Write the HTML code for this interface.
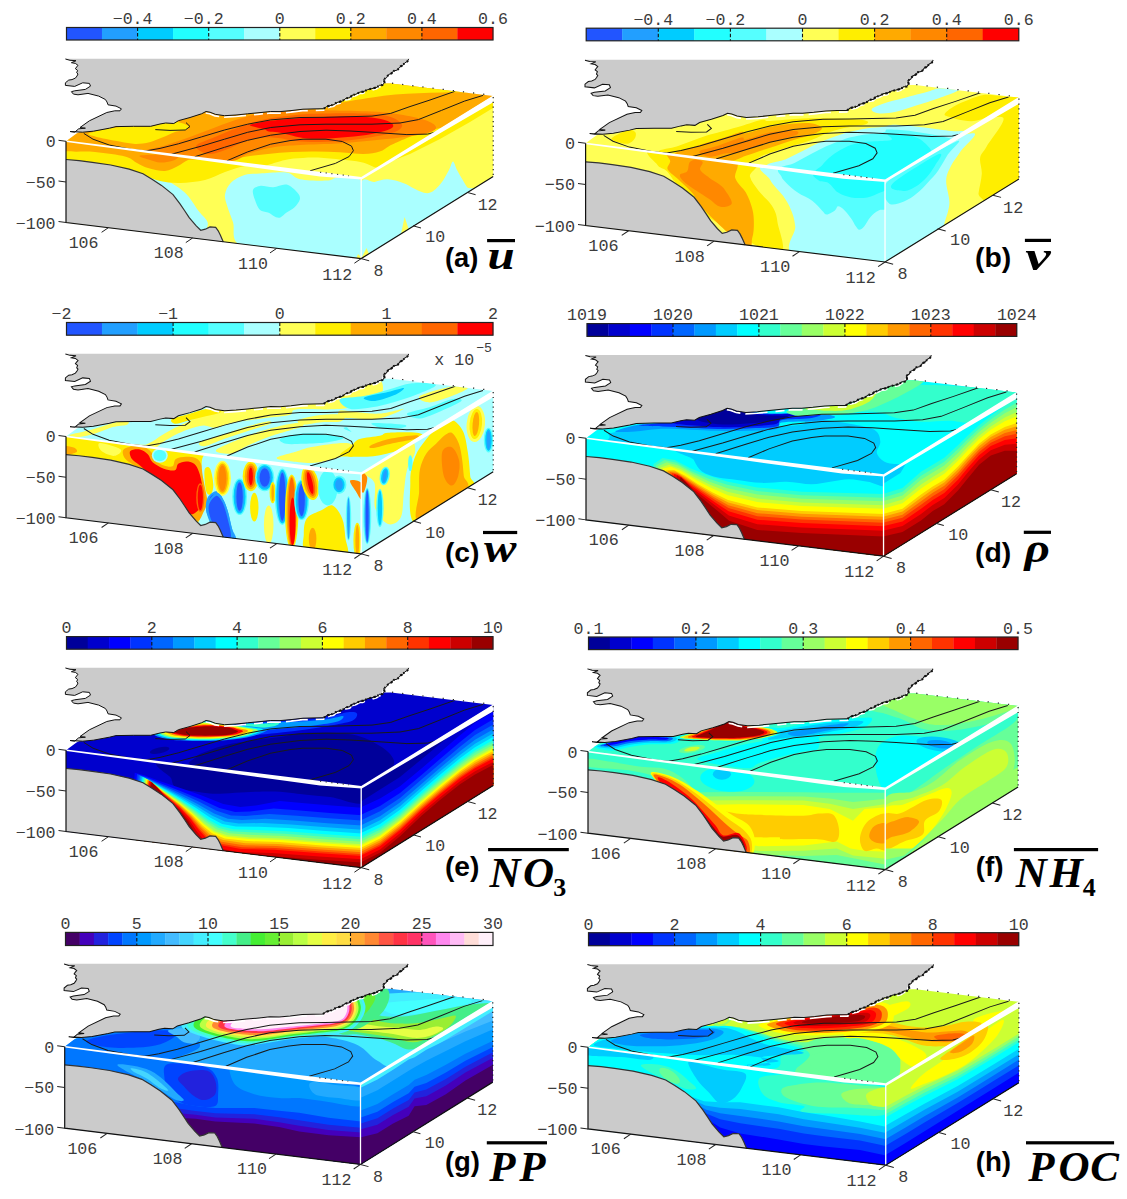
<!DOCTYPE html><html><head><meta charset="utf-8"><title>Figure: 3D mean fields (a)-(h)</title>
<style>html,body{margin:0;padding:0;background:#fff}svg{display:block}text{white-space:pre}</style></head><body>
<svg width="1127" height="1199" viewBox="0 0 1127 1199">
<defs><clipPath id="cTop"><path d="M66.0 141.3 L361.2 178.0 L493.2 96.0 L391.0 83.6 L330.0 84.0 L200.0 108.0 L150.0 115.0 L95.0 124.0 L76.5 133.5 Z"/></clipPath><clipPath id="cFront"><path d="M66.0 141.3 L361.2 178.0 L361.2 258.6 L66.0 222.5 Z"/></clipPath><clipPath id="cRight"><path d="M361.2 178.0 L493.2 96.0 L493.2 176.6 L361.2 258.6 Z"/></clipPath><clipPath id="cSea"><path d="M66.0 141.3 L361.2 178.0 L493.2 96.0 L391.0 84.0 L382.6 85.0 L379.5 85.3 L376.9 87.3 L372.0 88.6 L367.7 89.6 L363.0 91.8 L360.0 92.0 L356.0 94.2 L352.0 95.3 L350.0 97.6 L346.0 98.3 L342.3 101.1 L336.5 102.6 L334.0 104.6 L329.6 105.7 L326.5 106.6 L323.8 108.7 L314.0 108.9 L303.0 109.2 L291.0 110.6 L280.0 111.6 L270.7 111.5 L260.0 112.6 L247.6 113.8 L236.0 115.0 L224.5 115.7 L215.3 114.3 L210.0 112.2 L206.0 111.5 L201.5 113.8 L190.0 117.5 L178.4 120.7 L173.8 123.5 L165.7 123.0 L160.0 124.0 L150.7 126.3 L133.5 126.3 L116.0 126.6 L109.4 128.2 L93.4 131.2 L82.7 132.2 L74.7 132.2 L70.5 138.5 Z"/></clipPath><filter id="b2" x="-20%" y="-20%" width="140%" height="140%"><feGaussianBlur stdDeviation="2"/></filter><filter id="b3" x="-20%" y="-20%" width="140%" height="140%"><feGaussianBlur stdDeviation="3"/></filter><filter id="b5" x="-20%" y="-20%" width="140%" height="140%"><feGaussianBlur stdDeviation="5"/></filter><filter id="b8" x="-30%" y="-30%" width="160%" height="160%"><feGaussianBlur stdDeviation="8"/></filter><g id="land"><path d="M65.4 58.7 L408.7 58.7 L408.7 58.9 L407.5 61.3 L404.6 63.0 L402.6 65.6 L400.0 66.6 L397.6 70.0 L393.5 71.0 L391.5 73.4 L388.4 74.6 L386.5 77.8 L383.8 79.2 L384.5 82.5 L382.6 85.0 L379.5 85.3 L376.9 87.3 L372.0 88.6 L367.7 89.6 L363.0 91.8 L360.0 92.0 L356.0 94.2 L352.0 95.3 L350.0 97.6 L346.0 98.3 L342.3 101.1 L336.5 102.6 L334.0 104.6 L329.6 105.7 L326.5 106.6 L323.8 108.7 L314.0 108.9 L303.0 109.2 L291.0 110.6 L280.0 111.6 L270.7 111.5 L260.0 112.6 L247.6 113.8 L236.0 115.0 L224.5 115.7 L215.3 114.3 L210.0 112.2 L206.0 111.5 L201.5 113.8 L190.0 117.5 L178.4 120.7 L173.8 123.5 L165.7 123.0 L160.0 124.0 L150.7 126.3 L133.5 126.3 L116.0 126.6 L109.4 128.2 L93.4 131.2 L82.7 132.2 L74.7 132.2 L74.7 132.2 L78.7 128.8 L85.4 128.2 L80.0 127.5 L89.4 120.8 L106.8 112.5 L114.8 110.8 L120.0 110.8 L121.4 108.8 L116.0 106.1 L108.0 104.8 L107.0 102.0 L105.4 99.5 L98.7 96.1 L88.0 93.4 L78.0 94.8 L73.4 94.1 L71.4 91.7 L74.7 90.8 L85.4 89.4 L90.5 86.1 L89.4 83.4 L82.7 82.8 L74.7 86.4 L65.4 85.4 L65.4 82.8 L68.7 80.1 L72.0 79.6 L75.4 78.1 L77.0 76.0 L78.0 74.0 L76.7 72.8 L77.6 70.4 L75.4 68.7 L76.6 67.0 L78.0 65.4 L75.4 63.4 L71.4 62.7 L76.0 60.7 L70.0 60.3 L65.4 59.0 Z" fill="#cbcbcb"/><path d="M205.7 113.0 L209.7 113.7 L215.0 115.8 L224.2 117.2 L235.7 116.5 L247.3 115.3 L259.7 114.1 L270.4 113.0 L279.7 113.1 L290.7 112.1 L302.7 110.7 L313.7 110.4 L323.5 110.2 L326.2 108.1 L329.3 107.2 L333.7 106.1 L336.2 104.1 L342.0 102.6 L345.7 99.8 L349.7 99.1 L351.7 96.8 L355.7 95.7 L359.7 93.5 L362.7 93.3 L367.4 91.1 L371.7 90.1 L376.6 88.8 L379.2 86.8 L382.3 86.5 L383.5 80.7" fill="none" stroke="#fff" stroke-width="1.7" stroke-dasharray="14 5 22 8 9 4"/><path d="M65.4 59.0 L70.0 60.3 L76.0 60.7 L71.4 62.7 L75.4 63.4 L78.0 65.4 L76.6 67.0 L75.4 68.7 L77.6 70.4 L76.7 72.8 L78.0 74.0 L77.0 76.0 L75.4 78.1 L72.0 79.6 L68.7 80.1 L65.4 82.8 L65.4 85.4 L74.7 86.4 L82.7 82.8 L89.4 83.4 L90.5 86.1 L85.4 89.4 L74.7 90.8 L71.4 91.7 L73.4 94.1 L78.0 94.8 L88.0 93.4 L98.7 96.1 L105.4 99.5 L107.0 102.0 L108.0 104.8 L116.0 106.1 L121.4 108.8 L120.0 110.8 L114.8 110.8 L106.8 112.5 L89.4 120.8 L80.0 127.5 L85.4 128.2 L78.7 128.8 L74.7 132.2 L70.0 131.5 L82.7 132.2 L93.4 131.2 L109.4 128.2 L116.0 126.6 L133.5 126.3 L150.7 126.3 L160.0 124.0 L165.7 123.0 L173.8 123.5 L178.4 120.7 L190.0 117.5 L201.5 113.8 L206.0 111.5 L210.0 112.2 L215.3 114.3 L224.5 115.7 L236.0 115.0 L247.6 113.8 L260.0 112.6 L270.7 111.5 L280.0 111.6 L291.0 110.6 L303.0 109.2 L314.0 108.9 L323.8 108.7 L326.5 106.6 L329.6 105.7 L334.0 104.6 L336.5 102.6 L342.3 101.1 L346.0 98.3 L350.0 97.6 L352.0 95.3 L356.0 94.2 L360.0 92.0 L363.0 91.8 L367.7 89.6 L372.0 88.6 L376.9 87.3 L379.5 85.3 L382.6 85.0 L384.5 82.5 L383.8 79.2 L386.5 77.8 L388.4 74.6 L391.5 73.4 L393.5 71.0 L397.6 70.0 L400.0 66.6 L402.6 65.6 L404.6 63.0 L407.5 61.3 L408.7 58.9" fill="none" stroke="#111" stroke-width="1"/><path d="M323.8 108.7 L326.5 106.6 L329.6 105.7 L334.0 104.6 L336.5 102.6 L342.3 101.1 L346.0 98.3 L350.0 97.6 L352.0 95.3 L356.0 94.2 L360.0 92.0 L363.0 91.8 L367.7 89.6 L372.0 88.6 L376.9 87.3 L379.5 85.3 L382.6 85.0 L384.5 82.5 L383.8 79.2 L386.5 77.8 L388.4 74.6 L391.5 73.4 L393.5 71.0 L397.6 70.0 L400.0 66.6 L402.6 65.6 L404.6 63.0 L407.5 61.3 L408.7 58.9" fill="none" stroke="#111" stroke-width="2.1" stroke-dasharray="1.6 2.6 2.4 1.8 1.2 3.1"/></g><g id="contours" clip-path="url(#cSea)"><path d="M83.8 133.4 L93.0 139.2 L109.2 145.0 L132.3 149.6 L146.0 150.9" fill="none" stroke="#1a1a1a" stroke-width="1"/><path d="M146.0 150.9 L160.0 148.4 L178.4 143.8 L201.5 136.9 L224.5 130.0 L247.6 124.2 L270.7 119.9 L300.0 117.5 L326.0 117.3 L372.0 116.1 L390.7 113.4 L409.0 106.9 L430.0 100.0 L455.3 91.2" fill="none" stroke="#1a1a1a" stroke-width="1"/><path d="M171.5 154.2 L201.5 146.1 L224.5 139.2 L247.6 132.3 L270.7 127.5 L300.0 124.8 L326.0 124.2 L372.0 124.2 L400.0 123.0 L418.4 119.6 L441.5 110.4 L464.5 101.1 L483.0 95.4" fill="none" stroke="#1a1a1a" stroke-width="1"/><path d="M194.6 156.8 L224.5 147.3 L247.6 140.3 L270.7 135.2 L300.0 131.5 L326.0 130.2 L350.0 131.0 L372.0 132.3 L406.9 134.6 L427.6 134.1 L436.9 131.8" fill="none" stroke="#1a1a1a" stroke-width="1"/><path d="M226.9 160.8 L247.6 151.9 L270.7 144.2 L290.0 140.6 L303.0 139.2 L326.0 139.2 L342.3 141.5 L351.5 146.1 L353.4 150.7 L349.2 156.5 L335.4 163.4 L310.0 170.8" fill="none" stroke="#1a1a1a" stroke-width="1"/><path d="M155.3 129.6 L170.0 130.4 L185.3 130.0 L190.0 126.5 L186.0 122.6" fill="none" stroke="#1a1a1a" stroke-width="1"/></g><g id="seabed"><path d="M66.0 159.5 L79.0 160.6 L92.3 162.3 L110.7 165.0 L129.2 169.2 L143.0 173.8 L152.0 179.2 L161.5 185.4 L173.0 194.6 L180.0 203.8 L184.5 210.5 L189.2 217.7 L196.0 225.7 L200.7 230.3 L205.3 229.2 L210.0 226.9 L215.7 227.3 L218.2 230.8 L220.3 235.0 L223.3 241.9 L66.0 222.5 Z" fill="#cbcbcb"/><path d="M66.0 159.5 L79.0 160.6 L92.3 162.3 L110.7 165.0 L129.2 169.2 L143.0 173.8 L152.0 179.2 L161.5 185.4 L173.0 194.6 L180.0 203.8 L184.5 210.5 L189.2 217.7 L196.0 225.7 L200.7 230.3 L205.3 229.2 L210.0 226.9 L215.7 227.3 L218.2 230.8 L220.3 235.0 L223.3 241.9" fill="none" stroke="#333" stroke-width="1.2"/></g><g id="axes"><path d="M66.5 140.6 L361.2 177.1 L361.8 179.4 L320.0 176.4 L200.0 160.1 L66.5 142.1 Z" fill="#fff"/><path d="M360.8 177.3 L493.2 95.4 L493.2 102.2 L440.0 133.2 L361.4 179.8 Z" fill="#fff"/><path d="M361.2 178.0 L361.2 258.6" stroke="#fff" stroke-width="1.3"/><path d="M66.0 141.3 L66.0 222.5 L361.2 258.6 L493.2 176.6" fill="none" stroke="#111" stroke-width="1.2"/><path d="M493.2 97.0 L493.2 176.6" stroke="#222" stroke-width="1.2" stroke-dasharray="1.2 3.6"/><path d="M392.0 83.2 L493.2 95.4" stroke="#222" stroke-width="1.2" stroke-dasharray="1.2 9"/><path d="M320.0 172.2 L349.0 175.8" stroke="#333" stroke-width="1.1" stroke-dasharray="1.2 4.5"/><path d="M58.5 140.3 L66 141.3" stroke="#222" stroke-width="1"/><path d="M58.5 181.0 L66 182.0" stroke="#222" stroke-width="1"/><path d="M58.5 221.5 L66 222.5" stroke="#222" stroke-width="1"/><path d="M108.4 227.7 L101.6 232.3" stroke="#222" stroke-width="1"/><path d="M192.6 238.0 L185.8 242.6" stroke="#222" stroke-width="1"/><path d="M276.8 248.3 L270.0 252.9" stroke="#222" stroke-width="1"/><path d="M361.2 258.6 L354.4 263.2" stroke="#222" stroke-width="1"/><path d="M361.2 258.6 L369.2 260.8" stroke="#222" stroke-width="1"/><path d="M413.0 225.8 L421.0 228.0" stroke="#222" stroke-width="1"/><path d="M467.6 192.5 L475.6 194.7" stroke="#222" stroke-width="1"/></g></defs>
<rect width="1127" height="1199" fill="#fff"/>
<g transform="translate(0.00 0.00) scale(1.0000 1.0000)"><g clip-path="url(#cTop)"><rect x="60" y="50" width="440" height="215" fill="#ffaa00"/><path d="M318.0 112.0 C318.0 113.0 324.7 107.8 330.0 106.0 C335.3 104.2 342.9 102.4 350.0 101.0 C357.1 99.6 364.8 98.6 372.3 97.5 C379.9 96.4 387.6 95.3 395.3 94.6 C403.0 93.9 410.7 93.6 418.4 93.2 C426.1 92.8 433.8 92.5 441.5 92.4 C449.2 92.3 458.1 92.1 464.5 92.4 C470.9 92.7 474.6 93.7 480.0 94.0 C485.4 94.3 494.2 96.3 497.0 94.0 C499.8 91.7 516.5 83.0 497.0 80.0 C477.5 77.0 407.8 72.7 380.0 76.0 C352.2 79.3 340.3 94.0 330.0 100.0 C319.7 106.0 318.0 111.0 318.0 112.0 Z" fill="#ffee00" /><path d="M222.0 163.0 C225.2 160.5 236.3 158.6 244.0 157.1 C251.7 155.6 259.9 154.8 267.9 153.9 C275.9 153.1 283.9 152.4 291.9 152.0 C299.9 151.6 307.8 151.4 315.8 151.5 C323.8 151.6 331.8 151.9 339.8 152.3 C347.8 152.7 357.1 154.0 363.7 153.9 C370.3 153.8 375.4 152.8 379.7 151.5 C384.0 150.2 385.9 147.7 389.3 145.9 C392.7 144.2 394.9 143.2 400.0 141.0 C405.1 138.8 413.3 135.2 420.0 133.0 C426.7 130.8 434.7 129.2 440.0 128.0 C445.3 126.8 447.0 127.7 452.0 126.0 C457.0 124.3 472.0 115.7 470.0 118.0 C468.0 120.3 451.7 131.3 440.0 140.0 C428.3 148.7 413.2 161.7 400.0 170.0 C386.8 178.3 377.7 187.5 361.0 190.0 C344.3 192.5 322.7 188.0 300.0 185.0 C277.3 182.0 238.0 175.7 225.0 172.0 C212.0 168.3 218.8 165.5 222.0 163.0 Z" fill="#ffee00" /><path d="M262.0 170.0 C259.3 166.7 277.1 162.3 283.9 160.3 C290.7 158.3 296.4 158.3 303.0 157.9 C309.6 157.5 316.3 157.5 323.8 157.9 C331.3 158.3 341.2 159.5 347.8 160.3 C354.4 161.1 359.4 161.6 363.7 162.7 C367.9 163.8 370.4 165.3 373.3 166.7 C376.2 168.1 383.1 167.8 381.0 171.0 C378.9 174.2 374.5 184.5 361.0 186.0 C347.5 187.5 316.5 182.7 300.0 180.0 C283.5 177.3 264.7 173.3 262.0 170.0 Z" fill="#ffff55" /><path d="M146.0 152.0 C140.2 149.9 157.7 148.0 165.0 145.5 C172.3 143.0 181.7 140.0 190.0 137.0 C198.3 134.0 206.7 130.6 215.0 127.5 C223.3 124.4 232.2 120.8 240.0 118.5 C247.8 116.2 252.0 114.8 262.0 113.5 C272.0 112.2 288.7 111.1 300.0 110.6 C311.3 110.1 318.0 110.2 330.0 110.4 C342.0 110.6 360.3 110.8 372.0 111.5 C383.7 112.2 391.2 113.1 400.0 114.5 C408.8 115.9 419.0 117.9 425.0 120.0 C431.0 122.1 435.5 124.8 436.0 127.0 C436.5 129.2 434.0 131.2 428.0 133.0 C422.0 134.8 409.3 136.2 400.0 137.5 C390.7 138.8 382.3 139.5 372.0 140.5 C361.7 141.5 350.0 142.8 338.0 143.5 C326.0 144.2 310.5 144.4 300.0 145.0 C289.5 145.6 283.3 145.7 275.0 147.0 C266.7 148.3 257.2 150.7 250.0 153.0 C242.8 155.3 240.3 160.2 232.0 161.0 C223.7 161.8 214.3 159.5 200.0 158.0 C185.7 156.5 151.8 154.1 146.0 152.0 Z" fill="#ff8800" /><path d="M196.0 146.0 C197.2 143.2 207.7 140.2 215.0 137.0 C222.3 133.8 232.2 129.8 240.0 127.0 C247.8 124.2 252.0 122.1 262.0 120.0 C272.0 117.9 288.7 115.7 300.0 114.6 C311.3 113.5 318.0 113.5 330.0 113.4 C342.0 113.3 361.7 113.3 372.0 114.0 C382.3 114.7 387.0 115.7 392.0 117.5 C397.0 119.3 401.3 122.7 402.0 125.0 C402.7 127.3 400.0 129.7 396.0 131.5 C392.0 133.3 386.0 134.5 378.0 136.0 C370.0 137.5 357.7 139.5 348.0 140.5 C338.3 141.5 328.7 141.9 320.0 142.0 C311.3 142.1 303.0 141.7 296.0 141.0 C289.0 140.3 283.7 138.6 278.0 138.0 C272.3 137.4 267.7 136.8 262.0 137.5 C256.3 138.2 250.2 139.9 244.0 142.0 C237.8 144.1 231.0 148.0 225.0 150.0 C219.0 152.0 212.8 154.7 208.0 154.0 C203.2 153.3 194.8 148.8 196.0 146.0 Z" fill="#ff6600" /><path d="M250.3 124.8 C252.3 123.8 261.0 122.1 267.9 121.1 C274.8 120.1 283.9 119.3 291.9 118.7 C299.9 118.1 306.5 117.6 315.8 117.2 C325.1 116.8 338.5 116.4 347.8 116.4 C357.1 116.5 365.1 116.7 371.7 117.5 C378.3 118.3 384.1 119.7 387.7 121.1 C391.3 122.5 393.3 124.4 393.3 125.9 C393.3 127.4 391.3 128.6 387.7 129.9 C384.1 131.2 378.3 132.7 371.7 133.9 C365.1 135.1 355.8 136.3 347.8 137.1 C339.8 137.9 331.2 138.6 323.8 138.7 C316.4 138.8 309.0 138.6 303.1 137.9 C297.2 137.2 293.0 135.6 288.7 134.7 C284.4 133.8 280.8 132.8 277.5 132.3 C274.2 131.8 270.9 132.0 268.7 131.5 C266.4 131.0 266.1 129.8 264.0 129.1 C261.9 128.4 258.3 127.9 256.0 127.2 C253.7 126.5 248.3 125.8 250.3 124.8 Z" fill="#ff0000" /><path d="M88.7 133.5 C90.8 132.2 101.5 129.9 107.9 128.7 C114.3 127.5 120.2 126.8 127.1 126.4 C134.0 126.0 143.6 127.0 149.4 126.5 C155.2 126.0 157.9 124.3 162.2 123.5 C166.5 122.7 170.7 121.1 175.0 121.4 C179.3 121.8 185.9 124.2 187.8 125.6 C189.7 126.9 188.3 128.4 186.2 129.5 C184.1 130.6 179.0 130.6 175.0 131.9 C171.0 133.2 166.5 135.8 162.2 137.5 C157.9 139.2 153.9 141.2 149.4 142.3 C144.9 143.4 139.9 144.0 135.1 143.9 C130.3 143.8 125.5 142.6 120.7 141.8 C115.9 141.0 110.6 140.0 106.3 139.1 C102.0 138.2 98.0 137.3 95.1 136.4 C92.2 135.5 86.6 134.8 88.7 133.5 Z" fill="#ffee00" /></g><use href="#land"/><use href="#contours"/><g clip-path="url(#cFront)"><rect x="60" y="50" width="440" height="215" fill="#ffff55"/><path d="M241.0 246.0 C229.8 240.6 235.3 229.0 233.0 222.3 C230.7 215.7 228.5 210.7 227.2 206.1 C225.9 201.5 224.4 198.4 225.0 194.6 C225.6 190.8 227.4 186.3 230.7 183.0 C233.9 179.7 239.6 176.6 244.5 175.0 C249.4 173.4 253.0 173.9 260.0 173.5 C267.0 173.1 279.9 171.7 286.6 172.6 C293.3 173.5 293.4 177.9 300.0 179.2 C306.6 180.5 319.9 180.8 326.5 180.6 C333.1 180.4 333.4 176.8 339.8 177.9 C346.2 179.0 360.8 173.2 365.0 187.2 C369.2 201.2 375.8 250.7 365.0 262.0 C354.2 273.3 320.7 257.7 300.0 255.0 C279.3 252.3 252.2 251.4 241.0 246.0 Z" fill="#aaffff" /><path d="M253.0 190.0 C253.8 187.7 256.6 186.4 260.0 185.9 C263.4 185.4 268.9 187.4 273.3 187.2 C277.7 187.0 282.6 183.7 286.6 184.6 C290.6 185.5 295.1 190.1 297.3 192.5 C299.5 194.9 300.3 196.8 299.9 199.2 C299.4 201.6 296.8 205.0 294.6 207.2 C292.4 209.4 289.3 210.7 286.6 212.5 C283.9 214.3 281.7 217.8 278.6 217.8 C275.5 217.8 271.1 213.8 268.0 212.5 C264.9 211.2 262.2 212.0 260.0 209.9 C257.8 207.8 256.2 203.3 255.0 200.0 C253.8 196.7 252.2 192.3 253.0 190.0 Z" fill="#55ffff" /><path d="M147.6 171.5 C149.9 171.7 155.3 173.8 161.5 177.3 C167.6 180.7 178.4 186.7 184.5 192.3 C190.7 197.9 194.5 205.7 198.4 210.7 C202.2 215.7 206.7 218.8 207.6 222.3 C208.6 225.7 206.1 230.3 204.2 231.5 C202.2 232.7 198.6 231.5 196.1 229.2 C193.6 226.9 191.8 221.9 189.2 217.7 C186.5 213.4 182.6 207.5 179.9 203.8 C177.2 200.2 176.1 198.6 173.0 195.7 C169.9 192.9 165.7 189.8 161.5 186.5 C157.2 183.2 149.9 178.6 147.6 176.1 C145.3 173.6 145.3 171.3 147.6 171.5 Z" fill="#aaffff" /><path d="M60.0 172.0 C66.7 177.5 88.3 168.2 100.0 168.0 C111.7 167.8 122.3 169.7 130.0 171.0 C137.7 172.3 141.0 174.3 146.0 176.0 C151.0 177.7 154.3 179.8 160.0 181.0 C165.7 182.2 172.5 183.2 180.0 183.0 C187.5 182.8 197.5 181.8 205.0 180.0 C212.5 178.2 218.3 174.3 225.0 172.0 C231.7 169.7 238.8 166.8 245.0 166.0 C251.2 165.2 260.3 168.0 262.0 167.0 C263.7 166.0 265.3 162.8 255.0 160.0 C244.7 157.2 232.5 154.2 200.0 150.0 C167.5 145.8 83.3 131.3 60.0 135.0 C36.7 138.7 53.3 166.5 60.0 172.0 Z" fill="#ffee00" /><path d="M60.0 150.0 C65.8 152.8 84.2 150.9 95.0 152.0 C105.8 153.1 118.0 154.7 125.0 156.5 C132.0 158.3 133.2 161.1 137.0 163.0 C140.8 164.9 143.3 166.7 148.0 168.0 C152.7 169.3 160.0 171.3 165.0 171.0 C170.0 170.7 174.2 167.8 178.0 166.0 C181.8 164.2 184.7 161.2 188.0 160.0 C191.3 158.8 196.3 160.2 198.0 158.5 C199.7 156.8 221.0 153.9 198.0 150.0 C175.0 146.1 83.0 135.0 60.0 135.0 C37.0 135.0 54.2 147.2 60.0 150.0 Z" fill="#ffaa00" /><path d="M140.0 155.5 C136.7 156.4 146.7 158.8 150.0 160.0 C153.3 161.2 156.3 162.3 160.0 162.5 C163.7 162.7 169.0 161.9 172.0 161.0 C175.0 160.1 178.3 158.1 178.0 157.0 C177.7 155.9 176.3 154.8 170.0 154.5 C163.7 154.2 143.3 154.6 140.0 155.5 Z" fill="#ff8800" /><path d="M355.0 262.0 L358.0 254.0 L361.0 257.0 L363.0 262.0 Z" fill="#ffff55" /></g><use href="#seabed"/><g clip-path="url(#cRight)"><rect x="60" y="50" width="440" height="215" fill="#ffff55"/><path d="M360.0 186.2 C362.4 172.8 369.9 183.1 374.5 181.9 C379.1 180.7 382.9 179.0 387.8 179.2 C392.7 179.4 398.4 181.2 403.7 183.2 C409.0 185.2 415.3 189.6 419.7 191.2 C424.1 192.8 426.8 193.9 430.3 192.6 C433.9 191.3 437.9 187.0 441.0 183.2 C444.1 179.4 447.0 173.5 449.0 169.9 C451.0 166.3 451.7 161.5 453.0 161.5 C454.3 161.5 455.4 167.0 457.0 169.9 C458.6 172.8 460.6 176.3 462.3 179.2 C464.0 182.1 465.5 184.7 467.1 187.2 C468.7 189.7 479.9 185.2 472.0 194.0 C464.1 202.8 438.7 228.7 420.0 240.0 C401.3 251.3 370.0 271.0 360.0 262.0 C350.0 253.0 357.6 199.5 360.0 186.2 Z" fill="#aaffff" /><path d="M388.0 162.5 L493.0 97.0 L493.0 108.0 L470.0 122.0 L440.0 139.0 L410.0 154.0 Z" fill="#ffee00" /><path d="M401.0 234.0 L404.6 217.0 L409.0 230.0 Z" fill="#ffff55" /><path d="M361.0 259.0 L366.5 248.0 L369.0 254.0 Z" fill="#ffff55" /></g><use href="#axes"/><g font-family="Liberation Mono, monospace" fill="#3c3c3c"><text x="55.6" y="147.2" font-size="16.6" text-anchor="end" >0</text><text x="55.6" y="187.8" font-size="16.6" text-anchor="end" >−50</text><text x="55.6" y="228.9" font-size="16.6" text-anchor="end" >−100</text><text x="83.6" y="247.8" font-size="16.6" text-anchor="middle" >106</text><text x="168.7" y="258.4" font-size="16.6" text-anchor="middle" >108</text><text x="253.0" y="268.5" font-size="16.6" text-anchor="middle" >110</text><text x="337.2" y="279.6" font-size="16.6" text-anchor="middle" >112</text><text x="378.6" y="275.8" font-size="16.6" text-anchor="middle" >8</text><text x="435.3" y="242.3" font-size="16.6" text-anchor="middle" >10</text><text x="487.6" y="209.8" font-size="16.6" text-anchor="middle" >12</text></g></g>
<g transform="translate(518.66 0.49) scale(1.0143 1.0112)"><g clip-path="url(#cTop)"><rect x="60" y="50" width="440" height="215" fill="#ffff55"/><path d="M91.9 136.0 C93.5 134.0 104.1 129.0 107.9 128.0 C111.8 127.1 114.0 129.0 115.1 130.4 C116.2 131.9 115.5 135.0 114.3 136.8 C113.1 138.7 110.6 141.0 107.9 141.6 C105.3 142.2 101.0 141.3 98.3 140.3 C95.7 139.4 90.3 138.1 91.9 136.0 Z" fill="#ffee00" /><path d="M139.9 150.4 C131.9 148.0 150.5 146.5 155.8 144.5 C161.2 142.5 166.5 140.4 171.8 138.4 C177.1 136.5 182.5 134.5 187.8 132.8 C193.1 131.2 198.4 130.0 203.7 128.5 C209.1 127.1 213.7 125.8 219.7 124.1 C225.8 122.3 235.3 118.8 240.0 118.0 C244.7 117.2 241.3 119.4 247.9 119.2 C254.6 119.0 269.2 117.2 279.9 116.8 C290.5 116.4 301.7 116.6 311.8 116.8 C321.9 117.1 335.5 117.5 340.6 118.4 C345.6 119.4 345.6 121.1 342.1 122.4 C338.7 123.8 326.2 125.0 319.8 126.4 C313.4 127.9 308.9 129.3 303.8 131.2 C298.8 133.1 296.1 135.2 289.4 137.6 C282.8 140.0 272.1 142.9 263.9 145.6 C255.6 148.2 245.8 151.1 239.9 153.6 C234.1 156.0 234.8 159.3 228.7 160.3 C222.7 161.2 218.6 160.8 203.7 159.2 C188.9 157.5 147.8 152.9 139.9 150.4 Z" fill="#ffee00" /><path d="M154.2 152.0 C151.6 150.0 166.2 147.1 171.8 145.1 C177.4 143.1 182.5 141.7 187.8 140.0 C193.1 138.4 198.4 136.9 203.7 135.2 C209.1 133.5 216.4 130.5 219.7 129.8 C223.1 129.1 219.3 132.0 224.0 131.2 C228.7 130.4 239.9 126.4 247.9 124.8 C255.9 123.2 265.0 122.2 271.9 121.6 C278.8 121.1 284.9 120.8 289.4 121.6 C294.0 122.4 299.0 124.6 299.0 126.4 C299.0 128.3 294.0 130.9 289.4 132.8 C284.9 134.7 278.8 135.5 271.9 137.6 C265.0 139.7 255.9 142.9 247.9 145.6 C239.9 148.2 230.3 151.4 224.0 153.6 C217.6 155.8 215.6 158.1 209.6 158.7 C203.6 159.3 197.0 158.4 187.8 157.3 C178.6 156.2 156.9 154.0 154.2 152.0 Z" fill="#ffaa00" /><path d="M178.2 149.3 C179.5 147.6 188.8 146.3 195.8 144.0 C202.7 141.7 215.0 136.6 219.7 135.6 C224.4 134.5 219.3 138.5 224.0 137.6 C228.7 136.7 239.9 131.9 247.9 130.4 C255.9 128.9 267.3 128.5 271.9 128.8 C276.4 129.1 276.4 130.8 275.1 132.0 C273.7 133.2 269.7 134.3 263.9 136.0 C258.0 137.7 247.9 140.0 239.9 142.4 C231.9 144.8 222.0 148.9 216.0 150.4 C209.9 151.8 208.4 150.5 203.7 151.2 C199.0 151.9 192.0 154.7 187.8 154.4 C183.5 154.1 176.9 151.0 178.2 149.3 Z" fill="#ff8800" /><path d="M246.3 165.5 C238.3 161.0 258.3 159.6 263.9 156.8 C269.5 154.0 274.5 151.4 279.9 148.8 C285.2 146.1 290.5 143.2 295.8 140.8 C301.2 138.4 306.5 136.3 311.8 134.4 C317.1 132.5 322.5 130.9 327.8 129.6 C333.1 128.3 338.4 127.2 343.7 126.4 C349.1 125.6 355.0 125.4 359.7 124.8 C364.4 124.2 364.6 122.6 371.9 122.8 C379.3 123.0 394.3 125.0 403.9 126.0 C413.5 127.1 422.8 128.8 429.4 129.2 C436.1 129.6 439.6 129.0 443.8 128.4 C448.1 127.8 452.1 125.3 455.0 125.6 C457.9 125.8 469.9 122.4 461.4 130.0 C452.9 137.7 420.1 162.0 403.9 171.6 C387.6 181.1 379.3 185.5 364.0 187.5 C348.6 189.6 331.4 187.6 311.8 183.9 C292.2 180.3 254.3 170.1 246.3 165.5 Z" fill="#aaffff" /><path d="M259.9 167.9 C253.2 164.1 267.2 163.4 271.9 160.8 C276.5 158.1 282.5 154.8 287.8 152.0 C293.2 149.2 298.5 146.4 303.8 144.0 C309.1 141.6 314.5 139.3 319.8 137.6 C325.1 135.9 329.1 134.8 335.8 133.6 C342.4 132.4 355.0 131.4 359.7 130.4 C364.4 129.4 359.3 127.8 364.0 127.6 C368.7 127.4 379.9 128.3 387.9 129.2 C395.9 130.2 405.5 132.0 411.9 133.2 C418.3 134.4 421.7 135.6 426.2 136.4 C430.8 137.3 442.8 133.0 439.0 138.3 C435.3 143.7 416.4 160.2 403.9 168.4 C391.4 176.6 379.3 184.9 364.0 187.5 C348.6 190.1 329.1 187.2 311.8 183.9 C294.5 180.7 266.5 171.8 259.9 167.9 Z" fill="#55ffff" /><path d="M294.2 171.1 C289.4 168.2 296.6 166.1 299.0 163.2 C301.4 160.2 304.9 156.5 308.6 153.6 C312.3 150.6 316.9 147.7 321.4 145.6 C325.9 143.5 330.7 141.9 335.8 140.8 C340.8 139.7 346.4 139.7 351.7 139.2 C357.1 138.7 365.7 138.9 367.7 137.6 C369.7 136.3 360.6 132.2 364.0 131.6 C367.3 131.0 381.8 132.4 387.9 134.0 C394.0 135.6 397.5 138.1 400.7 141.2 C403.9 144.3 408.4 148.4 407.1 152.4 C405.8 156.4 399.9 159.8 392.7 165.2 C385.5 170.5 374.8 181.7 364.0 184.3 C353.1 186.9 339.4 182.9 327.8 180.7 C316.2 178.5 299.0 174.1 294.2 171.1 Z" fill="#22ffff" /><path d="M348.0 107.7 C348.5 106.1 353.8 103.9 359.2 102.1 C364.5 100.2 372.5 98.5 379.9 96.5 C387.4 94.5 398.0 91.7 403.9 90.1 C409.7 88.5 409.7 87.4 415.1 86.9 C420.4 86.4 433.4 86.2 435.8 86.9 C438.2 87.6 433.4 89.2 429.4 90.9 C425.4 92.6 418.0 95.2 411.9 97.3 C405.8 99.4 399.4 101.5 392.7 103.7 C386.1 105.8 378.1 108.7 371.9 110.1 C365.8 111.4 360.0 112.1 356.0 111.7 C352.0 111.3 347.5 109.3 348.0 107.7 Z" fill="#aaffff" /><path d="M429.4 104.5 C433.4 102.1 438.8 99.9 443.8 98.1 C448.9 96.2 453.9 93.8 459.8 93.3 C465.6 92.8 472.8 94.4 479.0 94.9 C485.1 95.4 495.7 94.9 496.5 96.5 C497.3 98.1 488.5 101.8 483.7 104.5 C479.0 107.1 473.1 110.1 467.8 112.5 C462.5 114.9 456.6 117.8 451.8 118.8 C447.0 119.9 443.3 119.4 439.0 118.8 C434.8 118.3 429.4 116.7 426.2 115.7 C423.1 114.6 419.3 114.3 419.9 112.5 C420.4 110.6 425.4 106.9 429.4 104.5 Z" fill="#ffee00" /></g><use href="#land"/><use href="#contours"/><g clip-path="url(#cFront)"><rect x="60" y="50" width="440" height="215" fill="#ffff55"/><path d="M132.7 146.4 C117.3 147.1 134.4 158.7 136.7 162.4 C138.9 166.1 143.1 165.6 146.2 168.8 C149.4 172.0 151.6 177.3 155.8 181.6 C160.1 185.8 167.5 189.5 171.8 194.3 C176.1 199.1 167.5 200.9 181.4 210.3 C195.3 219.7 242.8 249.3 255.1 250.7 C267.4 252.1 256.0 226.8 255.1 218.8 C254.2 210.8 252.6 207.9 249.5 202.8 C246.5 197.7 240.3 193.2 236.7 188.4 C233.1 183.6 229.3 179.1 228.0 174.1 C226.6 169.0 244.6 162.7 228.7 158.1 C212.9 153.5 148.0 145.7 132.7 146.4 Z" fill="#ffee00" /><path d="M149.4 148.0 C139.2 148.5 149.8 156.0 149.4 159.2 C149.0 162.4 145.4 164.0 147.0 167.2 C148.6 170.4 154.9 174.4 159.0 178.4 C163.2 182.4 167.8 186.3 171.8 191.1 C175.8 195.9 174.3 198.2 183.0 207.1 C191.7 216.0 216.1 239.7 224.0 244.3 C231.9 248.9 229.0 238.7 230.3 234.7 C231.7 230.8 231.9 225.2 231.9 220.4 C231.9 215.6 231.7 211.1 230.3 206.0 C229.0 200.9 226.8 195.1 224.0 190.0 C221.2 185.0 215.7 181.2 213.6 175.7 C211.4 170.1 221.9 161.1 211.2 156.5 C200.5 151.9 159.7 147.6 149.4 148.0 Z" fill="#ffaa00" /><path d="M168.6 160.0 C167.1 161.9 167.8 166.7 166.2 168.8 C164.6 170.8 159.7 170.7 159.0 172.3 C158.4 173.9 159.6 175.8 162.2 178.4 C164.9 181.0 170.7 185.0 175.0 187.9 C179.3 190.9 183.8 193.6 187.8 196.2 C191.8 198.9 195.2 203.2 199.0 203.9 C202.7 204.7 209.3 203.4 210.1 200.7 C210.9 198.1 205.9 191.1 203.7 187.9 C201.6 184.7 200.0 183.7 197.4 181.6 C194.7 179.4 190.8 177.5 187.8 175.2 C184.7 172.8 180.1 170.0 179.0 167.5 C177.9 165.0 182.1 161.6 181.4 160.0 C180.7 158.3 177.1 157.6 175.0 157.6 C172.9 157.6 170.1 158.1 168.6 160.0 Z" fill="#ff8800" /><path d="M247.1 162.9 C226.9 163.7 245.7 172.2 247.9 177.2 C250.2 182.3 257.2 188.2 260.7 193.2 C264.2 198.3 266.7 202.5 268.7 207.6 C270.7 212.7 271.9 215.8 272.7 223.6 C273.5 231.3 257.4 246.7 273.5 253.9 C289.6 261.1 353.3 280.3 369.3 266.7 C385.3 253.1 389.7 189.8 369.3 172.5 C348.9 155.2 267.3 162.1 247.1 162.9 Z" fill="#aaffff" /><path d="M259.9 166.1 C251.1 167.1 258.4 171.7 259.1 174.1 C259.8 176.5 261.2 177.8 263.9 180.4 C266.5 183.1 270.8 187.1 275.1 190.0 C279.3 193.0 285.4 195.1 289.4 198.0 C293.4 200.9 296.6 205.3 299.0 207.6 C301.4 209.9 301.7 211.6 303.8 211.6 C305.9 211.6 309.9 208.9 311.8 207.6 C313.7 206.3 313.4 203.6 315.0 203.6 C316.6 203.6 319.3 205.6 321.4 207.6 C323.5 209.6 325.9 212.9 327.8 215.6 C329.6 218.2 331.2 221.7 332.6 223.6 C333.9 225.4 334.4 226.8 335.8 226.8 C337.1 226.8 338.7 225.7 340.6 223.6 C342.4 221.4 344.5 216.6 346.9 214.0 C349.3 211.3 351.7 209.3 354.9 207.6 C358.1 205.9 364.2 208.7 366.1 203.6 C368.0 198.5 375.2 183.2 366.1 177.2 C357.1 171.3 329.5 169.5 311.8 167.7 C294.1 165.8 268.7 165.0 259.9 166.1 Z" fill="#55ffff" /><path d="M295.8 170.9 C284.1 170.7 294.2 176.5 295.8 178.0 C297.4 179.6 302.2 178.4 305.4 180.4 C308.6 182.4 311.3 187.6 315.0 190.0 C318.7 192.4 323.0 194.0 327.8 194.8 C332.6 195.6 339.0 195.6 343.7 194.8 C348.5 194.0 352.8 191.6 356.5 190.0 C360.3 188.4 364.5 187.1 366.1 185.2 C367.7 183.4 377.8 181.2 366.1 178.8 C354.4 176.5 307.5 171.0 295.8 170.9 Z" fill="#22ffff" /></g><use href="#seabed"/><g clip-path="url(#cRight)"><rect x="60" y="50" width="440" height="215" fill="#ffee00"/><path d="M477.4 115.7 C481.6 118.3 465.1 137.7 461.4 144.4 C457.7 151.1 455.8 151.1 455.0 155.6 C454.2 160.1 456.9 165.7 456.6 171.6 C456.3 177.4 454.2 184.3 453.4 190.7 C452.6 197.1 468.0 196.3 451.8 209.9 C435.6 223.5 371.9 279.1 356.0 272.2 C340.0 265.3 342.7 192.3 356.0 168.4 C369.3 144.4 415.6 137.2 435.8 128.4 C456.1 119.6 473.1 113.0 477.4 115.7 Z" fill="#ffff55" /><path d="M445.4 131.6 C458.7 128.4 439.0 143.9 435.8 149.2 C432.6 154.5 428.6 158.8 426.2 163.6 C423.9 168.4 421.7 171.8 421.5 177.9 C421.2 184.1 424.9 193.4 424.7 200.3 C424.4 207.2 421.5 214.4 419.9 219.5 C418.3 224.5 425.7 221.9 415.1 230.6 C404.4 239.4 365.8 282.6 356.0 272.2 C346.1 261.8 341.1 191.8 356.0 168.4 C370.9 144.9 432.1 134.8 445.4 131.6 Z" fill="#aaffff" /><path d="M364.8 177.9 C353.7 188.1 362.2 196.8 364.8 200.3 C367.3 203.8 375.3 200.3 379.9 198.7 C384.6 197.1 388.7 193.9 392.7 190.7 C396.7 187.5 400.4 183.3 403.9 179.5 C407.3 175.8 410.3 172.9 413.5 168.4 C416.7 163.8 420.1 157.2 423.1 152.4 C426.0 147.6 440.8 135.4 431.0 139.6 C421.3 143.9 375.8 167.8 364.8 177.9 Z" fill="#55ffff" /><path d="M368.0 181.9 C363.4 187.4 376.1 187.9 379.9 188.3 C383.8 188.7 387.4 186.6 391.1 184.3 C394.8 182.1 399.1 178.2 402.3 174.7 C405.5 171.3 407.9 167.3 410.3 163.6 C412.7 159.8 417.2 153.7 416.7 152.4 C416.1 151.1 415.2 150.7 407.1 155.6 C399.0 160.5 372.5 176.5 368.0 181.9 Z" fill="#22ffff" /></g><use href="#axes"/><g font-family="Liberation Mono, monospace" fill="#3c3c3c"><text x="55.6" y="147.2" font-size="16.6" text-anchor="end" >0</text><text x="55.6" y="187.8" font-size="16.6" text-anchor="end" >−50</text><text x="55.6" y="228.9" font-size="16.6" text-anchor="end" >−100</text><text x="83.6" y="247.8" font-size="16.6" text-anchor="middle" >106</text><text x="168.7" y="258.4" font-size="16.6" text-anchor="middle" >108</text><text x="253.0" y="268.5" font-size="16.6" text-anchor="middle" >110</text><text x="337.2" y="279.6" font-size="16.6" text-anchor="middle" >112</text><text x="378.6" y="275.8" font-size="16.6" text-anchor="middle" >8</text><text x="435.3" y="242.3" font-size="16.6" text-anchor="middle" >10</text><text x="487.6" y="209.8" font-size="16.6" text-anchor="middle" >12</text></g></g>
<g transform="translate(0.00 295.00) scale(1.0000 1.0010)"><g clip-path="url(#cTop)"><rect x="60" y="50" width="440" height="215" fill="#aaffff"/><path d="M69.6 139.9 C71.7 138.7 84.5 136.4 91.9 134.3 C99.4 132.3 108.4 128.9 114.3 127.5 C120.2 126.0 125.0 125.2 127.1 125.6 C129.2 125.9 129.5 128.5 127.1 129.5 C124.7 130.6 118.0 130.5 112.7 131.9 C107.4 133.4 100.7 136.7 95.1 138.3 C89.5 140.0 83.4 141.6 79.2 141.8 C74.9 142.1 67.5 141.2 69.6 139.9 Z" fill="#ffff55" /><path d="M69.6 141.8 C74.6 142.1 88.2 144.2 99.9 145.5 C111.6 146.8 131.6 149.1 139.9 149.5 C148.1 149.9 145.7 149.5 149.4 147.9 C153.2 146.3 158.0 142.5 162.2 139.9 C166.5 137.4 170.7 134.9 175.0 132.7 C179.3 130.6 183.0 129.1 187.8 126.8 C192.6 124.6 198.4 121.2 203.7 119.2 C209.1 117.1 213.7 115.2 219.7 114.4 C225.8 113.6 235.3 114.8 240.0 114.4 C244.7 114.0 238.6 112.9 247.9 111.9 C257.2 111.0 282.5 110.1 295.8 108.7 C309.1 107.4 317.1 107.2 327.8 104.0 C338.4 100.8 351.0 92.8 359.7 89.6 C368.4 86.4 376.6 82.9 380.0 84.8 C383.4 86.7 384.7 96.2 380.0 100.8 C375.3 105.3 360.4 109.7 351.7 111.9 C343.0 114.2 337.1 113.9 327.8 114.3 C318.5 114.7 302.2 113.4 295.8 114.3 C289.4 115.3 294.8 118.5 289.4 119.9 C284.1 121.4 273.5 121.8 263.9 123.1 C254.3 124.5 239.9 126.3 231.9 127.9 C224.0 129.5 220.7 132.3 216.0 132.7 C211.3 133.1 208.4 130.1 203.7 130.3 C199.0 130.6 192.6 132.7 187.8 134.3 C183.0 135.9 179.0 137.9 175.0 139.9 C171.0 141.9 168.1 144.1 163.8 146.3 C159.6 148.6 158.8 153.2 149.4 153.5 C140.1 153.8 121.2 149.5 107.9 147.9 C94.6 146.3 76.0 144.9 69.6 143.9 C63.2 142.9 64.5 141.6 69.6 141.8 Z" fill="#ffff55" /><path d="M171.8 124.0 C173.9 122.4 182.5 120.8 187.8 119.2 C193.1 117.6 198.4 115.4 203.7 114.4 C209.1 113.3 217.1 112.2 219.7 112.8 C222.4 113.3 222.4 116.1 219.7 117.6 C217.1 119.0 209.1 120.2 203.7 121.6 C198.4 122.9 192.6 124.4 187.8 125.6 C183.0 126.8 177.7 129.0 175.0 128.7 C172.3 128.5 169.7 125.6 171.8 124.0 Z" fill="#ffee00" /><path d="M216.0 155.1 C217.3 152.7 231.9 147.2 239.9 143.9 C247.9 140.6 254.6 137.8 263.9 135.1 C273.2 132.4 289.4 128.6 295.8 127.9 C302.2 127.3 306.2 129.0 302.2 131.1 C298.2 133.2 280.9 137.5 271.9 140.7 C262.8 143.9 254.6 147.3 247.9 150.3 C241.3 153.2 237.3 157.5 231.9 158.3 C226.6 159.1 214.6 157.5 216.0 155.1 Z" fill="#ffff55" /><path d="M200.0 147.1 C203.2 145.1 216.0 141.8 224.0 139.1 C231.9 136.4 240.7 133.2 247.9 131.1 C255.1 129.0 263.4 126.7 267.1 126.3 C270.8 125.9 273.5 127.1 270.3 128.7 C267.1 130.3 255.6 133.4 247.9 135.9 C240.2 138.4 231.1 141.4 224.0 143.9 C216.8 146.4 208.8 150.5 204.8 151.1 C200.8 151.6 196.8 149.1 200.0 147.1 Z" fill="#ffff55" /><path d="M276.7 163.1 C276.1 161.3 290.0 158.5 295.8 156.7 C301.7 154.8 303.8 153.3 311.8 151.9 C319.8 150.4 336.6 147.9 343.7 147.9 C350.9 147.9 354.4 149.9 354.9 151.9 C355.5 153.9 352.8 157.3 346.9 159.9 C341.1 162.4 327.8 165.8 319.8 167.0 C311.8 168.2 306.2 167.7 299.0 167.0 C291.8 166.4 277.2 164.8 276.7 163.1 Z" fill="#ffff55" /><path d="M299.0 124.7 C302.2 123.1 313.9 120.7 321.4 119.9 C328.8 119.1 340.6 118.9 343.7 119.9 C346.9 121.0 344.3 125.1 340.6 126.3 C336.8 127.5 327.8 126.6 321.4 127.1 C315.0 127.6 305.9 129.9 302.2 129.5 C298.5 129.1 295.8 126.3 299.0 124.7 Z" fill="#ffff55" /><path d="M351.7 150.3 C355.0 147.6 355.0 145.5 359.7 143.9 C364.4 142.3 375.3 141.7 380.0 140.7 C384.7 139.7 381.8 138.2 387.9 137.7 C394.0 137.2 410.8 136.9 416.7 137.7 C422.5 138.5 424.7 140.1 423.1 142.5 C421.5 144.9 414.3 149.2 407.1 152.1 C399.9 155.0 388.4 158.5 379.9 160.1 C371.4 161.7 362.6 161.7 356.0 161.7 C349.3 161.7 340.7 162.0 340.0 160.1 C339.3 158.2 348.4 153.0 351.7 150.3 Z" fill="#ffee00" /><path d="M370.3 150.5 C372.7 149.0 380.5 145.8 387.9 144.1 C395.4 142.4 410.3 140.2 415.1 140.1 C419.9 140.0 420.4 142.0 416.7 143.3 C412.9 144.6 399.9 146.5 392.7 148.1 C385.5 149.7 377.3 152.5 373.5 152.9 C369.8 153.3 368.0 151.9 370.3 150.5 Z" fill="#ffaa00" /><path d="M279.9 143.9 C281.5 142.3 289.2 140.0 295.8 139.1 C302.5 138.2 311.8 137.8 319.8 138.3 C327.8 138.8 342.4 140.8 343.7 142.3 C345.1 143.8 334.4 146.0 327.8 147.1 C321.1 148.1 310.7 148.4 303.8 148.7 C296.9 148.9 290.2 149.5 286.2 148.7 C282.3 147.9 278.3 145.5 279.9 143.9 Z" fill="#55ffff" /><path d="M343.7 132.7 C345.1 131.8 353.7 131.0 359.7 131.1 C365.8 131.2 378.0 134.0 380.0 133.5 C382.0 133.0 368.0 128.8 371.9 128.1 C375.9 127.5 399.1 128.9 403.9 129.7 C408.7 130.5 406.0 132.4 400.7 132.9 C395.4 133.4 380.7 133.2 371.9 132.9 C363.2 132.6 351.4 130.7 348.0 131.3 C344.6 131.9 352.4 136.5 351.7 136.7 C351.0 136.9 342.4 133.6 343.7 132.7 Z" fill="#55ffff" /><path d="M340.0 104.2 C342.4 102.0 356.0 102.6 364.0 101.0 C371.9 99.4 379.9 96.7 387.9 94.6 C395.9 92.5 403.9 89.0 411.9 88.2 C419.9 87.4 435.0 87.9 435.8 89.8 C436.6 91.7 423.9 96.4 416.7 99.4 C409.5 102.3 400.2 105.2 392.7 107.4 C385.3 109.5 379.1 111.1 371.9 112.2 C364.8 113.2 354.9 115.1 349.6 113.7 C344.3 112.4 337.6 106.3 340.0 104.2 Z" fill="#55ffff" /><path d="M364.0 102.6 C366.1 101.1 381.3 98.6 387.9 97.0 C394.6 95.4 402.6 92.6 403.9 93.0 C405.2 93.4 400.7 97.2 395.9 99.4 C391.1 101.5 380.5 105.2 375.1 105.8 C369.8 106.3 361.8 104.0 364.0 102.6 Z" fill="#00ccff" /><path d="M419.9 101.0 C423.6 98.3 443.8 92.7 451.8 91.4 C459.8 90.1 467.8 91.4 467.8 93.0 C467.8 94.6 458.2 98.6 451.8 101.0 C445.4 103.4 434.8 107.4 429.4 107.4 C424.1 107.4 416.1 103.6 419.9 101.0 Z" fill="#ffff55" /><path d="M340.0 115.3 C342.7 114.5 349.3 116.4 356.0 116.9 C362.6 117.5 371.9 119.1 379.9 118.5 C387.9 118.0 403.9 113.0 403.9 113.7 C403.9 114.5 387.9 121.7 379.9 123.3 C371.9 124.9 362.6 123.6 356.0 123.3 C349.3 123.1 342.7 123.1 340.0 121.7 C337.3 120.4 337.3 116.1 340.0 115.3 Z" fill="#ffff55" /><path d="M407.1 118.5 C408.7 116.7 422.0 114.5 429.4 112.2 C436.9 109.8 446.5 105.2 451.8 104.2 C457.1 103.1 463.0 103.9 461.4 105.8 C459.8 107.6 449.1 112.4 442.2 115.3 C435.3 118.3 425.7 122.8 419.9 123.3 C414.0 123.9 405.5 120.4 407.1 118.5 Z" fill="#55ffff" /></g><use href="#land"/><use href="#contours"/><g clip-path="url(#cFront)"><rect x="60" y="50" width="440" height="215" fill="#aaffff"/><path d="M64.8 139.9 C74.6 138.1 108.7 147.4 123.9 149.5 C139.1 151.6 142.5 151.1 155.8 152.7 C169.1 154.3 195.8 153.0 203.7 159.1 C211.7 165.2 204.8 178.0 203.7 189.4 C202.7 200.9 202.7 224.0 197.4 227.8 C192.0 231.5 184.0 221.7 171.8 211.8 C159.6 202.0 141.7 177.2 123.9 168.7 C106.1 160.2 74.6 165.5 64.8 160.7 C54.9 155.9 54.9 141.8 64.8 139.9 Z" fill="#ffee00" /><path d="M64.8 151.1 C66.4 150.0 72.4 151.8 74.4 152.7 C76.4 153.6 77.6 155.6 76.8 156.7 C76.0 157.8 71.6 159.0 69.6 159.4 C67.6 159.9 65.6 160.8 64.8 159.4 C64.0 158.0 63.2 152.2 64.8 151.1 Z" fill="#ffaa00" /><path d="M99.9 147.9 C103.1 147.6 118.3 152.2 120.7 154.3 C123.1 156.4 117.5 160.4 114.3 160.7 C111.1 161.0 103.9 158.0 101.5 155.9 C99.1 153.8 96.7 148.2 99.9 147.9 Z" fill="#ffff55" /><path d="M123.1 155.1 C124.2 153.0 128.5 151.8 131.9 151.1 C135.2 150.4 139.7 150.0 143.1 151.1 C146.4 152.2 149.7 155.1 151.8 157.5 C154.0 159.9 153.8 163.4 155.8 165.5 C157.8 167.6 161.0 169.3 163.8 170.3 C166.6 171.2 170.6 172.1 172.6 171.1 C174.6 170.0 173.5 165.5 175.8 163.9 C178.1 162.3 182.6 161.5 186.2 161.5 C189.8 161.5 194.4 161.6 197.4 163.9 C200.3 166.2 202.1 170.8 203.7 175.1 C205.3 179.3 206.3 184.4 206.9 189.4 C207.6 194.5 208.3 200.9 207.7 205.4 C207.2 209.9 205.5 213.1 203.7 216.6 C202.0 220.1 200.6 225.1 197.4 226.2 C194.2 227.2 188.3 226.7 184.6 223.0 C180.9 219.3 178.7 208.9 175.0 203.8 C171.3 198.8 166.5 196.1 162.2 192.6 C158.0 189.2 153.7 186.5 149.4 183.1 C145.2 179.6 140.7 175.1 136.7 171.9 C132.7 168.7 127.7 166.7 125.5 163.9 C123.2 161.1 122.0 157.2 123.1 155.1 Z" fill="#ffaa00" /><path d="M130.3 155.9 C131.6 154.3 136.9 153.8 139.9 154.3 C142.8 154.8 145.7 157.0 147.8 159.1 C150.0 161.2 150.0 164.7 152.6 167.1 C155.3 169.5 160.1 172.1 163.8 173.5 C167.5 174.8 172.6 175.9 175.0 175.1 C177.4 174.3 176.3 170.1 178.2 168.7 C180.1 167.2 183.5 166.3 186.2 166.3 C188.8 166.3 192.0 166.9 194.2 168.7 C196.3 170.4 197.6 173.2 199.0 176.7 C200.3 180.1 201.4 185.2 202.1 189.4 C202.9 193.7 204.0 198.5 203.7 202.2 C203.5 205.9 202.1 209.1 200.6 211.8 C199.0 214.5 196.3 217.1 194.2 218.2 C192.0 219.3 189.9 219.5 187.8 218.2 C185.6 216.9 183.5 213.4 181.4 210.2 C179.3 207.0 177.9 202.5 175.0 199.0 C172.1 195.6 167.5 192.4 163.8 189.4 C160.1 186.5 156.6 184.7 152.6 181.5 C148.6 178.3 143.3 173.2 139.9 170.3 C136.4 167.3 133.5 166.3 131.9 163.9 C130.3 161.5 128.9 157.5 130.3 155.9 Z" fill="#ff0000" /><ellipse cx="159.8" cy="160.4" rx="8.0" ry="7.3" fill="#aaffff" /><ellipse cx="159.8" cy="160.4" rx="6.4" ry="5.7" fill="#55ffff" /><path d="M203.7 160.7 C209.3 154.6 234.0 151.6 240.0 165.5 C246.0 179.3 241.3 230.7 240.0 243.7 C238.8 256.8 236.9 247.5 232.5 243.7 C228.1 240.0 217.6 228.3 213.3 221.4 C209.1 214.5 208.5 212.3 206.9 202.2 C205.3 192.1 198.2 166.8 203.7 160.7 Z" fill="#aaffff" /><path d="M204.5 175.1 C205.2 171.3 208.7 171.1 210.1 173.5 C211.6 175.9 213.2 185.2 213.3 189.4 C213.5 193.7 212.1 198.0 210.9 199.0 C209.7 200.1 207.2 199.8 206.1 195.8 C205.1 191.8 203.9 178.8 204.5 175.1 Z" fill="#ffee00" /><ellipse cx="222.9" cy="183.1" rx="5.5" ry="14.6" fill="#ffee00" /><ellipse cx="222.9" cy="183.1" rx="4.2" ry="13.3" fill="#ffaa00" /><ellipse cx="222.9" cy="183.1" rx="2.9" ry="12.0" fill="#ff8800" /><path d="M207.7 202.2 C209.6 199.0 214.7 195.3 217.3 195.8 C220.0 196.4 221.8 201.7 223.7 205.4 C225.6 209.1 227.2 213.7 228.5 218.2 C229.8 222.7 230.5 228.2 231.7 232.6 C232.9 237.0 237.7 242.9 235.7 244.5 C233.7 246.1 223.7 244.9 219.7 242.1 C215.7 239.4 214.0 232.3 211.7 227.8 C209.5 223.2 206.8 219.3 206.1 215.0 C205.5 210.7 205.9 205.4 207.7 202.2 Z" fill="#229fff" /><path d="M210.1 202.2 C211.5 199.6 214.7 198.5 216.5 199.0 C218.4 199.6 219.7 202.2 221.3 205.4 C222.9 208.6 224.8 213.7 226.1 218.2 C227.4 222.7 228.1 228.3 229.3 232.6 C230.5 236.8 234.6 242.3 233.3 243.7 C232.0 245.2 224.6 244.0 221.3 241.4 C218.0 238.7 215.5 232.2 213.3 227.8 C211.2 223.4 209.1 219.3 208.5 215.0 C208.0 210.7 208.8 204.9 210.1 202.2 Z" fill="#2255ff" /><ellipse cx="200.3" cy="202.3" rx="4.1" ry="14.3" fill="#ff6600" /><ellipse cx="200.3" cy="202.3" rx="2.6" ry="12.8" fill="#ff0000" /><ellipse cx="222.4" cy="183.1" rx="8.6" ry="17.6" fill="#ffff55" /><ellipse cx="222.4" cy="183.1" rx="7.0" ry="16.0" fill="#ffee00" /><ellipse cx="222.4" cy="183.1" rx="5.4" ry="14.4" fill="#ffaa00" /><ellipse cx="222.4" cy="183.1" rx="3.8" ry="12.8" fill="#ff8800" /><path d="M206.4 211.1 C207.5 206.3 213.0 198.4 216.0 197.5 C218.9 196.6 221.7 201.2 224.0 205.5 C226.2 209.7 228.1 216.7 229.5 223.1 C231.0 229.4 234.7 241.0 232.7 243.8 C230.7 246.6 221.4 242.8 217.6 239.8 C213.7 236.9 211.4 231.0 209.6 226.2 C207.7 221.5 205.3 215.9 206.4 211.1 Z" fill="#229fff" /><path d="M208.8 210.3 C209.6 206.3 213.7 201.2 216.0 200.7 C218.2 200.2 220.4 203.4 222.4 207.1 C224.3 210.8 226.1 217.2 227.5 223.1 C228.9 228.9 232.1 239.8 230.7 242.2 C229.3 244.6 222.4 240.4 219.2 237.4 C215.9 234.5 212.9 229.2 211.2 224.7 C209.5 220.1 208.0 214.3 208.8 210.3 Z" fill="#2255ff" /><ellipse cx="239.6" cy="201.5" rx="7.4" ry="18.3" fill="#55ffff" /><ellipse cx="239.6" cy="201.5" rx="6.0" ry="16.9" fill="#00ccff" /><ellipse cx="239.6" cy="201.5" rx="4.6" ry="15.5" fill="#229fff" /><ellipse cx="239.6" cy="201.5" rx="3.2" ry="14.1" fill="#2255ff" /><ellipse cx="254.3" cy="211.9" rx="4.2" ry="14.4" fill="#ffee00" /><ellipse cx="250.8" cy="181.2" rx="8.1" ry="14.8" fill="#ffee00" /><ellipse cx="250.8" cy="181.2" rx="6.1" ry="12.8" fill="#ffaa00" /><ellipse cx="250.8" cy="181.2" rx="4.1" ry="10.8" fill="#ff6600" /><ellipse cx="250.8" cy="181.2" rx="2.1" ry="8.8" fill="#ff0000" /><ellipse cx="264.7" cy="182.3" rx="9.6" ry="13.8" fill="#55ffff" /><ellipse cx="264.7" cy="182.3" rx="8.1" ry="12.3" fill="#00ccff" /><ellipse cx="264.7" cy="182.3" rx="6.6" ry="10.8" fill="#229fff" /><ellipse cx="264.7" cy="182.3" rx="5.1" ry="9.3" fill="#2255ff" /><ellipse cx="272.7" cy="197.5" rx="3.1" ry="10.6" fill="#ffee00" /><ellipse cx="272.7" cy="197.5" rx="1.3" ry="8.8" fill="#ffaa00" /><ellipse cx="268.7" cy="229.4" rx="4.8" ry="19.2" fill="#ffff55" /><ellipse cx="282.3" cy="201.5" rx="7.4" ry="28.2" fill="#55ffff" /><ellipse cx="282.3" cy="201.5" rx="6.0" ry="26.8" fill="#00ccff" /><ellipse cx="282.3" cy="201.5" rx="4.6" ry="25.4" fill="#229fff" /><ellipse cx="282.3" cy="201.5" rx="3.2" ry="24.0" fill="#2255ff" /><ellipse cx="291.7" cy="216.7" rx="6.7" ry="37.5" fill="#ffee00" /><ellipse cx="291.7" cy="216.7" rx="5.1" ry="35.9" fill="#ffaa00" /><ellipse cx="291.7" cy="216.7" rx="3.5" ry="34.3" fill="#ff6600" /><ellipse cx="292.6" cy="226.2" rx="3.0" ry="24.0" fill="#ff0000" /><ellipse cx="301.6" cy="204.7" rx="7.4" ry="20.2" fill="#55ffff" /><ellipse cx="301.6" cy="204.7" rx="6.0" ry="18.8" fill="#00ccff" /><ellipse cx="301.6" cy="204.7" rx="4.6" ry="17.4" fill="#229fff" /><ellipse cx="301.6" cy="204.7" rx="3.2" ry="16.0" fill="#2255ff" /><ellipse cx="310.2" cy="187.9" rx="8.4" ry="17.2" fill="#ffee00" transform="rotate(-12.0 310.2 187.9)" /><ellipse cx="310.2" cy="187.9" rx="6.4" ry="15.2" fill="#ffaa00" transform="rotate(-12.0 310.2 187.9)" /><ellipse cx="310.2" cy="187.9" rx="4.4" ry="13.2" fill="#ff6600" transform="rotate(-12.0 310.2 187.9)" /><ellipse cx="310.2" cy="187.9" rx="2.4" ry="11.2" fill="#ff0000" transform="rotate(-12.0 310.2 187.9)" /><path d="M307.0 223.1 C309.9 219.1 317.1 217.2 321.4 215.1 C325.6 212.9 329.1 208.9 332.6 210.3 C336.0 211.6 340.0 217.7 342.1 223.1 C344.3 228.4 344.8 235.8 345.3 242.2 C345.9 248.6 351.7 259.0 345.3 261.4 C339.0 263.8 313.9 260.3 307.0 256.6 C300.1 252.9 303.8 244.6 303.8 239.0 C303.8 233.4 304.1 227.0 307.0 223.1 Z" fill="#ffee00" /><ellipse cx="312.6" cy="243.8" rx="3.8" ry="11.2" fill="#ffaa00" /><ellipse cx="327.8" cy="192.7" rx="9.6" ry="17.6" fill="#55ffff" /><ellipse cx="339.0" cy="189.5" rx="7.4" ry="9.3" fill="#55ffff" /><ellipse cx="339.0" cy="189.5" rx="5.6" ry="7.5" fill="#00ccff" /><ellipse cx="339.0" cy="189.5" rx="3.8" ry="5.7" fill="#229fff" /><ellipse cx="348.5" cy="223.1" rx="2.7" ry="22.1" fill="#55ffff" /><ellipse cx="348.5" cy="223.1" rx="1.4" ry="20.8" fill="#229fff" /><ellipse cx="357.3" cy="245.4" rx="3.9" ry="18.0" fill="#ffee00" /><ellipse cx="357.3" cy="245.4" rx="1.9" ry="16.0" fill="#ffaa00" /><path d="M350.1 185.5 C351.1 184.2 359.5 184.9 361.3 187.9 C363.2 191.0 362.2 202.6 361.3 203.9 C360.4 205.2 357.6 199.0 355.7 195.9 C353.9 192.8 349.2 186.9 350.1 185.5 Z" fill="#ff8800" /></g><use href="#seabed"/><g clip-path="url(#cRight)"><rect x="60" y="50" width="440" height="215" fill="#aaffff"/><path d="M360.8 174.4 C363.0 169.9 379.7 164.9 387.9 160.1 C396.2 155.3 405.8 146.2 410.3 145.7 C414.8 145.2 415.6 152.1 415.1 156.9 C414.5 161.7 408.9 167.8 407.1 174.4 C405.2 181.1 405.0 188.8 403.9 196.8 C402.8 204.8 403.4 217.0 400.7 222.4 C398.0 227.7 392.2 230.3 387.9 228.7 C383.7 227.1 377.4 219.7 375.1 212.8 C372.9 205.9 376.7 193.6 374.3 187.2 C371.9 180.8 358.5 179.0 360.8 174.4 Z" fill="#ffff55" /><ellipse cx="367.2" cy="220.8" rx="4.0" ry="28.2" fill="#55ffff" /><ellipse cx="367.2" cy="220.8" rx="2.7" ry="26.9" fill="#229fff" /><ellipse cx="367.2" cy="220.8" rx="1.4" ry="25.6" fill="#2255ff" /><ellipse cx="384.7" cy="180.8" rx="4.9" ry="9.4" fill="#55ffff" transform="rotate(10.0 384.7 180.8)" /><ellipse cx="384.7" cy="180.8" rx="3.4" ry="7.9" fill="#00ccff" transform="rotate(10.0 384.7 180.8)" /><ellipse cx="384.7" cy="180.8" rx="1.9" ry="6.4" fill="#229fff" transform="rotate(10.0 384.7 180.8)" /><ellipse cx="379.9" cy="212.8" rx="3.7" ry="19.1" fill="#55ffff" /><ellipse cx="379.9" cy="212.8" rx="2.2" ry="17.6" fill="#00ccff" /><ellipse cx="356.8" cy="225.6" rx="3.1" ry="25.5" fill="#ffee00" /><ellipse cx="356.8" cy="225.6" rx="1.6" ry="24.0" fill="#ffaa00" /><path d="M360.8 177.6 C361.8 175.8 366.6 179.2 367.2 182.4 C367.7 185.6 365.0 194.9 364.0 196.8 C362.9 198.7 361.3 196.8 360.8 193.6 C360.2 190.4 359.7 179.5 360.8 177.6 Z" fill="#ff8800" /><path d="M410.3 187.2 C410.0 176.0 412.4 168.9 415.1 161.7 C417.7 154.5 422.3 149.2 426.2 144.1 C430.2 139.0 434.8 134.5 439.0 131.3 C443.3 128.1 447.8 124.1 451.8 124.9 C455.8 125.7 460.3 130.8 463.0 136.1 C465.6 141.4 466.6 149.4 467.8 156.9 C469.0 164.3 469.8 174.7 470.2 180.8 C470.6 187.0 479.1 185.6 470.2 193.6 C461.3 201.6 426.6 229.8 416.7 228.7 C406.7 227.7 410.5 198.4 410.3 187.2 Z" fill="#ffee00" /><path d="M419.1 196.8 C419.2 188.3 418.7 180.8 419.9 174.4 C421.1 168.1 423.6 162.7 426.2 158.5 C428.9 154.2 432.9 151.8 435.8 148.9 C438.8 146.0 441.2 142.8 443.8 140.9 C446.5 139.0 449.3 136.4 451.8 137.7 C454.3 139.0 457.3 144.4 459.0 148.9 C460.7 153.4 461.4 159.5 462.2 164.9 C463.0 170.2 463.2 175.8 463.8 180.8 C464.3 185.9 472.8 187.8 465.4 195.2 C457.9 202.7 426.8 225.3 419.1 225.6 C411.3 225.8 418.9 205.3 419.1 196.8 Z" fill="#ffaa00" /><path d="M442.2 156.9 C443.6 152.1 449.0 150.8 451.8 152.1 C454.6 153.4 457.9 160.1 459.0 164.9 C460.1 169.7 459.4 176.6 458.2 180.8 C457.0 185.1 454.2 190.4 451.8 190.4 C449.4 190.4 445.4 186.4 443.8 180.8 C442.2 175.2 440.9 161.7 442.2 156.9 Z" fill="#ff8800" /><ellipse cx="475.8" cy="128.9" rx="9.2" ry="18.0" fill="#ffff55" transform="rotate(5.0 475.8 128.9)" /><ellipse cx="475.8" cy="128.9" rx="6.2" ry="15.0" fill="#ffee00" transform="rotate(5.0 475.8 128.9)" /><ellipse cx="475.8" cy="128.9" rx="3.2" ry="12.0" fill="#ffaa00" transform="rotate(5.0 475.8 128.9)" /><ellipse cx="488.5" cy="144.9" rx="4.7" ry="12.4" fill="#55ffff" /><ellipse cx="488.5" cy="144.9" rx="3.3" ry="11.0" fill="#00ccff" /><ellipse cx="488.5" cy="144.9" rx="1.9" ry="9.6" fill="#229fff" /><ellipse cx="394.3" cy="206.4" rx="3.5" ry="14.4" fill="#ffff55" /><ellipse cx="410.3" cy="168.1" rx="2.2" ry="8.0" fill="#55ffff" /></g><use href="#axes"/><g font-family="Liberation Mono, monospace" fill="#3c3c3c"><text x="55.6" y="147.2" font-size="16.6" text-anchor="end" >0</text><text x="55.6" y="187.8" font-size="16.6" text-anchor="end" >−50</text><text x="55.6" y="228.9" font-size="16.6" text-anchor="end" >−100</text><text x="83.6" y="247.8" font-size="16.6" text-anchor="middle" >106</text><text x="168.7" y="258.4" font-size="16.6" text-anchor="middle" >108</text><text x="253.0" y="268.5" font-size="16.6" text-anchor="middle" >110</text><text x="337.2" y="279.6" font-size="16.6" text-anchor="middle" >112</text><text x="378.6" y="275.8" font-size="16.6" text-anchor="middle" >8</text><text x="435.3" y="242.3" font-size="16.6" text-anchor="middle" >10</text><text x="487.6" y="209.8" font-size="16.6" text-anchor="middle" >12</text></g></g>
<g transform="translate(519.48 296.04) scale(1.0079 1.0060)"><g clip-path="url(#cTop)"><rect x="60" y="50" width="440" height="215" fill="#00ffff"/><path d="M324.6 112.3 C325.4 116.8 348.4 114.3 356.9 115.8 C365.3 117.3 368.4 120.0 375.3 121.6 C382.3 123.1 390.0 124.6 398.4 125.0 C406.9 125.4 418.4 123.7 426.1 123.9 C433.8 124.1 438.4 125.5 444.5 126.2 C450.7 126.9 453.8 132.3 463.0 128.0 C472.2 123.8 499.1 106.9 499.9 100.8 C500.7 94.7 492.2 93.5 467.6 91.6 C443.0 89.7 376.1 85.8 352.3 89.3 C328.4 92.7 323.8 107.9 324.6 112.3 Z" fill="#33ffcc" /><path d="M71.7 138.5 C72.4 137.7 77.6 139.0 85.4 137.5 C93.2 136.1 106.5 131.4 118.6 129.7 C130.6 128.1 144.6 127.8 157.6 127.8 C170.6 127.8 183.6 129.2 196.6 129.7 C209.7 130.2 221.8 131.0 235.7 130.7 C249.6 130.4 272.1 129.3 280.0 127.8 C287.9 126.3 278.7 122.3 283.1 121.6 C287.4 120.8 298.4 122.5 306.1 123.4 C313.8 124.4 321.5 125.7 329.2 127.3 C336.9 128.9 347.5 130.2 352.3 133.1 C357.1 136.0 357.7 140.8 358.0 144.6 C358.4 148.5 353.6 152.7 354.6 156.2 C355.5 159.6 359.6 163.5 363.8 165.4 C368.0 167.3 376.3 166.5 380.0 167.7 C383.6 168.9 388.8 170.9 385.7 172.8 C382.6 174.7 382.5 180.5 361.5 179.2 C340.5 178.0 287.5 168.4 260.0 165.4 C232.5 162.4 220.2 164.0 196.6 161.0 C173.1 157.9 137.8 150.4 118.6 147.3 C99.4 144.2 89.3 143.9 81.5 142.4 C73.7 141.0 71.1 139.3 71.7 138.5 Z" fill="#00ccff" /><path d="M65.9 142.4 C64.9 141.0 72.4 137.7 75.6 136.6 C78.9 135.4 83.1 134.9 85.4 135.6 C87.7 136.2 89.9 138.8 89.3 140.5 C88.6 142.1 85.4 145.0 81.5 145.3 C77.6 145.7 66.8 143.9 65.9 142.4 Z" fill="#00ffff" /><path d="M95.1 134.6 C95.8 133.5 110.8 129.2 118.6 127.8 C126.4 126.3 133.5 127.1 142.0 125.8 C150.4 124.5 159.6 122.6 169.3 120.0 C179.1 117.4 191.1 111.0 200.5 110.2 C210.0 109.4 216.8 114.0 225.9 115.1 C235.0 116.2 246.2 116.9 255.2 117.0 C264.2 117.1 275.3 115.9 280.0 115.7 C284.6 115.5 279.5 115.6 283.1 115.8 C286.7 116.0 296.5 116.2 301.5 117.0 C306.5 117.7 314.2 119.3 313.1 120.4 C311.9 121.6 303.4 123.0 294.6 123.9 C285.8 124.8 266.6 124.4 260.0 125.7 C253.4 127.1 260.9 130.7 255.2 132.1 C249.5 133.5 235.7 133.7 225.9 134.0 C216.2 134.4 206.1 134.2 196.6 134.0 C187.2 133.8 179.1 133.2 169.3 132.9 C159.6 132.5 147.2 131.8 138.1 132.1 C129.0 132.4 121.8 134.2 114.7 134.6 C107.5 135.0 94.5 135.8 95.1 134.6 Z" fill="#0099ff" /><path d="M118.6 128.8 C118.6 128.1 133.5 127.3 142.0 125.8 C150.4 124.4 159.6 122.6 169.3 120.0 C179.1 117.4 191.1 111.0 200.5 110.2 C210.0 109.4 216.8 114.0 225.9 115.1 C235.0 116.2 246.2 116.9 255.2 117.0 C264.2 117.1 275.3 115.8 280.0 115.7 C284.6 115.6 279.9 116.1 283.1 116.5 C286.3 116.9 298.4 117.0 299.2 117.9 C300.0 118.7 294.2 120.6 287.7 121.6 C281.1 122.5 265.4 122.1 260.0 123.4 C254.6 124.8 260.9 128.4 255.2 129.7 C249.5 131.1 235.7 131.3 225.9 131.7 C216.2 132.1 206.1 132.2 196.6 132.1 C187.2 131.9 178.4 131.3 169.3 130.9 C160.2 130.5 150.4 130.1 142.0 129.7 C133.5 129.4 118.6 129.4 118.6 128.8 Z" fill="#0033ff" /><path d="M151.7 125.8 C152.4 124.5 163.8 121.8 169.3 120.4 C174.8 118.9 179.7 118.7 184.9 117.0 C190.1 115.4 195.3 111.1 200.5 110.6 C205.7 110.1 210.3 113.0 216.2 114.1 C222.0 115.2 229.2 116.5 235.7 117.0 C242.2 117.6 247.8 117.7 255.2 117.6 C262.6 117.5 276.9 116.3 280.0 116.5 C283.1 116.7 277.2 118.0 273.8 118.8 C270.5 119.6 263.1 119.7 260.0 121.1 C256.9 122.5 259.3 125.7 255.2 127.0 C251.1 128.3 242.2 128.6 235.7 129.1 C229.2 129.7 222.7 129.9 216.2 130.1 C209.7 130.3 202.5 130.5 196.6 130.3 C190.8 130.2 186.2 129.5 181.0 129.1 C175.8 128.8 170.3 128.7 165.4 128.2 C160.5 127.6 151.1 127.1 151.7 125.8 Z" fill="#0000cd" /><path d="M177.1 121.9 C179.7 119.6 194.0 113.3 200.5 112.2 C207.0 111.0 210.3 114.1 216.2 115.1 C222.0 116.1 229.2 117.4 235.7 118.0 C242.2 118.7 250.0 118.7 255.2 119.0 C260.4 119.3 268.5 119.0 266.9 120.0 C265.3 120.9 253.9 123.6 245.4 124.9 C237.0 126.1 224.3 127.0 216.2 127.4 C208.0 127.8 201.8 127.6 196.6 127.4 C191.4 127.1 188.2 126.7 184.9 125.8 C181.7 124.9 174.5 124.2 177.1 121.9 Z" fill="#00009a" /><path d="M266.0 114.0 C270.2 112.5 290.2 110.8 300.0 110.0 C309.8 109.2 317.5 110.6 325.0 109.0 C332.5 107.4 338.3 103.4 345.0 100.5 C351.7 97.6 358.3 94.3 365.0 91.5 C371.7 88.7 378.8 84.8 385.0 83.5 C391.2 82.2 402.5 81.8 402.0 84.0 C401.5 86.2 390.3 92.5 382.0 97.0 C373.7 101.5 361.5 107.7 352.0 111.0 C342.5 114.3 333.7 115.8 325.0 117.0 C316.3 118.2 308.3 117.7 300.0 118.0 C291.7 118.3 280.7 119.7 275.0 119.0 C269.3 118.3 261.8 115.5 266.0 114.0 Z" fill="#66ff99" /><path d="M283.0 112.0 C283.0 111.2 298.3 110.0 305.0 109.5 C311.7 109.0 317.2 110.0 323.0 108.8 C328.8 107.6 334.8 104.7 340.0 102.5 C345.2 100.3 352.8 95.1 354.0 95.5 C355.2 95.9 351.7 102.1 347.0 105.0 C342.3 107.9 333.0 111.5 326.0 113.0 C319.0 114.5 312.2 114.2 305.0 114.0 C297.8 113.8 283.0 112.8 283.0 112.0 Z" fill="#ccff33" /></g><use href="#land"/><use href="#contours"/><g clip-path="url(#cFront)"><rect x="60" y="50" width="440" height="215" fill="#00ffff"/><path d="M168.0 150.0 C135.8 152.2 170.8 158.9 173.0 163.0 C175.2 167.1 177.0 171.6 181.0 174.5 C185.0 177.4 191.2 179.1 197.0 180.5 C202.8 181.9 208.8 181.9 216.0 182.8 C223.2 183.7 231.9 185.4 240.0 185.7 C248.1 186.0 256.5 184.3 264.8 184.5 C273.1 184.7 282.4 187.0 289.7 187.0 C296.9 187.0 302.1 185.3 308.3 184.5 C314.5 183.7 320.8 182.0 327.0 182.0 C333.2 182.0 339.1 183.7 345.6 184.5 C352.1 185.3 362.6 192.8 366.0 187.0 C369.4 181.2 399.0 156.2 366.0 150.0 C333.0 143.8 200.2 147.8 168.0 150.0 Z" fill="#00ccff" /><path d="M133.0 167.0 L142.0 161.0 L154.0 163.0 L169.0 171.0 L187.0 178.5 L206.0 184.4 L236.0 190.2 L280.0 194.5 L364.0 196.9 L364.0 266.0 L128.0 266.0 Z" fill="#33ffcc" /><path d="M135.3 168.1 L144.0 163.1 L155.8 165.8 L170.4 173.8 L187.8 181.5 L206.2 187.7 L236.0 193.8 L280.0 198.0 L364.0 200.5 L364.0 266.0 L128.0 266.0 Z" fill="#66ff99" /><path d="M137.5 169.2 L146.0 165.2 L157.5 168.5 L171.7 176.5 L188.7 184.5 L206.3 191.0 L236.0 197.3 L280.0 201.4 L364.0 204.0 L364.0 266.0 L128.0 266.0 Z" fill="#99ff66" /><path d="M140.1 170.4 L148.3 167.6 L159.5 171.6 L173.2 179.6 L189.6 187.8 L206.5 194.6 L236.0 201.3 L280.0 205.2 L364.0 208.0 L364.0 266.0 L128.0 266.0 Z" fill="#ccff33" /><path d="M142.3 171.5 L150.3 169.6 L161.2 174.4 L174.5 182.4 L190.4 190.7 L206.7 197.9 L236.0 204.8 L280.0 208.6 L364.0 211.5 L364.0 266.0 L128.0 266.0 Z" fill="#ffff00" /><path d="M145.7 173.1 L153.3 172.8 L163.9 178.5 L176.5 186.5 L191.7 195.2 L206.9 202.7 L236.0 210.1 L280.0 213.8 L364.0 216.8 L364.0 266.0 L128.0 266.0 Z" fill="#ffcc00" /><path d="M147.4 173.9 L154.8 174.3 L165.2 180.6 L177.5 188.6 L192.3 197.5 L207.1 205.2 L236.0 212.8 L280.0 216.4 L364.0 219.5 L364.0 266.0 L128.0 266.0 Z" fill="#ff9900" /><path d="M149.3 174.9 L156.5 176.1 L166.7 183.0 L178.7 191.0 L193.1 200.0 L207.2 208.0 L236.0 215.8 L280.0 219.3 L364.0 222.5 L364.0 266.0 L128.0 266.0 Z" fill="#ff6600" /><path d="M151.3 175.8 L158.2 177.9 L168.2 185.3 L179.8 193.3 L193.8 202.5 L207.4 210.8 L236.0 218.8 L280.0 222.2 L364.0 225.5 L364.0 266.0 L128.0 266.0 Z" fill="#ff3300" /><path d="M153.5 176.9 L160.2 180.0 L169.9 188.0 L181.1 196.0 L194.6 205.4 L207.5 214.0 L236.0 222.3 L280.0 225.6 L364.0 229.0 L364.0 266.0 L128.0 266.0 Z" fill="#ff0000" /><path d="M156.4 178.2 L162.8 182.6 L172.2 191.5 L182.8 199.5 L195.7 209.2 L207.7 218.1 L236.0 226.8 L280.0 230.0 L364.0 233.5 L364.0 266.0 L128.0 266.0 Z" fill="#cc0000" /><path d="M160.0 180.0 L166.0 186.0 L175.0 196.0 L185.0 204.0 L197.0 214.0 L208.0 223.4 L236.0 232.5 L280.0 235.5 L364.0 239.2 L364.0 266.0 L128.0 266.0 Z" fill="#990000" /></g><use href="#seabed"/><g clip-path="url(#cRight)"><rect x="60" y="50" width="440" height="215" fill="#00ffff"/><path d="M361.0 178.0 L361.0 186.5 L378.0 176.0 L385.0 164.0 Z" fill="#00ccff" /><path d="M360.0 197.0 L380.0 190.8 L398.4 174.6 L410.0 167.7 L421.5 160.8 L435.3 148.1 L444.5 138.9 L456.0 128.5 L467.6 119.3 L481.5 108.9 L496.0 100.0 L496.0 266.0 L360.0 266.0 Z" fill="#33ffcc" /><path d="M360.0 200.6 L380.0 194.5 L398.4 178.7 L410.0 171.6 L421.5 164.7 L435.3 151.9 L444.5 142.5 L456.0 131.8 L467.6 122.6 L481.5 112.7 L496.0 104.6 L496.0 266.0 L360.0 266.0 Z" fill="#66ff99" /><path d="M360.0 204.1 L380.0 198.2 L398.4 182.7 L410.0 175.4 L421.5 168.5 L435.3 155.7 L444.5 146.1 L456.0 135.1 L467.6 125.9 L481.5 116.5 L496.0 109.1 L496.0 266.0 L360.0 266.0 Z" fill="#99ff66" /><path d="M360.0 208.1 L380.0 202.3 L398.4 187.3 L410.0 179.8 L421.5 172.9 L435.3 159.9 L444.5 150.1 L456.0 138.8 L467.6 129.6 L481.5 120.7 L496.0 114.1 L496.0 266.0 L360.0 266.0 Z" fill="#ccff33" /><path d="M360.0 211.6 L380.0 205.9 L398.4 191.3 L410.0 183.6 L421.5 176.7 L435.3 163.6 L444.5 153.6 L456.0 142.0 L467.6 132.8 L481.5 124.4 L496.0 118.6 L496.0 266.0 L360.0 266.0 Z" fill="#ffff00" /><path d="M360.0 216.8 L380.0 211.4 L398.4 197.4 L410.0 189.4 L421.5 182.5 L435.3 169.2 L444.5 158.9 L456.0 146.9 L467.6 137.7 L481.5 130.1 L496.0 125.3 L496.0 266.0 L360.0 266.0 Z" fill="#ffcc00" /><path d="M360.0 219.5 L380.0 214.2 L398.4 200.5 L410.0 192.3 L421.5 185.4 L435.3 172.1 L444.5 161.6 L456.0 149.4 L467.6 140.2 L481.5 132.9 L496.0 128.8 L496.0 266.0 L360.0 266.0 Z" fill="#ff9900" /><path d="M360.0 222.5 L380.0 217.3 L398.4 203.9 L410.0 195.6 L421.5 188.7 L435.3 175.3 L444.5 164.7 L456.0 152.2 L467.6 143.0 L481.5 136.1 L496.0 132.6 L496.0 266.0 L360.0 266.0 Z" fill="#ff6600" /><path d="M360.0 225.5 L380.0 220.4 L398.4 207.4 L410.0 198.9 L421.5 192.0 L435.3 178.5 L444.5 167.7 L456.0 155.0 L467.6 145.8 L481.5 139.3 L496.0 136.4 L496.0 266.0 L360.0 266.0 Z" fill="#ff3300" /><path d="M360.0 229.0 L380.0 224.0 L398.4 211.4 L410.0 202.7 L421.5 195.8 L435.3 182.3 L444.5 171.2 L456.0 158.3 L467.6 149.1 L481.5 143.1 L496.0 140.9 L496.0 266.0 L360.0 266.0 Z" fill="#ff0000" /><path d="M360.0 233.5 L380.0 228.7 L398.4 216.6 L410.0 207.6 L421.5 200.7 L435.3 187.0 L444.5 175.7 L456.0 162.4 L467.6 153.2 L481.5 147.8 L496.0 146.6 L496.0 266.0 L360.0 266.0 Z" fill="#cc0000" /><path d="M360.0 239.2 L380.0 234.6 L398.4 223.1 L410.0 213.8 L421.5 206.9 L435.3 193.1 L444.5 181.5 L456.0 167.7 L467.6 158.5 L481.5 153.9 L496.0 153.9 L496.0 266.0 L360.0 266.0 Z" fill="#990000" /></g><use href="#axes"/><g font-family="Liberation Mono, monospace" fill="#3c3c3c"><text x="55.6" y="147.2" font-size="16.6" text-anchor="end" >0</text><text x="55.6" y="187.8" font-size="16.6" text-anchor="end" >−50</text><text x="55.6" y="228.9" font-size="16.6" text-anchor="end" >−100</text><text x="83.6" y="247.8" font-size="16.6" text-anchor="middle" >106</text><text x="168.7" y="258.4" font-size="16.6" text-anchor="middle" >108</text><text x="253.0" y="268.5" font-size="16.6" text-anchor="middle" >110</text><text x="337.2" y="279.6" font-size="16.6" text-anchor="middle" >112</text><text x="378.6" y="275.8" font-size="16.6" text-anchor="middle" >8</text><text x="435.3" y="242.3" font-size="16.6" text-anchor="middle" >10</text><text x="487.6" y="209.8" font-size="16.6" text-anchor="middle" >12</text></g></g>
<g transform="translate(0.00 609.00) scale(1.0000 1.0000)"><g clip-path="url(#cTop)"><rect x="60" y="50" width="440" height="215" fill="#0000cd"/><path d="M196.6 147.6 C198.6 144.5 203.4 143.6 208.3 141.7 C213.2 139.8 218.1 137.7 225.9 135.9 C233.7 134.1 246.2 132.3 255.2 131.0 C264.2 129.7 271.5 129.3 280.0 128.1 C288.5 126.9 294.1 124.2 306.1 123.8 C318.2 123.4 340.0 123.4 352.3 125.6 C364.6 127.8 373.1 132.9 380.0 137.1 C386.9 141.3 392.3 146.4 393.8 151.0 C395.3 155.6 391.8 160.6 389.2 164.8 C386.6 169.0 382.7 173.1 378.0 176.0 C373.3 178.9 374.0 182.3 361.0 182.0 C348.0 181.7 327.4 177.7 300.0 174.0 C272.6 170.3 213.8 164.4 196.6 160.0 C179.4 155.6 194.6 150.7 196.6 147.6 Z" fill="#00009a" /><ellipse cx="159.6" cy="141.4" rx="10.0" ry="3.0" fill="#00009a" transform="rotate(-12.0 159.6 141.4)" /><path d="M246.2 112.9 C249.2 110.8 253.8 113.3 260.0 113.1 C266.2 113.0 275.4 112.1 283.1 111.8 C290.8 111.4 298.4 111.5 306.1 110.8 C313.8 110.2 322.3 109.1 329.2 107.8 C336.1 106.6 343.0 103.8 347.7 103.2 C352.3 102.6 356.1 103.0 356.9 104.4 C357.7 105.8 356.9 109.7 352.3 111.8 C347.7 113.8 336.9 115.4 329.2 116.8 C321.5 118.3 313.8 119.5 306.1 120.5 C298.4 121.6 290.8 122.4 283.1 123.3 C275.4 124.1 266.9 125.2 260.0 125.6 C253.1 126.0 243.9 127.7 241.5 125.6 C239.2 123.5 243.1 115.0 246.2 112.9 Z" fill="#0033ff" /><path d="M246.2 114.1 C248.9 112.7 253.8 114.2 260.0 114.1 C266.2 113.9 275.4 113.5 283.1 113.1 C290.8 112.8 298.4 112.8 306.1 112.2 C313.8 111.7 323.1 110.8 329.2 109.9 C335.4 109.1 341.5 106.8 343.0 107.1 C344.6 107.5 342.7 110.8 338.4 112.2 C334.2 113.7 326.1 114.8 317.7 115.9 C309.2 117.1 297.3 118.2 287.7 119.1 C278.1 120.1 267.3 121.0 260.0 121.4 C252.7 121.9 246.2 123.4 243.9 122.1 C241.5 120.9 243.5 115.4 246.2 114.1 Z" fill="#0099ff" /><path d="M246.2 115.0 C248.5 114.2 254.6 115.1 260.0 115.0 C265.4 114.8 276.1 113.7 278.5 114.1 C280.8 114.5 276.9 116.5 273.8 117.3 C270.8 118.1 264.6 118.7 260.0 119.1 C255.4 119.6 248.5 120.5 246.2 119.8 C243.9 119.1 243.9 115.8 246.2 115.0 Z" fill="#33ffcc" /><path d="M153.7 125.6 C152.5 124.1 158.6 123.0 163.0 121.5 C167.4 120.0 174.2 118.2 180.0 116.5 C185.8 114.8 191.8 112.2 198.0 111.5 C204.2 110.8 210.7 111.8 217.0 112.5 C223.3 113.2 230.2 114.6 236.0 115.4 C241.8 116.2 246.7 116.8 252.0 117.6 C257.3 118.4 268.0 118.9 268.0 120.5 C268.0 122.1 258.7 125.5 252.0 127.3 C245.3 129.1 236.7 130.2 228.0 131.0 C219.3 131.8 209.7 132.1 200.0 132.0 C190.3 131.9 177.7 131.6 170.0 130.5 C162.3 129.4 154.9 127.1 153.7 125.6 Z" fill="#0099ff" /><path d="M157.1 125.1 C156.1 123.8 161.7 122.8 165.8 121.4 C169.9 120.0 176.2 118.3 181.7 116.8 C187.1 115.4 192.8 113.1 198.7 112.5 C204.5 111.9 210.8 112.7 216.8 113.3 C222.8 113.9 229.3 115.1 234.7 115.9 C240.0 116.7 244.3 117.2 249.0 118.1 C253.7 118.9 263.1 119.4 263.0 120.8 C262.9 122.3 254.6 125.4 248.3 127.0 C242.1 128.6 233.8 129.6 225.7 130.3 C217.5 131.0 208.4 131.2 199.5 131.1 C190.6 131.0 179.1 130.6 172.0 129.7 C164.9 128.7 158.1 126.5 157.1 125.1 Z" fill="#00ffff" /><path d="M160.5 124.7 C159.6 123.4 164.9 122.5 168.7 121.3 C172.5 120.0 178.2 118.5 183.3 117.2 C188.4 115.9 193.8 114.0 199.3 113.5 C204.9 113.0 211.0 113.6 216.7 114.1 C222.3 114.6 228.4 115.7 233.3 116.5 C238.2 117.2 241.9 117.7 246.0 118.5 C250.1 119.3 258.2 119.8 258.0 121.2 C257.8 122.6 250.4 125.3 244.7 126.7 C238.9 128.1 230.9 128.9 223.3 129.5 C215.7 130.1 207.2 130.3 199.0 130.2 C190.8 130.1 180.4 129.7 174.0 128.8 C167.6 127.9 161.4 125.9 160.5 124.7 Z" fill="#99ff66" /><path d="M163.8 124.2 C163.1 123.1 168.0 122.3 171.5 121.2 C175.0 120.0 180.2 118.7 185.0 117.5 C189.8 116.4 194.8 114.9 200.0 114.5 C205.2 114.0 211.2 114.5 216.5 115.0 C221.8 115.4 227.6 116.3 232.0 117.0 C236.4 117.7 239.5 118.2 243.0 119.0 C246.5 119.8 253.3 120.3 253.0 121.5 C252.7 122.8 246.3 125.1 241.0 126.3 C235.7 127.6 228.1 128.3 221.0 128.8 C213.9 129.3 206.0 129.4 198.5 129.3 C191.0 129.2 181.8 128.8 176.0 128.0 C170.2 127.1 164.6 125.3 163.8 124.2 Z" fill="#ffff00" /><path d="M167.2 123.7 C166.6 122.7 171.1 122.0 174.3 121.0 C177.6 120.1 182.3 118.8 186.7 117.9 C191.1 117.0 195.7 115.8 200.7 115.4 C205.6 115.1 211.3 115.4 216.3 115.8 C221.3 116.1 226.7 116.9 230.7 117.5 C234.6 118.2 237.1 118.7 240.0 119.5 C242.9 120.2 248.4 120.8 248.0 121.9 C247.6 123.0 242.2 125.0 237.3 126.0 C232.4 127.1 225.2 127.7 218.7 128.1 C212.1 128.5 204.8 128.6 198.0 128.4 C191.2 128.2 183.1 127.9 178.0 127.1 C172.9 126.3 167.8 124.7 167.2 123.7 Z" fill="#ff9900" /><path d="M170.6 123.3 C170.1 122.4 174.2 121.8 177.2 120.9 C180.1 120.1 184.3 119.0 188.3 118.2 C192.4 117.5 196.7 116.7 201.3 116.4 C206.0 116.1 211.5 116.3 216.2 116.6 C220.8 116.9 225.9 117.5 229.3 118.1 C232.8 118.6 234.7 119.2 237.0 119.9 C239.3 120.6 243.6 121.3 243.0 122.2 C242.4 123.2 238.1 124.9 233.7 125.7 C229.2 126.6 222.4 127.0 216.3 127.3 C210.3 127.6 203.6 127.7 197.5 127.5 C191.4 127.3 184.5 127.0 180.0 126.2 C175.5 125.5 171.1 124.2 170.6 123.3 Z" fill="#ff0000" /><path d="M174.0 122.8 C173.7 122.0 177.3 121.5 180.0 120.8 C182.7 120.1 186.3 119.2 190.0 118.6 C193.7 118.0 197.7 117.6 202.0 117.4 C206.3 117.2 211.7 117.2 216.0 117.4 C220.3 117.6 225.0 118.1 228.0 118.6 C231.0 119.1 232.3 119.7 234.0 120.4 C235.7 121.1 238.7 121.8 238.0 122.6 C237.3 123.4 234.0 124.7 230.0 125.4 C226.0 126.1 219.5 126.4 214.0 126.6 C208.5 126.8 202.3 126.8 197.0 126.6 C191.7 126.4 185.8 126.0 182.0 125.4 C178.2 124.8 174.3 123.6 174.0 122.8 Z" fill="#990000" /></g><use href="#land"/><use href="#contours"/><g clip-path="url(#cFront)"><rect x="60" y="50" width="440" height="215" fill="#0000cd"/><path d="M170.0 148.0 C137.6 151.7 170.3 164.8 171.5 170.0 C172.7 175.2 172.8 176.9 177.0 179.0 C181.2 181.1 190.5 181.8 197.0 182.7 C203.5 183.6 206.3 184.7 216.0 184.7 C225.7 184.7 244.3 183.0 255.0 182.7 C265.7 182.4 272.5 182.3 280.0 182.7 C287.5 183.1 291.7 184.1 300.0 185.0 C308.3 185.9 319.0 186.8 330.0 188.0 C341.0 189.2 360.0 199.2 366.0 192.5 C372.0 185.8 398.7 155.4 366.0 148.0 C333.3 140.6 202.4 144.3 170.0 148.0 Z" fill="#00009a" /><path d="M134.7 163.7 L144.2 166.3 L159.5 172.1 L183.3 180.0 L201.8 186.4 L223.3 194.9 L240.2 198.1 L255.8 196.4 L279.8 192.1 L304.7 194.3 L331.8 196.6 L364.0 198.8 L364.0 270.0 L128.0 270.0 Z" fill="#0000ff" /><path d="M137.0 165.0 L146.0 168.0 L160.0 174.0 L182.7 182.9 L200.0 190.0 L219.4 198.9 L235.0 203.0 L250.0 202.5 L273.7 199.5 L300.0 201.5 L330.0 204.0 L364.0 206.3 L364.0 270.0 L128.0 270.0 Z" fill="#0033ff" /><path d="M138.7 165.9 L147.3 169.2 L160.4 175.4 L182.3 185.0 L198.7 192.6 L216.6 201.8 L231.2 206.5 L245.8 206.9 L269.3 204.9 L296.6 206.7 L328.7 209.3 L364.0 211.7 L364.0 270.0 L128.0 270.0 Z" fill="#0066ff" /><path d="M140.2 166.8 L148.5 170.4 L160.8 176.6 L181.9 186.9 L197.5 195.0 L214.1 204.4 L227.8 209.8 L242.0 211.0 L265.3 209.8 L293.4 211.5 L327.5 214.2 L364.0 216.7 L364.0 270.0 L128.0 270.0 Z" fill="#0099ff" /><path d="M141.6 167.4 L149.5 171.3 L161.1 177.7 L181.6 188.5 L196.5 197.0 L211.9 206.6 L224.8 212.4 L238.8 214.4 L261.9 214.0 L290.8 215.5 L326.5 218.3 L364.0 220.9 L364.0 270.0 L128.0 270.0 Z" fill="#00ccff" /><path d="M142.7 168.1 L150.4 172.2 L161.3 178.6 L181.3 189.9 L195.6 198.8 L210.0 208.6 L222.2 214.9 L235.9 217.5 L258.9 217.7 L288.4 219.1 L325.6 222.0 L364.0 224.6 L364.0 270.0 L128.0 270.0 Z" fill="#00ffff" /><path d="M143.8 168.6 L151.2 172.9 L161.6 179.5 L181.0 191.2 L194.8 200.4 L208.3 210.4 L219.9 217.0 L233.4 220.2 L256.2 221.0 L286.3 222.3 L324.8 225.3 L364.0 227.9 L364.0 270.0 L128.0 270.0 Z" fill="#33ffcc" /><path d="M144.5 169.1 L151.8 173.5 L161.7 180.1 L180.8 192.2 L194.2 201.6 L207.0 211.7 L218.2 218.7 L231.4 222.2 L254.2 223.5 L284.7 224.7 L324.2 227.8 L364.0 230.4 L364.0 270.0 L128.0 270.0 Z" fill="#66ff99" /><path d="M145.3 169.5 L152.4 174.1 L161.9 180.7 L180.7 193.1 L193.6 202.8 L205.7 213.0 L216.4 220.3 L229.5 224.3 L252.1 225.9 L283.2 227.1 L323.6 230.2 L364.0 232.9 L364.0 270.0 L128.0 270.0 Z" fill="#99ff66" /><path d="M146.1 169.9 L153.0 174.7 L162.1 181.3 L180.5 194.1 L193.0 204.0 L204.4 214.4 L214.7 221.9 L227.6 226.3 L250.1 228.4 L281.6 229.5 L323.0 232.7 L364.0 235.4 L364.0 270.0 L128.0 270.0 Z" fill="#ccff33" /><path d="M146.6 170.2 L153.4 175.0 L162.2 181.8 L180.3 194.7 L192.6 204.8 L203.6 215.3 L213.5 223.0 L226.3 227.7 L248.8 230.1 L280.5 231.1 L322.6 234.3 L364.0 237.1 L364.0 270.0 L128.0 270.0 Z" fill="#ffff00" /><path d="M147.3 170.5 L153.9 175.5 L162.4 182.3 L180.2 195.5 L192.1 205.8 L202.5 216.4 L212.1 224.3 L224.7 229.4 L247.1 232.1 L279.2 233.1 L322.1 236.4 L364.0 239.2 L364.0 270.0 L128.0 270.0 Z" fill="#ffcc00" /><path d="M147.9 170.9 L154.4 176.0 L162.5 182.8 L180.0 196.3 L191.6 206.8 L201.4 217.5 L210.6 225.7 L223.1 231.1 L245.4 234.2 L277.9 235.1 L321.6 238.4 L364.0 241.2 L364.0 270.0 L128.0 270.0 Z" fill="#ff9900" /><path d="M148.6 171.2 L154.9 176.5 L162.7 183.3 L179.9 197.1 L191.1 207.8 L200.4 218.6 L209.2 227.0 L221.5 232.8 L243.7 236.3 L276.6 237.1 L321.1 240.5 L364.0 243.3 L364.0 270.0 L128.0 270.0 Z" fill="#ff6600" /><path d="M149.2 171.6 L155.4 176.9 L162.8 183.9 L179.7 197.9 L190.6 208.8 L199.3 219.7 L207.7 228.4 L219.9 234.5 L242.0 238.3 L275.3 239.1 L320.6 242.5 L364.0 245.4 L364.0 270.0 L128.0 270.0 Z" fill="#ff3300" /><path d="M149.7 171.9 L155.8 177.3 L162.9 184.3 L179.6 198.6 L190.2 209.6 L198.4 220.6 L206.6 229.5 L218.6 235.8 L240.7 240.0 L274.2 240.7 L320.2 244.2 L364.0 247.1 L364.0 270.0 L128.0 270.0 Z" fill="#ff0000" /><path d="M150.8 172.4 L156.6 178.1 L163.2 185.1 L179.3 199.9 L189.4 211.2 L196.7 222.3 L204.3 231.6 L216.1 238.5 L238.0 243.3 L272.1 243.9 L319.4 247.5 L364.0 250.4 L364.0 270.0 L128.0 270.0 Z" fill="#cc0000" /><path d="M151.8 173.0 L157.4 178.8 L163.4 186.0 L179.1 201.1 L188.6 212.8 L195.0 224.1 L201.9 233.8 L213.5 241.3 L235.3 246.6 L270.0 247.1 L318.6 250.7 L364.0 253.7 L364.0 270.0 L128.0 270.0 Z" fill="#990000" /></g><use href="#seabed"/><g clip-path="url(#cRight)"><rect x="60" y="50" width="440" height="215" fill="#0000cd"/><path d="M360.0 178.0 L360.0 193.0 L400.0 168.0 L440.0 135.0 L470.0 110.0 Z" fill="#00009a" /><path d="M360.0 198.8 L380.0 189.6 L400.0 177.2 L421.5 159.6 L440.0 143.5 L460.0 126.3 L475.0 114.0 L492.0 103.8 L497.0 101.4 L497.0 270.0 L360.0 270.0 Z" fill="#0000ff" /><path d="M360.0 206.3 L380.0 197.0 L400.0 184.0 L421.5 166.0 L440.0 150.0 L460.0 133.0 L475.0 121.0 L492.0 111.0 L497.0 109.0 L497.0 270.0 L360.0 270.0 Z" fill="#0033ff" /><path d="M360.0 211.7 L380.0 202.3 L400.0 188.9 L421.5 170.6 L440.0 154.7 L460.0 137.8 L475.0 126.1 L492.0 116.2 L497.0 114.5 L497.0 270.0 L360.0 270.0 Z" fill="#0066ff" /><path d="M360.0 216.7 L380.0 207.2 L400.0 193.5 L421.5 174.9 L440.0 159.0 L460.0 142.2 L475.0 130.8 L492.0 121.0 L497.0 119.5 L497.0 270.0 L360.0 270.0 Z" fill="#0099ff" /><path d="M360.0 220.9 L380.0 211.3 L400.0 197.3 L421.5 178.5 L440.0 162.6 L460.0 145.9 L475.0 134.7 L492.0 125.0 L497.0 123.7 L497.0 270.0 L360.0 270.0 Z" fill="#00ccff" /><path d="M360.0 224.6 L380.0 215.0 L400.0 200.7 L421.5 181.7 L440.0 165.8 L460.0 149.3 L475.0 138.2 L492.0 128.6 L497.0 127.5 L497.0 270.0 L360.0 270.0 Z" fill="#00ffff" /><path d="M360.0 227.9 L380.0 218.3 L400.0 203.8 L421.5 184.6 L440.0 168.7 L460.0 152.2 L475.0 141.3 L492.0 131.8 L497.0 130.8 L497.0 270.0 L360.0 270.0 Z" fill="#33ffcc" /><path d="M360.0 230.4 L380.0 220.8 L400.0 206.0 L421.5 186.7 L440.0 170.9 L460.0 154.5 L475.0 143.6 L492.0 134.2 L497.0 133.4 L497.0 270.0 L360.0 270.0 Z" fill="#66ff99" /><path d="M360.0 232.9 L380.0 223.2 L400.0 208.3 L421.5 188.8 L440.0 173.0 L460.0 156.7 L475.0 146.0 L492.0 136.6 L497.0 135.9 L497.0 270.0 L360.0 270.0 Z" fill="#99ff66" /><path d="M360.0 235.4 L380.0 225.7 L400.0 210.6 L421.5 191.0 L440.0 175.2 L460.0 158.9 L475.0 148.3 L492.0 139.0 L497.0 138.4 L497.0 270.0 L360.0 270.0 Z" fill="#ccff33" /><path d="M360.0 237.1 L380.0 227.3 L400.0 212.1 L421.5 192.4 L440.0 176.6 L460.0 160.4 L475.0 149.9 L492.0 140.6 L497.0 140.1 L497.0 270.0 L360.0 270.0 Z" fill="#ffff00" /><path d="M360.0 239.2 L380.0 229.4 L400.0 214.0 L421.5 194.2 L440.0 178.4 L460.0 162.2 L475.0 151.8 L492.0 142.6 L497.0 142.2 L497.0 270.0 L360.0 270.0 Z" fill="#ffcc00" /><path d="M360.0 241.2 L380.0 231.4 L400.0 215.9 L421.5 196.0 L440.0 180.2 L460.0 164.1 L475.0 153.8 L492.0 144.6 L497.0 144.3 L497.0 270.0 L360.0 270.0 Z" fill="#ff9900" /><path d="M360.0 243.3 L380.0 233.5 L400.0 217.8 L421.5 197.8 L440.0 182.0 L460.0 165.9 L475.0 155.7 L492.0 146.6 L497.0 146.4 L497.0 270.0 L360.0 270.0 Z" fill="#ff6600" /><path d="M360.0 245.4 L380.0 235.5 L400.0 219.7 L421.5 199.6 L440.0 183.8 L460.0 167.8 L475.0 157.7 L492.0 148.6 L497.0 148.5 L497.0 270.0 L360.0 270.0 Z" fill="#ff3300" /><path d="M360.0 247.1 L380.0 237.2 L400.0 221.2 L421.5 201.0 L440.0 185.3 L460.0 169.3 L475.0 159.2 L492.0 150.2 L497.0 150.2 L497.0 270.0 L360.0 270.0 Z" fill="#ff0000" /><path d="M360.0 250.4 L380.0 240.5 L400.0 224.3 L421.5 203.8 L440.0 188.2 L460.0 172.2 L475.0 162.3 L492.0 153.4 L497.0 153.5 L497.0 270.0 L360.0 270.0 Z" fill="#cc0000" /><path d="M360.0 253.7 L380.0 243.7 L400.0 227.3 L421.5 206.7 L440.0 191.0 L460.0 175.2 L475.0 165.5 L492.0 156.6 L497.0 156.9 L497.0 270.0 L360.0 270.0 Z" fill="#990000" /></g><use href="#axes"/><g font-family="Liberation Mono, monospace" fill="#3c3c3c"><text x="55.6" y="147.2" font-size="16.6" text-anchor="end" >0</text><text x="55.6" y="187.8" font-size="16.6" text-anchor="end" >−50</text><text x="55.6" y="228.9" font-size="16.6" text-anchor="end" >−100</text><text x="83.6" y="247.8" font-size="16.6" text-anchor="middle" >106</text><text x="168.7" y="258.4" font-size="16.6" text-anchor="middle" >108</text><text x="253.0" y="268.5" font-size="16.6" text-anchor="middle" >110</text><text x="337.2" y="279.6" font-size="16.6" text-anchor="middle" >112</text><text x="378.6" y="275.8" font-size="16.6" text-anchor="middle" >8</text><text x="435.3" y="242.3" font-size="16.6" text-anchor="middle" >10</text><text x="487.6" y="209.8" font-size="16.6" text-anchor="middle" >12</text></g></g>
<g transform="translate(521.55 609.56) scale(1.0068 1.0052)"><g clip-path="url(#cTop)"><rect x="60" y="50" width="440" height="215" fill="#33ffcc"/><path d="M345.0 96.0 C342.0 101.7 356.2 101.7 362.0 104.0 C367.8 106.3 373.7 107.5 380.0 110.0 C386.3 112.5 391.7 117.3 400.0 119.0 C408.3 120.7 418.3 121.2 430.0 120.0 C441.7 118.8 458.3 115.3 470.0 112.0 C481.7 108.7 495.0 107.0 500.0 100.0 C505.0 93.0 520.0 75.0 500.0 70.0 C480.0 65.0 405.8 65.7 380.0 70.0 C354.2 74.3 348.0 90.3 345.0 96.0 Z" fill="#66ff99" /><path d="M355.0 90.0 C353.7 95.2 366.5 98.0 372.0 101.0 C377.5 104.0 382.5 105.8 388.0 108.0 C393.5 110.2 398.0 113.0 405.0 114.0 C412.0 115.0 419.5 115.3 430.0 114.0 C440.5 112.7 456.3 109.7 468.0 106.0 C479.7 102.3 494.7 98.0 500.0 92.0 C505.3 86.0 520.0 73.7 500.0 70.0 C480.0 66.3 404.2 66.7 380.0 70.0 C355.8 73.3 356.3 84.8 355.0 90.0 Z" fill="#99ff66" /><path d="M354.0 137.0 C357.3 131.3 364.3 127.7 372.0 126.0 C379.7 124.3 392.0 125.8 400.0 127.0 C408.0 128.2 413.3 132.2 420.0 133.0 C426.7 133.8 439.2 129.8 440.0 132.0 C440.8 134.2 432.0 141.3 425.0 146.0 C418.0 150.7 405.8 155.7 398.0 160.0 C390.2 164.3 384.2 168.7 378.0 172.0 C371.8 175.3 365.3 182.0 361.0 180.0 C356.7 178.0 353.2 167.2 352.0 160.0 C350.8 152.8 350.7 142.7 354.0 137.0 Z" fill="#00ffff" /><ellipse cx="416.0" cy="134.0" rx="24.0" ry="7.0" fill="#00ccff" transform="rotate(8.0 416.0 134.0)" /><ellipse cx="416.0" cy="134.0" rx="13.2" ry="3.9" fill="#0099ff" transform="rotate(8.0 416.0 134.0)" /><path d="M241.5 118.8 C244.6 115.8 253.1 118.6 260.0 117.7 C266.9 116.7 275.4 114.3 283.1 113.1 C290.8 111.8 298.4 111.1 306.1 110.3 C313.8 109.5 322.3 108.8 329.2 108.5 C336.1 108.1 345.7 106.5 347.7 108.0 C349.6 109.5 345.4 114.8 340.7 117.2 C336.1 119.7 327.7 121.1 320.0 122.8 C312.3 124.4 302.3 125.9 294.6 127.4 C286.9 128.8 279.6 130.4 273.8 131.5 C268.1 132.6 265.4 133.1 260.0 133.8 C254.6 134.5 244.6 138.2 241.5 135.7 C238.5 133.2 238.5 121.8 241.5 118.8 Z" fill="#00ffff" /><path d="M246.2 121.4 C248.5 119.6 253.8 120.9 260.0 120.0 C266.2 119.1 275.4 117.1 283.1 115.8 C290.8 114.6 298.4 113.5 306.1 112.6 C313.8 111.8 323.6 110.9 329.2 110.8 C334.8 110.6 339.6 110.8 339.6 111.9 C339.6 113.0 334.8 115.6 329.2 117.2 C323.6 118.9 313.8 120.4 306.1 121.8 C298.4 123.3 290.8 124.8 283.1 126.0 C275.4 127.2 266.2 128.5 260.0 129.2 C253.8 129.9 248.5 131.7 246.2 130.4 C243.9 129.1 243.9 123.1 246.2 121.4 Z" fill="#00ccff" /><path d="M264.6 122.8 C266.2 121.6 276.1 120.4 283.1 119.1 C290.0 117.8 299.2 115.9 306.1 114.9 C313.1 113.9 322.7 112.7 324.6 113.1 C326.5 113.5 322.3 115.8 317.7 117.2 C313.1 118.7 304.2 120.4 296.9 121.8 C289.6 123.3 279.2 125.8 273.8 126.0 C268.5 126.1 263.1 123.9 264.6 122.8 Z" fill="#0099ff" /><path d="M175.2 149.5 C170.9 146.7 189.8 143.5 196.6 141.1 C203.5 138.8 209.7 136.9 216.2 135.3 C222.7 133.7 229.2 132.5 235.7 131.4 C242.2 130.3 247.8 129.5 255.2 128.6 C262.6 127.8 273.5 126.5 280.0 126.1 C286.5 125.7 291.9 124.0 294.2 126.1 C296.6 128.2 296.6 136.3 294.2 138.8 C291.9 141.3 286.5 139.8 280.0 141.1 C273.5 142.5 262.6 145.0 255.2 147.0 C247.8 148.9 241.2 151.0 235.7 152.9 C230.1 154.7 232.1 158.5 222.0 157.9 C211.9 157.4 179.4 152.3 175.2 149.5 Z" fill="#00ffff" /><ellipse cx="169.3" cy="138.8" rx="13.0" ry="3.4" fill="#66ff99" transform="rotate(-10.0 169.3 138.8)" /><ellipse cx="169.3" cy="138.8" rx="7.8" ry="2.0" fill="#ccff33" transform="rotate(-10.0 169.3 138.8)" /><path d="M71.7 136.8 C70.1 135.8 75.0 135.5 79.5 133.9 C84.1 132.4 92.5 128.9 99.0 127.5 C105.5 126.0 112.1 125.4 118.6 125.1 C125.1 124.9 131.6 125.5 138.1 125.9 C144.6 126.3 155.3 126.2 157.6 127.5 C159.9 128.7 156.6 132.2 151.7 133.3 C146.9 134.4 135.5 133.6 128.3 134.1 C121.2 134.6 115.3 135.4 108.8 136.5 C102.3 137.5 95.5 140.3 89.3 140.4 C83.1 140.4 73.3 137.9 71.7 136.8 Z" fill="#00ffff" /><path d="M75.0 136.3 C73.7 135.5 78.5 134.7 82.8 133.3 C87.0 131.8 94.4 129.0 100.3 127.7 C106.3 126.4 112.5 125.8 118.6 125.5 C124.6 125.3 130.9 125.8 136.8 126.2 C142.6 126.5 151.7 126.6 153.7 127.6 C155.6 128.6 152.9 131.2 148.5 132.0 C144.0 132.9 133.7 132.1 127.0 132.6 C120.3 133.0 114.2 133.7 108.1 134.6 C102.1 135.6 96.1 137.9 90.6 138.2 C85.1 138.5 76.3 137.2 75.0 136.3 Z" fill="#00ccff" /><path d="M78.2 135.8 C77.2 135.2 82.1 133.9 86.0 132.6 C89.9 131.3 96.2 129.1 101.6 128.0 C107.1 126.9 112.9 126.2 118.6 125.9 C124.2 125.7 130.3 126.1 135.5 126.4 C140.7 126.7 148.2 127.0 149.8 127.7 C151.4 128.5 149.2 130.2 145.2 130.7 C141.2 131.3 132.0 130.6 125.7 131.0 C119.4 131.3 113.1 132.0 107.5 132.8 C101.9 133.7 96.8 135.6 91.9 136.1 C87.0 136.6 79.2 136.4 78.2 135.8 Z" fill="#0066ff" /><path d="M81.5 135.3 C80.8 135.0 85.7 133.1 89.3 132.0 C92.9 130.8 98.1 129.2 102.9 128.3 C107.8 127.3 113.4 126.6 118.6 126.3 C123.8 126.0 129.6 126.4 134.2 126.7 C138.7 127.0 144.6 127.4 145.9 127.9 C147.2 128.3 145.6 129.2 142.0 129.4 C138.4 129.7 130.3 129.2 124.4 129.4 C118.6 129.7 112.1 130.2 106.8 131.0 C101.6 131.7 97.4 133.2 93.2 133.9 C89.0 134.6 82.1 135.6 81.5 135.3 Z" fill="#0000ff" /><path d="M153.7 127.1 C155.0 125.9 163.8 124.0 169.3 122.2 C174.8 120.4 181.7 118.6 186.9 116.4 C192.1 114.1 196.0 109.7 200.5 108.5 C205.1 107.4 210.0 108.6 214.2 109.5 C218.4 110.4 221.7 112.7 225.9 113.8 C230.1 115.0 235.0 115.4 239.6 116.4 C244.1 117.3 250.3 118.1 253.2 119.3 C256.2 120.5 258.8 122.1 257.2 123.6 C255.5 125.0 249.7 126.8 243.5 128.1 C237.3 129.3 227.9 130.5 220.1 131.0 C212.3 131.5 203.8 131.2 196.6 131.0 C189.5 130.8 183.0 130.3 177.1 130.0 C171.3 129.7 165.4 129.5 161.5 129.0 C157.6 128.6 152.4 128.2 153.7 127.1 Z" fill="#00ffff" /><path d="M157.6 126.9 C158.8 125.8 166.6 124.0 171.7 122.3 C176.7 120.6 183.2 118.7 188.0 116.5 C192.9 114.4 196.5 110.3 200.7 109.2 C205.0 108.1 209.7 109.3 213.7 110.1 C217.8 111.0 221.1 113.3 225.1 114.4 C229.2 115.5 233.8 115.9 238.0 116.7 C242.3 117.6 248.1 118.5 250.7 119.7 C253.3 120.8 255.2 122.2 253.6 123.6 C252.0 124.9 246.9 126.5 241.1 127.6 C235.4 128.8 226.7 129.8 219.3 130.3 C211.9 130.7 203.4 130.5 196.6 130.3 C189.9 130.2 184.0 129.8 178.7 129.5 C173.3 129.2 168.1 129.1 164.6 128.6 C161.1 128.2 156.4 127.9 157.6 126.9 Z" fill="#ccff33" /><path d="M161.5 126.7 C162.5 125.7 169.4 124.1 174.0 122.4 C178.6 120.8 184.7 118.8 189.2 116.7 C193.7 114.6 196.9 110.9 200.9 109.9 C204.9 108.9 209.4 109.9 213.3 110.8 C217.2 111.6 220.5 113.8 224.4 114.9 C228.2 116.0 232.5 116.3 236.5 117.1 C240.4 118.0 245.9 119.0 248.2 120.1 C250.4 121.1 251.7 122.4 250.1 123.6 C248.6 124.8 244.1 126.2 238.8 127.2 C233.5 128.2 225.5 129.2 218.5 129.6 C211.5 130.0 203.0 129.8 196.6 129.7 C190.3 129.6 185.1 129.2 180.2 129.0 C175.4 128.8 170.9 128.6 167.7 128.3 C164.6 127.9 160.5 127.7 161.5 126.7 Z" fill="#ffcc00" /><path d="M165.4 126.5 C166.3 125.6 172.2 124.2 176.3 122.6 C180.5 121.0 186.3 118.9 190.4 116.9 C194.5 114.9 197.4 111.5 201.1 110.5 C204.9 109.6 209.1 110.6 212.8 111.4 C216.5 112.2 219.9 114.4 223.6 115.5 C227.3 116.5 231.2 116.7 234.9 117.5 C238.6 118.4 243.7 119.4 245.6 120.5 C247.6 121.5 248.1 122.5 246.6 123.6 C245.1 124.6 241.3 125.9 236.5 126.8 C231.6 127.7 224.4 128.5 217.7 128.9 C211.1 129.3 202.6 129.1 196.6 129.0 C190.7 128.9 186.1 128.7 181.8 128.5 C177.5 128.3 173.6 128.2 170.9 127.9 C168.1 127.5 164.5 127.4 165.4 126.5 Z" fill="#ff6600" /><path d="M169.3 126.3 C170.1 125.5 175.0 124.2 178.7 122.7 C182.4 121.1 187.8 119.0 191.6 117.1 C195.3 115.2 197.9 112.1 201.3 111.2 C204.8 110.3 208.8 111.2 212.3 112.0 C215.9 112.8 219.3 115.0 222.8 116.0 C226.3 117.0 230.0 117.1 233.3 117.9 C236.7 118.7 241.5 119.9 243.1 120.8 C244.7 121.8 244.6 122.7 243.1 123.6 C241.6 124.5 238.5 125.6 234.1 126.3 C229.8 127.1 223.2 127.8 216.9 128.2 C210.7 128.5 202.2 128.4 196.6 128.3 C191.0 128.3 187.1 128.1 183.4 128.0 C179.6 127.8 176.3 127.8 174.0 127.5 C171.7 127.2 168.5 127.1 169.3 126.3 Z" fill="#ff0000" /><path d="M173.2 126.1 C173.9 125.4 177.8 124.3 181.0 122.8 C184.3 121.3 189.3 119.1 192.7 117.3 C196.2 115.5 198.3 112.6 201.5 111.9 C204.7 111.1 208.4 111.9 211.9 112.6 C215.3 113.4 218.7 115.6 222.0 116.5 C225.3 117.5 228.7 117.5 231.8 118.3 C234.9 119.1 239.3 120.4 240.6 121.2 C241.9 122.1 241.0 122.8 239.6 123.6 C238.1 124.4 235.7 125.3 231.8 125.9 C227.9 126.6 222.0 127.2 216.2 127.5 C210.3 127.8 201.8 127.7 196.6 127.7 C191.4 127.7 188.2 127.6 184.9 127.5 C181.7 127.4 179.1 127.3 177.1 127.1 C175.2 126.9 172.6 126.8 173.2 126.1 Z" fill="#990000" /></g><use href="#land"/><use href="#contours"/><g clip-path="url(#cFront)"><rect x="60" y="50" width="440" height="215" fill="#33ffcc"/><path d="M65.9 148.6 C69.8 147.7 80.5 150.2 89.3 151.5 C98.1 152.8 109.8 155.2 118.6 156.4 C127.3 157.5 135.5 156.7 142.0 158.3 C148.5 159.9 153.0 162.9 157.6 166.1 C162.2 169.4 168.7 175.2 169.3 177.8 C170.0 180.4 166.7 183.4 161.5 181.7 C156.3 180.1 146.9 171.7 138.1 168.1 C129.3 164.5 120.8 162.2 108.8 160.3 C96.8 158.3 73.0 158.3 65.9 156.4 C58.7 154.4 62.0 149.4 65.9 148.6 Z" fill="#66ff99" /><ellipse cx="204.4" cy="169.1" rx="27.0" ry="12.0" fill="#00ffff" transform="rotate(5.0 204.4 169.1)" /><ellipse cx="199.0" cy="163.8" rx="9.0" ry="5.5" fill="#00ccff" /><path d="M151.7 173.9 L177.1 181.7 L216.2 181.4 L280.0 181.7 L306.1 182.3 L363.1 182.3 L366.1 274.5 L190.8 274.5 Z" fill="#66ff99" /><path d="M153.7 176.9 L177.1 186.0 L216.2 185.6 L280.0 186.0 L306.1 188.0 L329.2 191.5 L363.1 188.0 L366.1 274.5 L190.8 274.5 Z" fill="#99ff66" /><path d="M155.6 179.8 L177.1 189.9 L216.2 189.6 L280.0 189.9 L306.1 193.3 L329.2 198.4 L363.1 193.3 L366.1 274.5 L190.8 274.5 Z" fill="#ccff33" /><path d="M157.6 181.7 L181.0 194.4 L216.2 193.8 L280.0 194.4 L306.1 198.4 L320.0 205.3 L329.2 210.0 L340.7 198.4 L363.1 196.6 L366.1 274.5 L190.8 274.5 Z" fill="#ffff00" /><path d="M220.1 232.5 L235.7 235.4 L280.0 234.8 L313.1 230.7 L326.9 237.6 L340.7 239.9 L363.1 241.1 L366.1 274.5 L190.8 274.5 Z" fill="#ccff33" /><path d="M223.0 238.4 L235.7 240.3 L280.0 239.9 L313.1 237.6 L329.2 244.6 L363.1 248.0 L366.1 274.5 L190.8 274.5 Z" fill="#99ff66" /><path d="M225.9 243.2 L280.0 245.2 L313.1 244.1 L363.1 254.2 L366.1 274.5 L190.8 274.5 Z" fill="#66ff99" /><path d="M184.9 199.3 C186.9 196.7 207.7 202.4 216.2 203.2 C224.6 204.0 225.0 203.9 235.7 204.2 C246.3 204.5 270.2 205.4 280.0 205.2 C289.8 205.0 289.7 203.2 294.6 203.0 C299.5 202.9 306.1 201.5 309.6 204.2 C313.1 206.9 315.0 214.8 315.4 219.2 C315.7 223.6 315.4 229.2 311.9 230.7 C308.4 232.3 303.3 228.8 294.6 228.4 C286.0 228.0 266.6 228.7 260.0 228.4 C253.4 228.1 259.3 226.9 255.2 226.6 C251.1 226.3 242.2 227.0 235.7 226.6 C229.2 226.3 221.4 226.0 216.2 224.7 C211.0 223.4 209.7 223.1 204.4 218.8 C199.2 214.6 183.0 201.9 184.9 199.3 Z" fill="#ffcc00" /><path d="M336.1 228.4 C336.1 224.2 338.4 218.2 340.7 214.6 C343.0 210.9 346.2 208.0 350.0 206.5 C353.7 205.0 360.6 200.1 363.1 205.3 C365.6 210.5 366.8 232.3 365.0 237.6 C363.2 243.0 356.3 237.3 352.3 237.6 C348.2 238.0 343.4 241.5 340.7 239.9 C338.0 238.4 336.1 232.6 336.1 228.4 Z" fill="#ffcc00" /><path d="M345.4 226.1 C345.0 223.4 347.0 217.8 350.0 215.7 C352.9 213.6 360.7 210.9 363.1 213.4 C365.5 215.9 366.1 227.6 364.3 230.7 C362.5 233.8 355.4 232.6 352.3 231.9 C349.1 231.1 345.7 228.8 345.4 226.1 Z" fill="#ff9900" /><path d="M128.3 163.2 C127.7 159.9 137.1 162.6 142.0 163.8 C146.9 164.9 152.1 167.2 157.6 170.0 C163.1 172.9 169.3 176.9 175.2 180.8 C181.0 184.7 186.9 189.4 192.7 193.5 C198.6 197.5 204.8 201.6 210.3 205.2 C215.8 208.7 222.3 210.7 225.9 214.9 C229.5 219.2 231.8 225.3 231.8 230.5 C231.8 235.7 231.8 244.5 225.9 246.2 C220.1 247.8 206.1 246.8 196.6 240.3 C187.2 233.8 177.8 216.6 169.3 207.1 C160.9 197.7 152.7 191.0 145.9 183.7 C139.1 176.4 129.0 166.5 128.3 163.2 Z" fill="#ffff00" /><path d="M129.8 164.2 C129.1 161.1 137.9 164.1 142.5 165.4 C147.0 166.7 151.9 169.0 157.1 172.0 C162.3 174.9 168.3 179.2 173.7 183.2 C179.2 187.2 184.4 191.7 189.8 195.9 C195.2 200.1 200.9 204.8 205.9 208.6 C211.0 212.4 216.3 215.2 220.1 218.8 C223.8 222.5 227.5 226.2 228.4 230.5 C229.2 234.9 230.2 243.7 224.9 245.2 C219.7 246.6 205.8 245.7 196.6 239.3 C187.4 233.0 178.2 216.4 169.8 207.1 C161.4 197.8 153.0 190.9 146.4 183.7 C139.7 176.5 130.4 167.2 129.8 164.2 Z" fill="#ffcc00" /><path d="M131.2 165.2 C130.6 162.4 138.7 165.6 143.0 167.1 C147.2 168.6 151.7 170.8 156.6 173.9 C161.5 177.0 167.2 181.6 172.2 185.6 C177.3 189.7 182.0 193.9 186.9 198.3 C191.8 202.7 197.0 207.9 201.5 212.0 C206.1 216.1 210.3 219.6 214.2 222.7 C218.1 225.8 223.3 227.0 224.9 230.5 C226.6 234.1 228.7 242.9 224.0 244.2 C219.2 245.5 205.6 244.5 196.6 238.4 C187.7 232.2 178.6 216.2 170.3 207.1 C162.0 198.0 153.4 190.7 146.9 183.7 C140.4 176.7 131.9 167.9 131.2 165.2 Z" fill="#ff6600" /><path d="M135.2 167.7 C134.5 165.4 140.5 168.3 143.9 170.0 C147.4 171.7 151.4 174.7 155.6 177.8 C159.9 180.9 165.1 184.7 169.3 188.6 C173.5 192.5 177.1 196.9 181.0 201.3 C184.9 205.7 189.5 211.0 192.7 214.9 C196.0 218.8 196.6 223.4 200.5 224.7 C204.4 226.0 212.4 220.1 216.2 222.7 C219.9 225.3 226.2 238.0 223.0 240.3 C219.7 242.6 205.3 241.9 196.6 236.4 C188.0 230.9 179.4 215.9 171.3 207.1 C163.1 198.3 153.9 190.3 147.8 183.7 C141.8 177.1 135.8 170.0 135.2 167.7 Z" fill="#ff0000" /><path d="M161.5 187.6 C161.0 185.0 166.2 188.9 169.3 191.5 C172.4 194.1 176.5 199.0 180.0 203.2 C183.6 207.4 187.5 213.1 190.8 216.9 C194.0 220.6 195.5 224.4 199.6 225.7 C203.6 227.0 211.6 222.4 215.2 224.7 C218.8 227.0 224.1 237.5 221.0 239.3 C217.9 241.1 204.8 240.8 196.6 235.4 C188.5 230.1 178.1 215.1 172.2 207.1 C166.4 199.1 162.0 190.2 161.5 187.6 Z" fill="#990000" /></g><use href="#seabed"/><g clip-path="url(#cRight)"><rect x="60" y="50" width="440" height="215" fill="#66ff99"/><path d="M359.2 175.4 C364.2 169.6 378.8 165.7 389.2 159.2 C399.6 152.7 410.3 143.4 421.5 136.1 C432.6 128.8 444.5 122.3 456.1 115.4 C467.6 108.5 484.9 95.4 490.7 94.6 C496.4 93.8 496.4 104.2 490.7 110.8 C484.9 117.3 467.6 126.1 456.1 133.8 C444.5 141.5 432.6 149.2 421.5 156.9 C410.3 164.6 398.9 173.8 389.2 180.0 C379.5 186.1 368.1 191.5 363.1 193.8 C358.1 196.1 359.8 196.9 359.2 193.8 C358.5 190.7 354.2 181.1 359.2 175.4 Z" fill="#33ffcc" /><path d="M359.2 191.5 C364.2 177.5 380.7 184.6 389.2 181.1 C397.6 177.7 402.3 175.9 409.9 170.7 C417.6 165.5 425.7 156.5 435.3 150.0 C444.9 143.4 459.2 134.2 467.6 131.5 C476.1 128.8 482.6 129.2 486.1 133.8 C489.5 138.4 491.4 151.9 488.4 159.2 C485.3 166.5 476.5 170.7 467.6 177.7 C458.8 184.6 446.9 190.7 435.3 200.7 C423.8 210.7 411.1 226.9 398.4 237.6 C385.7 248.4 365.7 273.0 359.2 265.3 C352.7 257.6 354.2 205.5 359.2 191.5 Z" fill="#99ff66" /><path d="M359.2 198.4 C364.2 188.0 379.6 190.7 389.2 186.9 C398.8 183.0 408.4 180.3 416.9 175.4 C425.3 170.4 431.5 162.9 439.9 156.9 C448.4 150.9 460.7 142.1 467.6 139.6 C474.5 137.1 479.1 139.0 481.5 141.9 C483.8 144.8 484.5 152.1 481.5 156.9 C478.4 161.7 470.7 165.4 463.0 170.7 C455.3 176.1 444.5 181.1 435.3 189.2 C426.1 197.3 420.3 209.2 407.6 219.2 C394.9 229.2 367.3 252.6 359.2 249.2 C351.1 245.7 354.2 208.8 359.2 198.4 Z" fill="#ccff33" /><path d="M359.2 200.7 C362.7 191.9 372.6 196.5 380.0 193.8 C387.3 191.1 396.1 187.3 403.0 184.6 C409.9 181.9 417.4 178.0 421.5 177.7 C425.5 177.3 427.2 178.8 427.2 182.3 C427.2 185.7 424.7 192.3 421.5 198.4 C418.2 204.6 413.0 212.6 407.6 219.2 C402.3 225.7 397.3 233.0 389.2 237.6 C381.1 242.2 364.2 253.0 359.2 246.9 C354.2 240.7 355.7 209.6 359.2 200.7 Z" fill="#ffff00" /><path d="M359.2 205.3 C361.9 199.6 370.3 204.6 375.3 203.0 C380.3 201.5 384.6 198.4 389.2 196.1 C393.8 193.8 398.4 190.3 403.0 189.2 C407.6 188.0 414.9 187.3 416.9 189.2 C418.8 191.1 417.2 197.3 414.6 200.7 C411.9 204.2 403.4 206.1 400.7 210.0 C398.0 213.8 401.9 220.3 398.4 223.8 C394.9 227.3 386.5 228.4 380.0 230.7 C373.4 233.0 362.7 241.9 359.2 237.6 C355.7 233.4 356.5 211.1 359.2 205.3 Z" fill="#ffcc00" /><path d="M361.5 214.6 C363.0 211.5 366.9 211.3 370.7 210.0 C374.6 208.6 380.5 206.3 384.6 206.5 C388.6 206.7 394.9 208.6 394.9 211.1 C394.9 213.6 389.0 219.0 384.6 221.5 C380.1 224.0 372.3 224.9 368.4 226.1 C364.6 227.3 362.7 230.3 361.5 228.4 C360.3 226.5 360.0 217.6 361.5 214.6 Z" fill="#ff9900" /><path d="M359.2 237.6 L389.2 237.6 L398.4 228.4 L421.5 205.3 L467.6 170.7 L493.0 156.9 L493.0 182.3 L359.2 269.9 Z" fill="#99ff66" /><path d="M359.2 249.2 L380.0 244.6 L407.6 221.5 L359.2 267.6 Z" fill="#66ff99" /></g><use href="#axes"/><g font-family="Liberation Mono, monospace" fill="#3c3c3c"><text x="55.6" y="147.2" font-size="16.6" text-anchor="end" >0</text><text x="55.6" y="187.8" font-size="16.6" text-anchor="end" >−50</text><text x="55.6" y="228.9" font-size="16.6" text-anchor="end" >−100</text><text x="83.6" y="247.8" font-size="16.6" text-anchor="middle" >106</text><text x="168.7" y="258.4" font-size="16.6" text-anchor="middle" >108</text><text x="253.0" y="268.5" font-size="16.6" text-anchor="middle" >110</text><text x="337.2" y="279.6" font-size="16.6" text-anchor="middle" >112</text><text x="378.6" y="275.8" font-size="16.6" text-anchor="middle" >8</text><text x="435.3" y="242.3" font-size="16.6" text-anchor="middle" >10</text><text x="487.6" y="209.8" font-size="16.6" text-anchor="middle" >12</text></g></g>
<g transform="translate(-1.43 904.90) scale(1.0020 1.0035)"><g clip-path="url(#cTop)"><rect x="60" y="50" width="440" height="215" fill="#22aaff"/><path d="M65.9 137.8 C68.1 136.3 72.4 134.6 79.5 133.0 C86.7 131.3 97.4 129.6 108.8 128.1 C120.2 126.6 137.8 125.0 147.8 124.2 C157.9 123.4 163.1 123.0 169.3 123.2 C175.5 123.4 180.4 123.5 184.9 125.2 C189.5 126.8 194.0 130.2 196.6 133.0 C199.2 135.7 202.5 139.0 200.5 141.8 C198.6 144.5 191.4 147.3 184.9 149.6 C178.4 151.8 172.6 155.4 161.5 155.4 C150.4 155.4 134.5 151.8 118.6 149.6 C102.6 147.3 74.6 144.1 65.9 142.1 C57.1 140.2 63.6 139.4 65.9 137.8 Z" fill="#0077ff" /><path d="M87.3 136.3 C87.3 134.3 98.7 131.8 108.8 130.0 C118.9 128.3 137.8 126.6 147.8 125.7 C157.9 124.9 164.4 124.4 169.3 125.2 C174.2 125.9 178.4 127.8 177.1 130.0 C175.8 132.3 168.0 136.8 161.5 138.8 C155.0 140.8 146.9 141.7 138.1 142.1 C129.3 142.6 117.3 142.7 108.8 141.8 C100.3 140.8 87.3 138.2 87.3 136.3 Z" fill="#0044ff" /><path d="M169.3 125.2 C170.9 123.9 181.7 122.4 186.9 123.2 C192.1 124.0 198.9 127.6 200.5 130.0 C202.2 132.5 199.2 136.7 196.6 137.8 C194.0 139.0 188.2 138.0 184.9 136.9 C181.7 135.7 179.7 133.0 177.1 131.0 C174.5 129.1 167.7 126.5 169.3 125.2 Z" fill="#44bbff" /><path d="M329.3 102.7 C342.3 96.5 340.7 93.6 358.6 91.0 C376.5 88.4 413.9 86.4 436.6 87.1 C459.4 87.7 488.7 90.0 495.2 94.9 C501.7 99.8 485.4 108.9 475.7 116.4 C465.9 123.9 449.7 132.3 436.6 139.8 C423.6 147.3 407.4 158.7 397.6 161.3 C387.8 163.9 384.6 159.0 378.1 155.4 C371.6 151.8 366.7 143.7 358.6 139.8 C350.4 135.9 339.0 133.6 329.3 132.0 C319.5 130.4 308.1 129.9 300.0 130.0 C291.9 130.2 283.7 133.3 280.5 133.0 C277.2 132.6 272.3 133.1 280.5 128.1 C288.6 123.0 316.3 108.9 329.3 102.7 Z" fill="#44eeff" /><path d="M382.0 98.8 C386.5 96.7 404.8 95.9 417.1 94.9 C429.5 93.9 447.0 92.6 456.2 93.0 C465.3 93.3 475.0 94.7 471.8 96.9 C468.5 99.0 447.0 103.5 436.6 105.6 C426.2 107.8 417.1 109.2 409.3 109.5 C401.5 109.9 394.3 109.4 389.8 107.6 C385.2 105.8 377.4 100.9 382.0 98.8 Z" fill="#44ffff" /><path d="M339.0 102.7 C343.3 98.2 357.9 98.6 364.4 99.8 C370.9 100.9 372.5 107.6 378.1 109.5 C383.6 111.5 391.1 111.5 397.6 111.5 C404.1 111.5 410.6 110.5 417.1 109.5 C423.6 108.6 430.1 106.9 436.6 105.6 C443.1 104.3 449.7 102.9 456.2 101.7 C462.7 100.6 470.0 99.3 475.7 98.8 C481.4 98.3 491.9 96.5 490.3 98.8 C488.7 101.1 473.6 107.8 465.9 112.5 C458.3 117.2 451.3 122.7 444.4 127.1 C437.6 131.5 430.8 136.0 424.9 138.8 C419.1 141.7 414.5 144.3 409.3 144.1 C404.1 143.9 398.9 139.7 393.7 137.8 C388.5 136.0 383.9 134.4 378.1 133.0 C372.2 131.5 365.1 130.0 358.6 129.1 C352.1 128.1 342.3 131.5 339.0 127.1 C335.8 122.7 334.8 107.3 339.0 102.7 Z" fill="#44ee88" /><path d="M344.9 108.6 C348.5 106.6 358.2 109.2 364.4 110.5 C370.6 111.8 375.8 115.1 382.0 116.4 C388.2 117.7 395.0 118.2 401.5 118.3 C408.0 118.5 414.5 118.2 421.0 117.4 C427.5 116.5 434.7 114.6 440.5 113.4 C446.4 112.3 454.9 109.1 456.2 110.5 C457.5 112.0 452.9 118.5 448.4 122.2 C443.8 126.0 434.7 130.5 428.8 133.0 C423.0 135.4 419.1 137.0 413.2 136.9 C407.4 136.8 400.2 133.7 393.7 132.4 C387.2 131.1 380.7 130.1 374.2 129.1 C367.7 128.0 359.9 127.3 354.7 126.1 C349.5 125.0 344.6 125.2 342.9 122.2 C341.3 119.3 341.3 110.5 344.9 108.6 Z" fill="#99ee33" /><path d="M358.6 118.3 C362.5 117.9 374.8 120.5 382.0 121.3 C389.1 122.0 395.0 122.3 401.5 122.8 C408.0 123.4 415.2 124.8 421.0 124.6 C426.9 124.3 432.9 121.4 436.6 121.3 C440.4 121.1 444.8 122.2 443.5 123.8 C442.2 125.4 433.9 129.6 428.8 131.0 C423.8 132.4 419.1 132.8 413.2 132.4 C407.4 132.0 400.2 129.7 393.7 128.7 C387.2 127.6 380.0 126.9 374.2 126.1 C368.3 125.3 361.2 125.1 358.6 123.8 C356.0 122.5 354.7 118.8 358.6 118.3 Z" fill="#e5ff44" /><path d="M340.0 100.0 C342.3 94.3 347.3 89.3 352.0 86.0 C356.7 82.7 362.3 80.7 368.0 80.0 C373.7 79.3 382.3 80.0 386.0 82.0 C389.7 84.0 390.3 88.0 390.0 92.0 C389.7 96.0 387.0 102.0 384.0 106.0 C381.0 110.0 376.7 113.0 372.0 116.0 C367.3 119.0 361.7 123.3 356.0 124.0 C350.3 124.7 340.7 124.0 338.0 120.0 C335.3 116.0 337.7 105.7 340.0 100.0 Z" fill="#44ee88" /><path d="M344.0 102.0 C345.0 97.3 350.0 92.7 354.0 90.0 C358.0 87.3 364.3 85.7 368.0 86.0 C371.7 86.3 375.7 89.0 376.0 92.0 C376.3 95.0 372.7 100.5 370.0 104.0 C367.3 107.5 363.7 110.7 360.0 113.0 C356.3 115.3 350.7 119.8 348.0 118.0 C345.3 116.2 343.0 106.7 344.0 102.0 Z" fill="#66ee33" /><path d="M184.0 123.0 C177.3 117.1 190.7 108.2 200.0 104.0 C209.3 99.8 225.0 99.7 240.0 98.0 C255.0 96.3 275.8 95.3 290.0 94.0 C304.2 92.7 314.3 91.7 325.0 90.0 C335.7 88.3 347.2 82.3 354.0 84.0 C360.8 85.7 365.0 94.5 366.0 100.0 C367.0 105.5 363.5 112.5 360.0 117.0 C356.5 121.5 351.7 124.8 345.0 127.0 C338.3 129.2 329.2 129.3 320.0 130.5 C310.8 131.7 303.3 132.5 290.0 134.0 C276.7 135.5 257.7 141.3 240.0 139.5 C222.3 137.7 190.7 128.9 184.0 123.0 Z" fill="#44eeff" /><path d="M190.0 122.8 C183.8 117.3 196.7 108.7 205.6 104.8 C214.6 100.8 229.5 100.7 243.8 99.1 C258.0 97.5 277.7 96.5 291.2 95.2 C304.8 94.0 314.7 93.0 325.0 91.4 C335.3 89.7 346.4 83.9 352.9 85.4 C359.3 86.9 362.9 95.3 363.8 100.5 C364.6 105.7 361.3 112.4 357.9 116.6 C354.6 120.8 349.8 123.6 343.5 125.7 C337.1 127.8 328.4 127.9 319.6 129.0 C310.9 130.1 303.8 130.9 290.9 132.3 C278.1 133.7 259.6 139.1 242.8 137.5 C225.9 136.0 196.2 128.3 190.0 122.8 Z" fill="#44ffcc" /><path d="M196.0 122.6 C190.3 117.6 202.7 109.2 211.2 105.5 C219.8 101.8 234.0 101.8 247.5 100.2 C261.0 98.8 279.6 97.8 292.5 96.5 C305.4 95.2 315.1 94.4 325.0 92.8 C334.9 91.1 345.7 85.4 351.8 86.8 C357.8 88.1 360.8 96.1 361.5 101.0 C362.2 105.9 359.1 112.2 355.9 116.1 C352.6 120.0 348.0 122.5 341.9 124.5 C335.8 126.4 327.6 126.5 319.2 127.5 C310.9 128.6 304.2 129.3 291.9 130.7 C279.6 132.0 261.5 136.9 245.5 135.6 C229.5 134.2 201.7 127.6 196.0 122.6 Z" fill="#44ee33" /><path d="M202.0 122.4 C196.8 117.9 208.7 109.8 216.9 106.2 C225.1 102.7 238.4 102.8 251.2 101.4 C264.1 100.0 281.5 99.0 293.8 97.8 C306.0 96.5 315.5 95.7 325.0 94.1 C334.5 92.5 344.9 86.9 350.6 88.1 C356.3 89.4 358.7 96.9 359.2 101.5 C359.8 106.1 357.0 112.1 353.8 115.7 C350.7 119.3 346.2 121.5 340.4 123.2 C334.6 124.9 326.8 125.1 318.9 126.0 C311.0 127.0 304.6 127.7 292.9 129.0 C281.1 130.2 263.4 134.7 248.2 133.6 C233.1 132.5 207.2 127.0 202.0 122.4 Z" fill="#bbff44" /><path d="M208.0 122.2 C203.2 118.1 214.7 110.3 222.5 107.0 C230.3 103.7 242.9 103.8 255.0 102.5 C267.1 101.2 283.3 100.2 295.0 99.0 C306.7 97.8 315.9 97.1 325.0 95.5 C334.1 93.9 344.2 88.4 349.5 89.5 C354.8 90.6 356.6 97.7 357.0 102.0 C357.4 106.3 354.8 111.9 351.8 115.2 C348.7 118.6 344.4 120.4 338.9 121.9 C333.3 123.5 326.0 123.7 318.5 124.5 C311.0 125.4 305.1 126.1 293.8 127.3 C282.6 128.5 265.3 132.5 251.0 131.7 C236.7 130.8 212.8 126.4 208.0 122.2 Z" fill="#ffee44" /><path d="M214.0 122.1 C209.7 118.4 220.7 110.8 228.1 107.8 C235.6 104.7 247.4 104.9 258.8 103.6 C270.1 102.4 285.2 101.4 296.2 100.2 C307.3 99.1 316.3 98.4 325.0 96.9 C333.7 95.3 343.4 89.9 348.4 90.9 C353.3 91.8 354.5 98.5 354.8 102.5 C355.0 106.5 352.6 111.8 349.7 114.8 C346.8 117.8 342.6 119.2 337.3 120.6 C332.1 122.0 325.2 122.2 318.1 123.1 C311.0 123.9 305.5 124.5 294.8 125.6 C284.0 126.7 267.2 130.3 253.8 129.7 C240.3 129.1 218.3 125.7 214.0 122.1 Z" fill="#ff8833" /><path d="M220.0 121.9 C216.2 118.7 226.7 111.4 233.8 108.5 C240.8 105.6 251.9 105.9 262.5 104.8 C273.1 103.6 287.1 102.6 297.5 101.5 C307.9 100.4 316.7 99.8 325.0 98.2 C333.3 96.7 342.7 91.5 347.2 92.2 C351.8 93.0 352.4 99.3 352.5 103.0 C352.6 106.7 350.4 111.7 347.6 114.4 C344.8 117.1 340.8 118.1 335.8 119.3 C330.8 120.5 324.4 120.8 317.8 121.6 C311.1 122.3 305.9 122.9 295.7 123.9 C285.5 125.0 269.1 128.1 256.5 127.7 C243.9 127.4 223.8 125.1 220.0 121.9 Z" fill="#ff3344" /><path d="M226.0 121.7 C222.7 118.9 232.7 111.9 239.4 109.2 C246.1 106.6 256.4 107.0 266.2 105.9 C276.1 104.8 289.0 103.8 298.8 102.8 C308.5 101.7 317.1 101.1 325.0 99.6 C332.9 98.1 341.9 93.0 346.1 93.6 C350.3 94.3 350.3 100.1 350.2 103.5 C350.2 106.9 348.2 111.5 345.6 113.9 C342.9 116.4 338.9 117.1 334.2 118.1 C329.5 119.1 323.6 119.4 317.4 120.1 C311.1 120.8 306.3 121.3 296.7 122.3 C287.0 123.2 271.0 125.9 259.2 125.8 C247.5 125.7 229.3 124.4 226.0 121.7 Z" fill="#ff88ee" /><path d="M232.0 121.5 C229.2 119.2 238.7 112.4 245.0 110.0 C251.3 107.6 260.8 108.0 270.0 107.0 C279.2 106.0 290.8 105.0 300.0 104.0 C309.2 103.0 317.5 102.5 325.0 101.0 C332.5 99.5 341.2 94.5 345.0 95.0 C348.8 95.5 348.2 100.9 348.0 104.0 C347.8 107.1 346.1 111.4 343.5 113.5 C340.9 115.6 337.1 116.0 332.7 116.8 C328.3 117.6 322.9 118.0 317.0 118.6 C311.1 119.2 306.8 119.7 297.6 120.6 C288.4 121.5 272.9 123.6 262.0 123.8 C251.1 124.0 234.8 123.8 232.0 121.5 Z" fill="#fff0fa" /></g><use href="#land"/><use href="#contours"/><g clip-path="url(#cFront)"><rect x="60" y="50" width="440" height="215" fill="#0077ff"/><path d="M231.8 159.3 C235.0 157.0 247.2 163.5 255.2 165.2 C263.2 166.8 272.5 167.8 280.0 169.1 C287.5 170.4 291.8 171.7 300.0 173.0 C308.2 174.3 318.9 175.3 329.3 176.9 C339.7 178.5 356.9 178.8 362.5 182.7 C368.0 186.6 368.0 198.0 362.5 200.3 C356.9 202.6 339.7 197.7 329.3 196.4 C318.9 195.1 308.2 193.2 300.0 192.5 C291.8 191.9 287.5 193.2 280.0 192.5 C272.5 191.9 262.6 190.9 255.2 188.6 C247.8 186.3 239.6 183.7 235.7 178.8 C231.8 174.0 228.5 161.6 231.8 159.3 Z" fill="#0099ff" /><path d="M311.7 176.9 C315.6 175.4 330.6 178.8 339.0 179.8 C347.5 180.8 358.6 180.3 362.5 182.7 C366.4 185.2 366.4 192.8 362.5 194.5 C358.6 196.1 346.8 193.5 339.0 192.5 C331.2 191.5 320.2 191.2 315.6 188.6 C311.1 186.0 307.8 178.4 311.7 176.9 Z" fill="#22aaff" /><path d="M167.4 159.3 C170.9 157.2 180.0 157.9 186.9 158.3 C193.7 158.8 203.1 159.8 208.4 162.2 C213.6 164.7 216.3 168.6 218.1 173.0 C219.9 177.4 219.4 184.0 219.1 188.6 C218.8 193.2 219.9 198.4 216.2 200.3 C212.4 202.3 202.5 201.0 196.6 200.3 C190.8 199.7 185.6 199.0 181.0 196.4 C176.5 193.8 171.9 188.9 169.3 184.7 C166.7 180.5 165.7 175.3 165.4 171.0 C165.1 166.8 163.8 161.4 167.4 159.3 Z" fill="#0044ff" /><path d="M179.1 173.0 C179.7 170.5 184.0 167.5 188.8 166.2 C193.7 164.8 203.8 163.7 208.4 165.2 C212.9 166.6 214.9 171.0 216.2 174.9 C217.5 178.8 218.1 185.3 216.2 188.6 C214.2 191.9 208.4 194.5 204.4 194.5 C200.5 194.5 196.0 190.9 192.7 188.6 C189.5 186.3 187.2 183.4 184.9 180.8 C182.6 178.2 178.4 175.4 179.1 173.0 Z" fill="#2222dd" /><path d="M118.6 159.3 C119.5 158.3 128.6 159.3 134.2 160.3 C139.7 161.3 146.5 162.7 151.7 165.2 C156.9 167.6 161.2 171.4 165.4 174.9 C169.6 178.5 173.9 183.4 177.1 186.6 C180.4 189.9 184.9 193.2 184.9 194.5 C184.9 195.8 181.0 196.1 177.1 194.5 C173.2 192.8 166.7 187.9 161.5 184.7 C156.3 181.4 151.4 178.0 145.9 174.9 C140.4 171.8 132.9 168.8 128.3 166.2 C123.8 163.5 117.6 160.3 118.6 159.3 Z" fill="#22aaff" /><path d="M132.2 162.8 C133.8 162.7 141.7 164.3 145.9 166.2 C150.1 168.0 153.7 170.9 157.6 174.0 C161.5 177.0 168.7 183.2 169.3 184.7 C170.0 186.2 165.1 184.7 161.5 182.7 C157.9 180.8 152.1 175.6 147.8 173.0 C143.6 170.4 138.7 168.8 136.1 167.1 C133.5 165.4 130.6 163.0 132.2 162.8 Z" fill="#44d5ff" /><path d="M175.2 196.4 L196.6 200.3 L216.2 202.3 L255.2 202.3 L280.0 205.2 L300.0 207.1 L329.3 212.0 L362.5 215.9 L364.0 270.0 L150.0 270.0 Z" fill="#0044ff" /><path d="M176.7 202.7 L196.6 205.4 L216.2 207.7 L255.2 208.5 L280.0 211.7 L300.0 214.6 L329.3 219.0 L362.5 222.2 L364.0 270.0 L150.0 270.0 Z" fill="#2222dd" /><path d="M177.9 207.3 L196.6 209.2 L216.2 211.8 L255.2 213.2 L280.0 216.5 L300.0 220.1 L329.3 224.3 L362.5 226.9 L364.0 270.0 L150.0 270.0 Z" fill="#4400bb" /><path d="M179.1 212.0 L196.6 213.0 L216.2 215.9 L255.2 217.9 L280.0 221.4 L300.0 225.7 L329.3 229.6 L362.5 231.5 L364.0 270.0 L150.0 270.0 Z" fill="#440066" /></g><use href="#seabed"/><g clip-path="url(#cRight)"><rect x="60" y="50" width="440" height="215" fill="#44bbff"/><path d="M360.5 179.8 L360.5 186.6 L495.2 104.7 L495.2 96.9 Z" fill="#44eeff" /><path d="M360.5 182.6 L378.1 174.0 L393.7 164.2 L409.3 154.0 L415.2 151.9 L426.9 144.4 L446.4 134.9 L465.9 126.1 L495.2 114.4 L497.0 270.0 L360.0 270.0 Z" fill="#22aaff" /><path d="M360.5 192.5 L378.1 184.7 L393.7 174.9 L409.3 165.2 L415.2 161.7 L426.9 155.4 L446.4 145.7 L465.9 135.9 L495.2 123.2 L497.0 270.0 L360.0 270.0 Z" fill="#0099ff" /><path d="M360.5 205.1 L378.1 198.4 L393.7 188.7 L409.3 179.5 L415.2 174.2 L426.9 169.5 L446.4 159.4 L465.9 148.4 L495.2 134.5 L497.0 270.0 L360.0 270.0 Z" fill="#0077ff" /><path d="M360.5 212.2 L378.1 206.2 L393.7 196.4 L409.3 187.6 L415.2 181.2 L426.9 177.4 L446.4 167.1 L465.9 155.4 L495.2 140.8 L497.0 270.0 L360.0 270.0 Z" fill="#0044ff" /><path d="M360.5 218.1 L378.1 212.6 L393.7 202.8 L409.3 194.4 L415.2 187.0 L426.9 184.0 L446.4 173.6 L465.9 161.3 L495.2 146.0 L497.0 270.0 L360.0 270.0 Z" fill="#2222dd" /><path d="M360.5 224.0 L378.1 219.0 L393.7 209.3 L409.3 201.1 L415.2 192.9 L426.9 190.6 L446.4 180.0 L465.9 167.1 L495.2 151.3 L497.0 270.0 L360.0 270.0 Z" fill="#4400bb" /><path d="M360.5 231.9 L378.1 227.6 L393.7 217.9 L409.3 210.1 L415.2 200.7 L426.9 199.3 L446.4 188.6 L465.9 174.9 L495.2 158.3 L497.0 270.0 L360.0 270.0 Z" fill="#440066" /></g><use href="#axes"/><g font-family="Liberation Mono, monospace" fill="#3c3c3c"><text x="55.6" y="147.2" font-size="16.6" text-anchor="end" >0</text><text x="55.6" y="187.8" font-size="16.6" text-anchor="end" >−50</text><text x="55.6" y="228.9" font-size="16.6" text-anchor="end" >−100</text><text x="83.6" y="247.8" font-size="16.6" text-anchor="middle" >106</text><text x="168.7" y="258.4" font-size="16.6" text-anchor="middle" >108</text><text x="253.0" y="268.5" font-size="16.6" text-anchor="middle" >110</text><text x="337.2" y="279.6" font-size="16.6" text-anchor="middle" >112</text><text x="378.6" y="275.8" font-size="16.6" text-anchor="middle" >8</text><text x="435.3" y="242.3" font-size="16.6" text-anchor="middle" >10</text><text x="487.6" y="209.8" font-size="16.6" text-anchor="middle" >12</text></g></g>
<g transform="translate(521.43 905.26) scale(1.0086 1.0052)"><g clip-path="url(#cTop)"><rect x="60" y="50" width="440" height="215" fill="#ccff33"/><path d="M63.9 142.2 C47.6 138.5 70.4 135.6 79.5 132.5 C88.6 129.4 105.5 125.5 118.6 123.7 C131.6 121.9 144.6 122.4 157.6 121.7 C170.6 121.1 186.9 119.8 196.6 119.8 C206.4 119.8 209.7 120.6 216.2 121.7 C222.7 122.9 229.2 124.8 235.7 126.6 C242.2 128.4 247.8 130.8 255.2 132.5 C262.6 134.1 272.9 136.4 280.0 136.4 C287.1 136.4 288.2 133.1 297.6 132.5 C307.0 131.8 325.6 131.0 336.6 132.5 C347.7 133.9 357.5 137.5 364.0 141.3 C370.5 145.0 375.7 148.4 375.7 154.9 C375.7 161.4 377.0 177.0 364.0 180.3 C351.0 183.5 328.7 178.7 297.6 174.4 C266.5 170.2 216.1 160.3 177.1 154.9 C138.2 149.5 80.2 146.0 63.9 142.2 Z" fill="#66ff99" /><path d="M282.0 154.9 C279.4 151.0 287.8 149.2 293.7 147.1 C299.6 145.0 309.3 142.7 317.1 142.2 C324.9 141.7 334.4 142.7 340.5 144.2 C346.7 145.6 352.9 148.2 354.2 151.0 C355.5 153.8 352.6 158.0 348.4 160.8 C344.1 163.5 335.3 166.0 328.8 167.6 C322.3 169.2 317.1 172.6 309.3 170.5 C301.5 168.4 284.6 158.8 282.0 154.9 Z" fill="#66ff99" /><path d="M63.9 142.2 C47.6 138.5 70.4 135.6 79.5 132.5 C88.6 129.4 105.5 125.5 118.6 123.7 C131.6 121.9 144.6 122.4 157.6 121.7 C170.6 121.1 186.9 119.8 196.6 119.8 C206.4 119.8 209.7 120.4 216.2 121.7 C222.7 123.0 229.2 125.5 235.7 127.6 C242.2 129.7 247.8 132.3 255.2 134.4 C262.6 136.5 276.2 139.1 280.0 140.3 C283.8 141.4 277.1 139.8 278.1 141.3 C279.1 142.7 286.5 145.8 285.9 149.1 C285.2 152.3 278.7 157.5 274.2 160.8 C269.6 164.0 274.7 169.6 258.6 168.6 C242.4 167.6 209.6 159.3 177.1 154.9 C144.7 150.5 80.2 146.0 63.9 142.2 Z" fill="#33ffcc" /><path d="M63.9 142.2 C47.6 138.5 70.4 135.6 79.5 132.5 C88.6 129.4 105.5 125.5 118.6 123.7 C131.6 121.9 144.6 122.4 157.6 121.7 C170.6 121.1 186.9 119.6 196.6 119.8 C206.4 119.9 209.7 121.1 216.2 122.7 C222.7 124.3 229.2 127.3 235.7 129.5 C242.2 131.8 247.8 133.9 255.2 136.4 C262.6 138.8 279.4 142.1 280.0 144.2 C280.5 146.3 263.8 146.0 258.6 149.1 C253.4 152.2 262.4 161.7 248.8 162.7 C235.2 163.7 207.9 158.3 177.1 154.9 C146.3 151.5 80.2 146.0 63.9 142.2 Z" fill="#00ffff" /><path d="M71.7 139.3 C70.1 137.3 81.5 133.8 89.3 131.5 C97.1 129.1 107.2 126.7 118.6 125.2 C129.9 123.8 144.6 123.3 157.6 122.7 C170.6 122.1 187.5 121.4 196.6 121.7 C205.7 122.1 207.4 123.0 212.3 124.7 C217.1 126.3 220.4 129.1 225.9 131.5 C231.4 133.9 236.4 136.7 245.4 139.3 C254.4 141.9 281.1 145.2 280.0 147.1 C278.9 149.1 244.6 149.1 239.0 151.0 C233.5 153.0 249.5 157.5 246.8 158.8 C244.2 160.1 222.0 159.5 223.4 158.8 C224.8 158.2 256.4 156.5 255.2 154.9 C254.0 153.3 229.2 150.0 216.2 149.1 C203.1 148.1 190.1 149.4 177.1 149.1 C164.1 148.7 151.1 148.1 138.1 147.1 C125.1 146.1 110.1 144.5 99.0 143.2 C88.0 141.9 73.3 141.3 71.7 139.3 Z" fill="#00ccff" /><path d="M89.3 134.4 C91.9 132.3 107.2 128.4 118.6 126.6 C129.9 124.8 145.9 124.3 157.6 123.7 C169.3 123.0 181.7 122.2 188.8 122.7 C196.0 123.2 200.9 124.7 200.5 126.6 C200.2 128.6 194.0 132.3 186.9 134.4 C179.7 136.5 167.4 138.3 157.6 139.3 C147.8 140.3 137.4 140.3 128.3 140.3 C119.2 140.3 109.5 140.3 102.9 139.3 C96.4 138.3 86.7 136.5 89.3 134.4 Z" fill="#0099ff" /><path d="M118.6 128.6 C122.8 127.3 142.3 125.6 153.7 124.9 C165.1 124.1 180.7 123.6 186.9 124.1 C193.1 124.5 192.4 126.3 190.8 127.6 C189.2 128.9 183.3 130.9 177.1 131.9 C170.9 132.9 161.8 133.3 153.7 133.4 C145.6 133.5 134.2 133.3 128.3 132.5 C122.5 131.7 114.3 129.8 118.6 128.6 Z" fill="#0066ff" /><ellipse cx="199.6" cy="115.5" rx="9.0" ry="4.0" fill="#99ff66" transform="rotate(-20.0 199.6 115.5)" /><ellipse cx="199.6" cy="115.5" rx="5.4" ry="2.4" fill="#ccff33" transform="rotate(-20.0 199.6 115.5)" /><path d="M329.3 102.2 C335.8 97.3 349.8 101.4 358.6 100.3 C367.3 99.1 377.8 95.1 382.0 95.4 C386.2 95.7 386.9 99.4 383.9 102.2 C381.0 105.0 370.9 109.0 364.4 112.0 C357.9 114.9 344.9 116.9 344.9 119.8 C344.9 122.7 357.6 126.4 364.4 129.5 C371.2 132.6 379.7 135.1 385.9 138.3 C392.1 141.6 400.5 145.3 401.5 149.1 C402.5 152.8 395.6 159.8 391.7 160.8 C387.8 161.7 382.6 158.2 378.1 154.9 C373.5 151.7 370.9 145.0 364.4 141.3 C357.9 137.5 346.5 134.4 339.0 132.5 C331.6 130.5 321.1 134.6 319.5 129.5 C317.9 124.5 322.8 107.1 329.3 102.2 Z" fill="#ffff00" /><path d="M448.4 113.9 C450.0 111.5 459.4 108.7 465.9 107.1 C472.4 105.5 485.8 103.0 487.4 104.2 C489.0 105.3 480.9 111.0 475.7 113.9 C470.5 116.9 460.7 121.7 456.2 121.7 C451.6 121.7 446.7 116.4 448.4 113.9 Z" fill="#ffff00" /><path d="M329.3 113.9 C334.2 112.1 349.8 113.9 358.6 114.9 C367.3 115.9 374.8 118.6 382.0 119.8 C389.1 120.9 395.0 121.7 401.5 121.7 C408.0 121.7 414.5 120.8 421.0 119.8 C427.5 118.8 434.7 116.2 440.5 115.9 C446.4 115.6 454.9 115.6 456.2 117.8 C457.5 120.1 451.6 126.3 448.4 129.5 C445.1 132.8 441.8 135.6 436.6 137.3 C431.4 139.1 423.6 140.0 417.1 140.3 C410.6 140.6 404.1 140.6 397.6 139.3 C391.1 138.0 384.6 134.4 378.1 132.5 C371.6 130.5 366.7 128.7 358.6 127.6 C350.4 126.4 334.2 127.9 329.3 125.6 C324.4 123.4 324.4 115.7 329.3 113.9 Z" fill="#ffcc00" /><path d="M329.3 116.9 C334.2 116.1 349.8 117.7 358.6 118.8 C367.3 119.9 374.8 122.4 382.0 123.7 C389.1 125.0 395.0 126.3 401.5 126.6 C408.0 126.9 415.2 126.0 421.0 125.6 C426.9 125.3 432.6 124.2 436.6 124.7 C440.7 125.1 445.4 126.9 445.4 128.6 C445.4 130.2 441.4 133.1 436.6 134.4 C431.9 135.7 423.6 136.4 417.1 136.4 C410.6 136.4 404.1 135.6 397.6 134.4 C391.1 133.3 384.6 131.1 378.1 129.5 C371.6 128.0 366.7 126.3 358.6 125.2 C350.4 124.2 334.2 124.7 329.3 123.3 C324.4 121.9 324.4 117.6 329.3 116.9 Z" fill="#ff9900" /><path d="M409.3 130.5 C410.0 129.3 416.5 128.5 421.0 128.0 C425.6 127.5 432.9 127.2 436.6 127.6 C440.4 128.0 443.8 129.4 443.5 130.5 C443.1 131.7 439.1 133.7 434.7 134.4 C430.3 135.2 421.3 135.7 417.1 135.0 C412.9 134.4 408.7 131.7 409.3 130.5 Z" fill="#ff6600" /><path d="M235.1 119.8 C233.5 117.7 243.3 116.4 248.8 114.9 C254.3 113.4 260.8 112.1 268.3 111.0 C275.8 109.9 285.6 109.0 293.7 108.1 C301.8 107.1 310.0 106.3 317.1 105.1 C324.3 104.0 330.1 102.7 336.6 101.2 C343.1 99.8 351.0 96.2 356.2 96.4 C361.4 96.5 365.9 99.0 367.9 102.2 C369.8 105.5 369.8 112.5 367.9 115.9 C365.9 119.3 361.4 120.9 356.2 122.7 C351.0 124.5 343.1 125.6 336.6 126.6 C330.1 127.6 325.3 128.1 317.1 128.6 C309.0 129.1 297.6 129.7 287.8 129.5 C278.1 129.4 267.3 129.2 258.6 127.6 C249.8 126.0 236.8 121.9 235.1 119.8 Z" fill="#ffff00" /><path d="M243.7 119.1 C242.5 117.3 251.1 116.0 256.2 114.7 C261.3 113.4 267.4 112.3 274.2 111.3 C280.9 110.3 289.5 109.6 296.8 108.7 C304.1 107.8 311.4 107.1 317.9 106.1 C324.4 105.1 330.0 103.9 335.9 102.8 C341.7 101.6 348.4 98.8 352.8 99.0 C357.3 99.2 360.9 101.3 362.4 104.1 C363.9 106.8 363.6 112.7 361.6 115.6 C359.7 118.4 355.5 119.8 350.7 121.3 C345.9 122.9 338.7 123.8 332.7 124.6 C326.7 125.5 322.1 125.9 314.8 126.3 C307.5 126.8 297.5 127.3 289.0 127.2 C280.5 127.1 271.2 127.0 263.6 125.6 C256.1 124.3 245.0 120.9 243.7 119.1 Z" fill="#ff9900" /><path d="M252.3 118.4 C251.5 116.8 259.0 115.6 263.6 114.5 C268.3 113.4 274.0 112.4 280.0 111.5 C286.1 110.7 293.5 110.1 299.9 109.3 C306.4 108.6 312.8 107.9 318.7 107.1 C324.5 106.3 329.9 105.2 335.1 104.3 C340.2 103.4 345.9 101.4 349.5 101.7 C353.2 101.9 356.0 103.7 356.9 106.0 C357.9 108.2 357.3 112.9 355.4 115.3 C353.4 117.6 349.7 118.7 345.2 120.0 C340.8 121.2 334.3 121.9 328.8 122.6 C323.4 123.3 318.9 123.7 312.4 124.1 C306.0 124.5 297.5 124.9 290.2 124.9 C282.9 124.8 275.0 124.8 268.7 123.7 C262.4 122.6 253.2 119.9 252.3 118.4 Z" fill="#ff3300" /><path d="M260.9 117.7 C260.4 116.4 266.9 115.3 271.1 114.3 C275.2 113.3 280.6 112.5 285.9 111.8 C291.2 111.1 297.5 110.6 303.1 109.9 C308.7 109.3 314.3 108.8 319.5 108.1 C324.7 107.4 329.8 106.4 334.3 105.8 C338.8 105.2 343.3 104.0 346.2 104.3 C349.1 104.7 351.0 106.1 351.5 107.8 C352.0 109.6 351.1 113.1 349.1 114.9 C347.2 116.7 343.8 117.7 339.8 118.6 C335.7 119.6 329.9 120.1 324.9 120.6 C320.0 121.2 315.7 121.6 310.1 121.9 C304.5 122.2 297.4 122.5 291.4 122.5 C285.3 122.5 278.9 122.5 273.8 121.7 C268.7 120.9 261.4 118.9 260.9 117.7 Z" fill="#ff0000" /><path d="M269.5 117.0 C269.4 116.0 274.8 114.9 278.5 114.1 C282.2 113.3 287.1 112.7 291.7 112.1 C296.4 111.5 301.4 111.1 306.2 110.6 C310.9 110.1 315.7 109.6 320.2 109.0 C324.8 108.5 329.7 107.7 333.5 107.3 C337.3 107.0 340.8 106.6 342.9 107.0 C345.0 107.4 346.0 108.4 346.0 109.7 C346.0 111.0 344.8 113.4 342.9 114.6 C340.9 115.9 337.9 116.6 334.3 117.2 C330.7 117.9 325.4 118.2 321.0 118.6 C316.6 119.1 312.5 119.4 307.7 119.7 C303.0 119.9 297.3 120.2 292.5 120.2 C287.7 120.2 282.7 120.3 278.9 119.8 C275.0 119.2 269.6 117.9 269.5 117.0 Z" fill="#cc0000" /><path d="M278.1 116.3 C278.4 115.6 282.6 114.6 285.9 113.9 C289.1 113.3 293.7 112.8 297.6 112.4 C301.5 111.9 305.4 111.6 309.3 111.2 C313.2 110.8 317.1 110.4 321.0 110.0 C324.9 109.6 329.6 108.9 332.7 108.8 C335.8 108.8 338.3 109.2 339.6 109.6 C340.9 110.1 341.0 110.8 340.5 111.6 C340.1 112.4 338.6 113.6 336.6 114.3 C334.7 115.0 332.1 115.5 328.8 115.9 C325.6 116.3 321.0 116.4 317.1 116.7 C313.2 116.9 309.3 117.2 305.4 117.4 C301.5 117.6 297.3 117.8 293.7 117.8 C290.1 117.9 286.5 118.1 283.9 117.8 C281.3 117.6 277.8 116.9 278.1 116.3 Z" fill="#990000" /></g><use href="#land"/><use href="#contours"/><g clip-path="url(#cFront)"><rect x="60" y="50" width="440" height="215" fill="#00ffff"/><path d="M65.9 140.3 C71.4 139.5 88.6 142.7 99.0 144.2 C109.5 145.6 123.8 147.4 128.3 149.1 C132.9 150.7 131.2 153.6 126.4 153.9 C121.5 154.3 109.1 151.8 99.0 151.0 C89.0 150.2 71.4 150.8 65.9 149.1 C60.3 147.3 60.3 141.1 65.9 140.3 Z" fill="#00ccff" /><path d="M118.6 158.8 C119.9 157.4 132.2 157.8 138.1 158.8 C143.9 159.8 149.1 162.1 153.7 164.7 C158.2 167.3 162.2 171.5 165.4 174.4 C168.7 177.4 173.9 180.9 173.2 182.2 C172.6 183.5 166.1 183.5 161.5 182.2 C156.9 180.9 151.1 176.9 145.9 174.4 C140.7 172.0 134.8 170.2 130.3 167.6 C125.7 165.0 117.3 160.3 118.6 158.8 Z" fill="#33ffcc" /><ellipse cx="146.9" cy="169.6" rx="12.0" ry="5.0" fill="#66ff99" transform="rotate(35.0 146.9 169.6)" /><path d="M165.4 155.9 C166.5 153.5 175.2 157.5 181.0 158.8 C186.9 160.1 193.7 162.2 200.5 163.7 C207.4 165.2 219.1 164.5 222.0 167.6 C224.9 170.7 220.2 178.0 218.1 182.2 C216.0 186.5 212.9 190.5 209.3 193.0 C205.7 195.4 200.7 198.2 196.6 196.9 C192.6 195.6 188.7 189.1 184.9 185.2 C181.2 181.3 177.4 178.3 174.2 173.5 C170.9 168.6 164.3 158.3 165.4 155.9 Z" fill="#00ccff" /><path d="M235.7 172.5 C238.3 169.2 247.8 169.4 255.2 168.6 C262.6 167.8 272.9 167.0 280.0 167.6 C287.1 168.3 283.8 170.0 297.6 172.5 C311.4 174.9 352.1 176.4 363.0 182.2 C373.9 188.1 370.6 203.4 363.0 207.6 C355.3 211.8 331.3 207.9 317.1 207.6 C303.0 207.3 284.3 207.0 278.1 205.7 C271.9 204.4 283.8 201.4 280.0 199.8 C276.2 198.2 261.9 197.9 255.2 195.9 C248.5 194.0 242.8 192.0 239.6 188.1 C236.3 184.2 233.1 175.7 235.7 172.5 Z" fill="#33ffcc" /><path d="M258.6 182.2 C260.8 180.3 267.7 179.3 274.2 178.3 C280.7 177.4 287.2 176.2 297.6 176.4 C308.0 176.5 325.7 178.2 336.6 179.3 C347.5 180.5 358.6 179.3 363.0 183.2 C367.4 187.1 367.4 199.6 363.0 202.7 C358.6 205.8 347.5 202.1 336.6 201.8 C325.7 201.4 308.0 201.8 297.6 200.8 C287.2 199.8 280.4 197.7 274.2 195.9 C268.0 194.1 263.1 192.3 260.5 190.1 C257.9 187.8 256.3 184.2 258.6 182.2 Z" fill="#66ff99" /><path d="M317.1 188.1 C317.8 185.8 323.6 184.2 328.8 183.2 C334.0 182.2 342.7 182.1 348.4 182.2 C354.0 182.4 360.6 181.3 363.0 184.2 C365.4 187.1 366.1 197.4 363.0 199.8 C359.9 202.3 350.8 199.3 344.4 198.8 C338.1 198.3 329.5 198.7 324.9 196.9 C320.4 195.1 316.5 190.4 317.1 188.1 Z" fill="#99ff66" /><path d="M342.0 188.1 C343.1 186.0 347.2 184.2 350.8 183.2 C354.3 182.2 361.3 179.6 363.4 182.2 C365.6 184.8 365.6 195.9 363.4 198.8 C361.3 201.8 354.0 200.3 350.8 199.8 C347.5 199.3 345.4 197.9 343.9 195.9 C342.5 194.0 340.8 190.2 342.0 188.1 Z" fill="#ccff33" /><path d="M170.0 191.0 L181.0 195.0 L197.0 196.0 L217.0 196.0 L255.0 201.0 L280.0 206.0 L300.0 209.0 L335.7 215.1 L364.0 220.8 L364.0 270.0 L150.0 270.0 Z" fill="#00ccff" /><path d="M171.5 194.3 L182.1 199.2 L197.0 201.5 L217.0 202.8 L255.0 208.0 L280.0 212.9 L300.0 215.8 L335.7 221.3 L364.0 227.1 L364.0 270.0 L150.0 270.0 Z" fill="#0099ff" /><path d="M173.1 197.6 L183.2 203.4 L197.0 207.0 L217.0 209.6 L255.0 215.1 L280.0 219.9 L300.0 222.6 L335.7 227.6 L364.0 233.4 L364.0 270.0 L150.0 270.0 Z" fill="#0066ff" /><path d="M174.7 201.1 L184.3 207.7 L197.0 212.8 L217.0 216.8 L255.0 222.4 L280.0 227.1 L300.0 229.8 L335.7 234.1 L364.0 240.0 L364.0 270.0 L150.0 270.0 Z" fill="#0033ff" /><path d="M177.0 206.0 L186.0 214.0 L197.0 221.0 L217.0 227.0 L255.0 233.0 L280.0 237.5 L300.0 240.0 L335.7 243.5 L364.0 249.5 L364.0 270.0 L150.0 270.0 Z" fill="#0000ff" /></g><use href="#seabed"/><g clip-path="url(#cRight)"><rect x="60" y="50" width="440" height="215" fill="#ccff33"/><path d="M385.9 182.2 C385.9 180.6 392.4 173.1 397.6 168.6 C402.8 164.0 410.6 159.5 417.1 154.9 C423.6 150.4 430.1 145.8 436.6 141.3 C443.1 136.7 449.3 132.1 456.2 127.6 C463.0 123.0 475.0 113.6 477.6 113.9 C480.2 114.2 476.0 123.7 471.8 129.5 C467.5 135.4 458.1 143.9 452.3 149.1 C446.4 154.3 442.5 157.2 436.6 160.8 C430.8 164.3 423.6 167.6 417.1 170.5 C410.6 173.5 402.8 176.4 397.6 178.3 C392.4 180.3 385.9 183.9 385.9 182.2 Z" fill="#ffff00" /><path d="M415.2 153.0 C414.8 151.3 422.0 146.9 426.9 143.2 C431.8 139.5 438.6 134.4 444.4 130.5 C450.3 126.6 459.7 119.1 462.0 119.8 C464.3 120.4 461.0 129.9 458.1 134.4 C455.2 139.0 449.3 144.0 444.4 147.1 C439.6 150.2 433.7 152.0 428.8 153.0 C424.0 153.9 415.5 154.6 415.2 153.0 Z" fill="#ffcc00" /><path d="M424.9 146.1 C425.3 144.7 432.7 140.1 436.6 137.3 C440.5 134.6 446.7 129.4 448.4 129.5 C450.0 129.7 448.7 135.6 446.4 138.3 C444.1 141.1 438.3 144.8 434.7 146.1 C431.1 147.4 424.6 147.6 424.9 146.1 Z" fill="#ff9900" /><path d="M360.0 201.2 L380.0 190.0 L400.0 179.5 L432.5 164.3 L450.0 154.0 L470.0 142.0 L491.4 128.7 L497.0 125.0 L498.0 270.0 L360.0 270.0 Z" fill="#99ff66" /><path d="M360.0 204.8 L380.0 193.5 L400.0 182.9 L432.5 167.3 L450.0 157.0 L470.0 144.9 L491.4 131.6 L497.0 127.9 L498.0 270.0 L360.0 270.0 Z" fill="#66ff99" /><path d="M360.0 208.4 L380.0 197.1 L400.0 186.2 L432.5 170.3 L450.0 159.9 L470.0 147.8 L491.4 134.5 L497.0 130.8 L498.0 270.0 L360.0 270.0 Z" fill="#33ffcc" /><path d="M360.0 211.7 L380.0 200.3 L400.0 189.4 L432.5 173.1 L450.0 162.7 L470.0 150.6 L491.4 137.3 L497.0 133.6 L498.0 270.0 L360.0 270.0 Z" fill="#00ffff" /><path d="M360.0 219.8 L380.0 208.3 L400.0 197.1 L432.5 179.9 L450.0 169.4 L470.0 157.2 L491.4 143.9 L497.0 140.2 L498.0 270.0 L360.0 270.0 Z" fill="#00ccff" /><path d="M360.0 226.5 L380.0 214.9 L400.0 203.3 L432.5 185.6 L450.0 174.9 L470.0 162.7 L491.4 149.4 L497.0 145.7 L498.0 270.0 L360.0 270.0 Z" fill="#0099ff" /><path d="M360.0 233.2 L380.0 221.5 L400.0 209.7 L432.5 191.2 L450.0 180.5 L470.0 168.1 L491.4 154.8 L497.0 151.1 L498.0 270.0 L360.0 270.0 Z" fill="#0066ff" /><path d="M360.0 239.8 L380.0 228.1 L400.0 215.9 L432.5 196.8 L450.0 186.0 L470.0 173.6 L491.4 160.3 L497.0 156.6 L498.0 270.0 L360.0 270.0 Z" fill="#0033ff" /><path d="M360.0 248.9 L380.0 237.0 L400.0 224.5 L432.5 204.4 L450.0 193.5 L470.0 181.0 L491.4 167.7 L497.0 164.0 L498.0 270.0 L360.0 270.0 Z" fill="#0000ff" /></g><use href="#axes"/><g font-family="Liberation Mono, monospace" fill="#3c3c3c"><text x="55.6" y="147.2" font-size="16.6" text-anchor="end" >0</text><text x="55.6" y="187.8" font-size="16.6" text-anchor="end" >−50</text><text x="55.6" y="228.9" font-size="16.6" text-anchor="end" >−100</text><text x="83.6" y="247.8" font-size="16.6" text-anchor="middle" >106</text><text x="168.7" y="258.4" font-size="16.6" text-anchor="middle" >108</text><text x="253.0" y="268.5" font-size="16.6" text-anchor="middle" >110</text><text x="337.2" y="279.6" font-size="16.6" text-anchor="middle" >112</text><text x="378.6" y="275.8" font-size="16.6" text-anchor="middle" >8</text><text x="435.3" y="242.3" font-size="16.6" text-anchor="middle" >10</text><text x="487.6" y="209.8" font-size="16.6" text-anchor="middle" >12</text></g></g>
<rect x="66.40" y="27.5" width="35.84" height="12.5" fill="#2255ff"/><rect x="101.94" y="27.5" width="35.84" height="12.5" fill="#229fff"/><rect x="137.48" y="27.5" width="35.84" height="12.5" fill="#00ccff"/><rect x="173.03" y="27.5" width="35.84" height="12.5" fill="#22ffff"/><rect x="208.57" y="27.5" width="35.84" height="12.5" fill="#55ffff"/><rect x="244.11" y="27.5" width="35.84" height="12.5" fill="#aaffff"/><rect x="279.65" y="27.5" width="35.84" height="12.5" fill="#ffff55"/><rect x="315.19" y="27.5" width="35.84" height="12.5" fill="#ffee00"/><rect x="350.73" y="27.5" width="35.84" height="12.5" fill="#ffaa00"/><rect x="386.27" y="27.5" width="35.84" height="12.5" fill="#ff8800"/><rect x="421.82" y="27.5" width="35.84" height="12.5" fill="#ff6600"/><rect x="457.36" y="27.5" width="35.84" height="12.5" fill="#ff0000"/><rect x="66.5" y="27.5" width="426.5" height="12.5" fill="none" stroke="#222" stroke-width="1.2"/><path d="M137.6 27.5 V40.0" stroke="#111" stroke-width="1.1" stroke-dasharray="3.5 2"/><path d="M208.7 27.5 V40.0" stroke="#111" stroke-width="1.1" stroke-dasharray="3.5 2"/><path d="M279.8 27.5 V40.0" stroke="#111" stroke-width="1.1" stroke-dasharray="3.5 2"/><path d="M350.8 27.5 V40.0" stroke="#111" stroke-width="1.1" stroke-dasharray="3.5 2"/><path d="M421.9 27.5 V40.0" stroke="#111" stroke-width="1.1" stroke-dasharray="3.5 2"/><g font-family="Liberation Mono, monospace" fill="#3c3c3c"><text x="132.6" y="24.3" font-size="16.6" text-anchor="middle" >−0.4</text><text x="203.7" y="24.3" font-size="16.6" text-anchor="middle" >−0.2</text><text x="279.8" y="24.3" font-size="16.6" text-anchor="middle" >0</text><text x="350.8" y="24.3" font-size="16.6" text-anchor="middle" >0.2</text><text x="421.9" y="24.3" font-size="16.6" text-anchor="middle" >0.4</text><text x="493.0" y="24.3" font-size="16.6" text-anchor="middle" >0.6</text></g>
<rect x="586.10" y="28.2" width="36.35" height="12.6" fill="#2255ff"/><rect x="622.15" y="28.2" width="36.35" height="12.6" fill="#229fff"/><rect x="658.20" y="28.2" width="36.35" height="12.6" fill="#00ccff"/><rect x="694.25" y="28.2" width="36.35" height="12.6" fill="#22ffff"/><rect x="730.30" y="28.2" width="36.35" height="12.6" fill="#55ffff"/><rect x="766.35" y="28.2" width="36.35" height="12.6" fill="#aaffff"/><rect x="802.40" y="28.2" width="36.35" height="12.6" fill="#ffff55"/><rect x="838.45" y="28.2" width="36.35" height="12.6" fill="#ffee00"/><rect x="874.50" y="28.2" width="36.35" height="12.6" fill="#ffaa00"/><rect x="910.55" y="28.2" width="36.35" height="12.6" fill="#ff8800"/><rect x="946.60" y="28.2" width="36.35" height="12.6" fill="#ff6600"/><rect x="982.65" y="28.2" width="36.35" height="12.6" fill="#ff0000"/><rect x="586.2" y="28.2" width="432.6" height="12.6" fill="none" stroke="#222" stroke-width="1.2"/><path d="M658.3 28.2 V40.8" stroke="#111" stroke-width="1.1" stroke-dasharray="3.5 2"/><path d="M730.4 28.2 V40.8" stroke="#111" stroke-width="1.1" stroke-dasharray="3.5 2"/><path d="M802.5 28.2 V40.8" stroke="#111" stroke-width="1.1" stroke-dasharray="3.5 2"/><path d="M874.6 28.2 V40.8" stroke="#111" stroke-width="1.1" stroke-dasharray="3.5 2"/><path d="M946.7 28.2 V40.8" stroke="#111" stroke-width="1.1" stroke-dasharray="3.5 2"/><g font-family="Liberation Mono, monospace" fill="#3c3c3c"><text x="653.3" y="25.3" font-size="16.6" text-anchor="middle" >−0.4</text><text x="725.4" y="25.3" font-size="16.6" text-anchor="middle" >−0.2</text><text x="802.5" y="25.3" font-size="16.6" text-anchor="middle" >0</text><text x="874.6" y="25.3" font-size="16.6" text-anchor="middle" >0.2</text><text x="946.7" y="25.3" font-size="16.6" text-anchor="middle" >0.4</text><text x="1018.8" y="25.3" font-size="16.6" text-anchor="middle" >0.6</text></g>
<rect x="66.40" y="322.5" width="35.84" height="12.7" fill="#2255ff"/><rect x="101.94" y="322.5" width="35.84" height="12.7" fill="#229fff"/><rect x="137.48" y="322.5" width="35.84" height="12.7" fill="#00ccff"/><rect x="173.03" y="322.5" width="35.84" height="12.7" fill="#22ffff"/><rect x="208.57" y="322.5" width="35.84" height="12.7" fill="#55ffff"/><rect x="244.11" y="322.5" width="35.84" height="12.7" fill="#aaffff"/><rect x="279.65" y="322.5" width="35.84" height="12.7" fill="#ffff55"/><rect x="315.19" y="322.5" width="35.84" height="12.7" fill="#ffee00"/><rect x="350.73" y="322.5" width="35.84" height="12.7" fill="#ffaa00"/><rect x="386.27" y="322.5" width="35.84" height="12.7" fill="#ff8800"/><rect x="421.82" y="322.5" width="35.84" height="12.7" fill="#ff6600"/><rect x="457.36" y="322.5" width="35.84" height="12.7" fill="#ff0000"/><rect x="66.5" y="322.5" width="426.5" height="12.7" fill="none" stroke="#222" stroke-width="1.2"/><path d="M173.1 322.5 V335.2" stroke="#111" stroke-width="1.1" stroke-dasharray="3.5 2"/><path d="M279.8 322.5 V335.2" stroke="#111" stroke-width="1.1" stroke-dasharray="3.5 2"/><path d="M386.4 322.5 V335.2" stroke="#111" stroke-width="1.1" stroke-dasharray="3.5 2"/><g font-family="Liberation Mono, monospace" fill="#3c3c3c"><text x="61.5" y="319.3" font-size="16.6" text-anchor="middle" >−2</text><text x="168.1" y="319.3" font-size="16.6" text-anchor="middle" >−1</text><text x="279.8" y="319.3" font-size="16.6" text-anchor="middle" >0</text><text x="386.4" y="319.3" font-size="16.6" text-anchor="middle" >1</text><text x="493.0" y="319.3" font-size="16.6" text-anchor="middle" >2</text></g>
<rect x="586.90" y="323.6" width="21.79" height="12.8" fill="#00009a"/><rect x="608.39" y="323.6" width="21.79" height="12.8" fill="#0000cd"/><rect x="629.88" y="323.6" width="21.79" height="12.8" fill="#0000ff"/><rect x="651.37" y="323.6" width="21.79" height="12.8" fill="#0033ff"/><rect x="672.86" y="323.6" width="21.79" height="12.8" fill="#0066ff"/><rect x="694.35" y="323.6" width="21.79" height="12.8" fill="#0099ff"/><rect x="715.84" y="323.6" width="21.79" height="12.8" fill="#00ccff"/><rect x="737.33" y="323.6" width="21.79" height="12.8" fill="#00ffff"/><rect x="758.82" y="323.6" width="21.79" height="12.8" fill="#33ffcc"/><rect x="780.31" y="323.6" width="21.79" height="12.8" fill="#66ff99"/><rect x="801.80" y="323.6" width="21.79" height="12.8" fill="#99ff66"/><rect x="823.29" y="323.6" width="21.79" height="12.8" fill="#ccff33"/><rect x="844.78" y="323.6" width="21.79" height="12.8" fill="#ffff00"/><rect x="866.27" y="323.6" width="21.79" height="12.8" fill="#ffcc00"/><rect x="887.76" y="323.6" width="21.79" height="12.8" fill="#ff9900"/><rect x="909.25" y="323.6" width="21.79" height="12.8" fill="#ff6600"/><rect x="930.74" y="323.6" width="21.79" height="12.8" fill="#ff3300"/><rect x="952.23" y="323.6" width="21.79" height="12.8" fill="#ff0000"/><rect x="973.72" y="323.6" width="21.79" height="12.8" fill="#cc0000"/><rect x="995.21" y="323.6" width="21.79" height="12.8" fill="#990000"/><rect x="587.0" y="323.6" width="429.8" height="12.8" fill="none" stroke="#222" stroke-width="1.2"/><path d="M673.0 323.6 V336.4" stroke="#111" stroke-width="1.1" stroke-dasharray="3.5 2"/><path d="M758.9 323.6 V336.4" stroke="#111" stroke-width="1.1" stroke-dasharray="3.5 2"/><path d="M844.9 323.6 V336.4" stroke="#111" stroke-width="1.1" stroke-dasharray="3.5 2"/><path d="M930.8 323.6 V336.4" stroke="#111" stroke-width="1.1" stroke-dasharray="3.5 2"/><g font-family="Liberation Mono, monospace" fill="#3c3c3c"><text x="587.0" y="320.3" font-size="16.6" text-anchor="middle" >1019</text><text x="673.0" y="320.3" font-size="16.6" text-anchor="middle" >1020</text><text x="758.9" y="320.3" font-size="16.6" text-anchor="middle" >1021</text><text x="844.9" y="320.3" font-size="16.6" text-anchor="middle" >1022</text><text x="930.8" y="320.3" font-size="16.6" text-anchor="middle" >1023</text><text x="1016.8" y="320.3" font-size="16.6" text-anchor="middle" >1024</text></g>
<rect x="66.40" y="636.6" width="21.62" height="12.6" fill="#00009a"/><rect x="87.73" y="636.6" width="21.62" height="12.6" fill="#0000cd"/><rect x="109.05" y="636.6" width="21.62" height="12.6" fill="#0000ff"/><rect x="130.38" y="636.6" width="21.62" height="12.6" fill="#0033ff"/><rect x="151.70" y="636.6" width="21.62" height="12.6" fill="#0066ff"/><rect x="173.03" y="636.6" width="21.62" height="12.6" fill="#0099ff"/><rect x="194.35" y="636.6" width="21.62" height="12.6" fill="#00ccff"/><rect x="215.68" y="636.6" width="21.62" height="12.6" fill="#00ffff"/><rect x="237.00" y="636.6" width="21.62" height="12.6" fill="#33ffcc"/><rect x="258.32" y="636.6" width="21.62" height="12.6" fill="#66ff99"/><rect x="279.65" y="636.6" width="21.62" height="12.6" fill="#99ff66"/><rect x="300.97" y="636.6" width="21.62" height="12.6" fill="#ccff33"/><rect x="322.30" y="636.6" width="21.62" height="12.6" fill="#ffff00"/><rect x="343.62" y="636.6" width="21.62" height="12.6" fill="#ffcc00"/><rect x="364.95" y="636.6" width="21.62" height="12.6" fill="#ff9900"/><rect x="386.27" y="636.6" width="21.62" height="12.6" fill="#ff6600"/><rect x="407.60" y="636.6" width="21.62" height="12.6" fill="#ff3300"/><rect x="428.92" y="636.6" width="21.62" height="12.6" fill="#ff0000"/><rect x="450.25" y="636.6" width="21.62" height="12.6" fill="#cc0000"/><rect x="471.57" y="636.6" width="21.62" height="12.6" fill="#990000"/><rect x="66.5" y="636.6" width="426.5" height="12.6" fill="none" stroke="#222" stroke-width="1.2"/><path d="M151.8 636.6 V649.2" stroke="#111" stroke-width="1.1" stroke-dasharray="3.5 2"/><path d="M237.1 636.6 V649.2" stroke="#111" stroke-width="1.1" stroke-dasharray="3.5 2"/><path d="M322.4 636.6 V649.2" stroke="#111" stroke-width="1.1" stroke-dasharray="3.5 2"/><path d="M407.7 636.6 V649.2" stroke="#111" stroke-width="1.1" stroke-dasharray="3.5 2"/><g font-family="Liberation Mono, monospace" fill="#3c3c3c"><text x="66.5" y="633.3" font-size="16.6" text-anchor="middle" >0</text><text x="151.8" y="633.3" font-size="16.6" text-anchor="middle" >2</text><text x="237.1" y="633.3" font-size="16.6" text-anchor="middle" >4</text><text x="322.4" y="633.3" font-size="16.6" text-anchor="middle" >6</text><text x="407.7" y="633.3" font-size="16.6" text-anchor="middle" >8</text><text x="493.0" y="633.3" font-size="16.6" text-anchor="middle" >10</text></g>
<rect x="588.40" y="637.0" width="21.78" height="12.6" fill="#00009a"/><rect x="609.88" y="637.0" width="21.78" height="12.6" fill="#0000cd"/><rect x="631.35" y="637.0" width="21.78" height="12.6" fill="#0000ff"/><rect x="652.82" y="637.0" width="21.78" height="12.6" fill="#0033ff"/><rect x="674.30" y="637.0" width="21.78" height="12.6" fill="#0066ff"/><rect x="695.77" y="637.0" width="21.78" height="12.6" fill="#0099ff"/><rect x="717.25" y="637.0" width="21.78" height="12.6" fill="#00ccff"/><rect x="738.73" y="637.0" width="21.78" height="12.6" fill="#00ffff"/><rect x="760.20" y="637.0" width="21.78" height="12.6" fill="#33ffcc"/><rect x="781.67" y="637.0" width="21.78" height="12.6" fill="#66ff99"/><rect x="803.15" y="637.0" width="21.78" height="12.6" fill="#99ff66"/><rect x="824.62" y="637.0" width="21.78" height="12.6" fill="#ccff33"/><rect x="846.10" y="637.0" width="21.78" height="12.6" fill="#ffff00"/><rect x="867.57" y="637.0" width="21.78" height="12.6" fill="#ffcc00"/><rect x="889.05" y="637.0" width="21.78" height="12.6" fill="#ff9900"/><rect x="910.52" y="637.0" width="21.78" height="12.6" fill="#ff6600"/><rect x="932.00" y="637.0" width="21.78" height="12.6" fill="#ff3300"/><rect x="953.48" y="637.0" width="21.78" height="12.6" fill="#ff0000"/><rect x="974.95" y="637.0" width="21.78" height="12.6" fill="#cc0000"/><rect x="996.43" y="637.0" width="21.78" height="12.6" fill="#990000"/><rect x="588.5" y="637.0" width="429.5" height="12.6" fill="none" stroke="#222" stroke-width="1.2"/><path d="M695.9 637.0 V649.6" stroke="#111" stroke-width="1.1" stroke-dasharray="3.5 2"/><path d="M803.2 637.0 V649.6" stroke="#111" stroke-width="1.1" stroke-dasharray="3.5 2"/><path d="M910.6 637.0 V649.6" stroke="#111" stroke-width="1.1" stroke-dasharray="3.5 2"/><g font-family="Liberation Mono, monospace" fill="#3c3c3c"><text x="588.5" y="633.8" font-size="16.6" text-anchor="middle" >0.1</text><text x="695.9" y="633.8" font-size="16.6" text-anchor="middle" >0.2</text><text x="803.2" y="633.8" font-size="16.6" text-anchor="middle" >0.3</text><text x="910.6" y="633.8" font-size="16.6" text-anchor="middle" >0.4</text><text x="1018.0" y="633.8" font-size="16.6" text-anchor="middle" >0.5</text></g>
<rect x="65.40" y="932.4" width="14.55" height="13.1" fill="#440066"/><rect x="79.65" y="932.4" width="14.55" height="13.1" fill="#4400bb"/><rect x="93.90" y="932.4" width="14.55" height="13.1" fill="#2222dd"/><rect x="108.15" y="932.4" width="14.55" height="13.1" fill="#0044ff"/><rect x="122.40" y="932.4" width="14.55" height="13.1" fill="#0077ff"/><rect x="136.65" y="932.4" width="14.55" height="13.1" fill="#0099ff"/><rect x="150.90" y="932.4" width="14.55" height="13.1" fill="#22aaff"/><rect x="165.15" y="932.4" width="14.55" height="13.1" fill="#44bbff"/><rect x="179.40" y="932.4" width="14.55" height="13.1" fill="#44d5ff"/><rect x="193.65" y="932.4" width="14.55" height="13.1" fill="#44eeff"/><rect x="207.90" y="932.4" width="14.55" height="13.1" fill="#44ffff"/><rect x="222.15" y="932.4" width="14.55" height="13.1" fill="#44ffcc"/><rect x="236.40" y="932.4" width="14.55" height="13.1" fill="#44ee88"/><rect x="250.65" y="932.4" width="14.55" height="13.1" fill="#44ee33"/><rect x="264.90" y="932.4" width="14.55" height="13.1" fill="#66ee33"/><rect x="279.15" y="932.4" width="14.55" height="13.1" fill="#99ee33"/><rect x="293.40" y="932.4" width="14.55" height="13.1" fill="#bbff44"/><rect x="307.65" y="932.4" width="14.55" height="13.1" fill="#e5ff44"/><rect x="321.90" y="932.4" width="14.55" height="13.1" fill="#ffee44"/><rect x="336.15" y="932.4" width="14.55" height="13.1" fill="#ffdd44"/><rect x="350.40" y="932.4" width="14.55" height="13.1" fill="#ffaa33"/><rect x="364.65" y="932.4" width="14.55" height="13.1" fill="#ff8833"/><rect x="378.90" y="932.4" width="14.55" height="13.1" fill="#ff5544"/><rect x="393.15" y="932.4" width="14.55" height="13.1" fill="#ff3344"/><rect x="407.40" y="932.4" width="14.55" height="13.1" fill="#ff3366"/><rect x="421.65" y="932.4" width="14.55" height="13.1" fill="#ff55bb"/><rect x="435.90" y="932.4" width="14.55" height="13.1" fill="#ff88ee"/><rect x="450.15" y="932.4" width="14.55" height="13.1" fill="#ffbbf5"/><rect x="464.40" y="932.4" width="14.55" height="13.1" fill="#ffddd8"/><rect x="478.65" y="932.4" width="14.55" height="13.1" fill="#fff0fa"/><rect x="65.5" y="932.4" width="427.5" height="13.1" fill="none" stroke="#222" stroke-width="1.2"/><path d="M136.8 932.4 V945.5" stroke="#111" stroke-width="1.1" stroke-dasharray="3.5 2"/><path d="M208.0 932.4 V945.5" stroke="#111" stroke-width="1.1" stroke-dasharray="3.5 2"/><path d="M279.2 932.4 V945.5" stroke="#111" stroke-width="1.1" stroke-dasharray="3.5 2"/><path d="M350.5 932.4 V945.5" stroke="#111" stroke-width="1.1" stroke-dasharray="3.5 2"/><path d="M421.8 932.4 V945.5" stroke="#111" stroke-width="1.1" stroke-dasharray="3.5 2"/><g font-family="Liberation Mono, monospace" fill="#3c3c3c"><text x="65.5" y="929.3" font-size="16.6" text-anchor="middle" >0</text><text x="136.8" y="929.3" font-size="16.6" text-anchor="middle" >5</text><text x="208.0" y="929.3" font-size="16.6" text-anchor="middle" >10</text><text x="279.2" y="929.3" font-size="16.6" text-anchor="middle" >15</text><text x="350.5" y="929.3" font-size="16.6" text-anchor="middle" >20</text><text x="421.8" y="929.3" font-size="16.6" text-anchor="middle" >25</text><text x="493.0" y="929.3" font-size="16.6" text-anchor="middle" >30</text></g>
<rect x="588.40" y="932.7" width="21.81" height="13.0" fill="#00009a"/><rect x="609.91" y="932.7" width="21.81" height="13.0" fill="#0000cd"/><rect x="631.43" y="932.7" width="21.81" height="13.0" fill="#0000ff"/><rect x="652.94" y="932.7" width="21.81" height="13.0" fill="#0033ff"/><rect x="674.46" y="932.7" width="21.81" height="13.0" fill="#0066ff"/><rect x="695.98" y="932.7" width="21.81" height="13.0" fill="#0099ff"/><rect x="717.49" y="932.7" width="21.81" height="13.0" fill="#00ccff"/><rect x="739.00" y="932.7" width="21.81" height="13.0" fill="#00ffff"/><rect x="760.52" y="932.7" width="21.81" height="13.0" fill="#33ffcc"/><rect x="782.03" y="932.7" width="21.81" height="13.0" fill="#66ff99"/><rect x="803.55" y="932.7" width="21.81" height="13.0" fill="#99ff66"/><rect x="825.06" y="932.7" width="21.81" height="13.0" fill="#ccff33"/><rect x="846.58" y="932.7" width="21.81" height="13.0" fill="#ffff00"/><rect x="868.09" y="932.7" width="21.81" height="13.0" fill="#ffcc00"/><rect x="889.61" y="932.7" width="21.81" height="13.0" fill="#ff9900"/><rect x="911.12" y="932.7" width="21.81" height="13.0" fill="#ff6600"/><rect x="932.64" y="932.7" width="21.81" height="13.0" fill="#ff3300"/><rect x="954.15" y="932.7" width="21.81" height="13.0" fill="#ff0000"/><rect x="975.67" y="932.7" width="21.81" height="13.0" fill="#cc0000"/><rect x="997.18" y="932.7" width="21.81" height="13.0" fill="#990000"/><rect x="588.5" y="932.7" width="430.3" height="13.0" fill="none" stroke="#222" stroke-width="1.2"/><path d="M674.6 932.7 V945.7" stroke="#111" stroke-width="1.1" stroke-dasharray="3.5 2"/><path d="M760.6 932.7 V945.7" stroke="#111" stroke-width="1.1" stroke-dasharray="3.5 2"/><path d="M846.7 932.7 V945.7" stroke="#111" stroke-width="1.1" stroke-dasharray="3.5 2"/><path d="M932.7 932.7 V945.7" stroke="#111" stroke-width="1.1" stroke-dasharray="3.5 2"/><g font-family="Liberation Mono, monospace" fill="#3c3c3c"><text x="588.5" y="929.5" font-size="16.6" text-anchor="middle" >0</text><text x="674.6" y="929.5" font-size="16.6" text-anchor="middle" >2</text><text x="760.6" y="929.5" font-size="16.6" text-anchor="middle" >4</text><text x="846.7" y="929.5" font-size="16.6" text-anchor="middle" >6</text><text x="932.7" y="929.5" font-size="16.6" text-anchor="middle" >8</text><text x="1018.8" y="929.5" font-size="16.6" text-anchor="middle" >10</text></g>
<g font-family="Liberation Mono, monospace" fill="#3c3c3c"><text x="434.3" y="364.7" font-size="16.6" text-anchor="start" >x 10</text><text x="476.2" y="351.5" font-size="13.2" text-anchor="start" >−5</text></g>
<text x="445.0" y="267.0" font-size="28" textLength="33.4" lengthAdjust="spacingAndGlyphs" font-family="Liberation Sans, sans-serif" font-weight="bold">(a)</text><text x="487.6" y="269.3" font-size="40.5" textLength="27.2" lengthAdjust="spacingAndGlyphs" font-family="Liberation Serif, serif" font-weight="bold" font-style="italic">u</text><rect x="487.1" y="239.0" width="27.9" height="3.2" fill="#000"/>
<text x="975.1" y="266.8" font-size="28" textLength="36.2" lengthAdjust="spacingAndGlyphs" font-family="Liberation Sans, sans-serif" font-weight="bold">(b)</text><text x="1025.2" y="270.2" font-size="43.0" textLength="25.4" lengthAdjust="spacingAndGlyphs" font-family="Liberation Serif, serif" font-weight="bold" font-style="italic">v</text><rect x="1024.9" y="238.8" width="26.1" height="3.2" fill="#000"/>
<text x="444.9" y="561.5" font-size="28" textLength="34.6" lengthAdjust="spacingAndGlyphs" font-family="Liberation Sans, sans-serif" font-weight="bold">(c)</text><text x="484.0" y="562.3" font-size="41.5" textLength="32.4" lengthAdjust="spacingAndGlyphs" font-family="Liberation Serif, serif" font-weight="bold" font-style="italic">w</text><rect x="483.0" y="530.9" width="34.2" height="3.2" fill="#000"/>
<text x="975.1" y="561.8" font-size="28" textLength="36.2" lengthAdjust="spacingAndGlyphs" font-family="Liberation Sans, sans-serif" font-weight="bold">(d)</text><text x="1024.4" y="561.8" font-size="43.0" textLength="25.4" lengthAdjust="spacingAndGlyphs" font-family="Liberation Serif, serif" font-weight="bold" font-style="italic">ρ</text><rect x="1023.8" y="530.7" width="27.2" height="3.2" fill="#000"/>
<text x="444.9" y="875.9" font-size="28" textLength="34.5" lengthAdjust="spacingAndGlyphs" font-family="Liberation Sans, sans-serif" font-weight="bold">(e)</text><text x="489.5" y="887.1" font-size="43.0" font-family="Liberation Serif, serif" font-weight="bold" font-style="italic">N</text><text x="523.0" y="887.1" font-size="43.0" font-family="Liberation Serif, serif" font-weight="bold" font-style="italic">O</text><text x="553.3" y="896.2" font-size="26.0" font-family="Liberation Serif, serif" font-weight="bold">3</text><rect x="488.1" y="848.0" width="80.7" height="3.2" fill="#000"/>
<text x="975.7" y="875.9" font-size="28" textLength="27.9" lengthAdjust="spacingAndGlyphs" font-family="Liberation Sans, sans-serif" font-weight="bold">(f)</text><text x="1015.7" y="887.1" font-size="43.0" font-family="Liberation Serif, serif" font-weight="bold" font-style="italic">N</text><text x="1049.6" y="887.1" font-size="43.0" font-family="Liberation Serif, serif" font-weight="bold" font-style="italic">H</text><text x="1082.8" y="896.2" font-size="26.0" font-family="Liberation Serif, serif" font-weight="bold">4</text><rect x="1013.9" y="848.0" width="84.2" height="3.2" fill="#000"/>
<text x="444.9" y="1170.8" font-size="28" textLength="35.1" lengthAdjust="spacingAndGlyphs" font-family="Liberation Sans, sans-serif" font-weight="bold">(g)</text><text x="489.2" y="1180.8" font-size="43.0" font-family="Liberation Serif, serif" font-weight="bold" font-style="italic">P</text><text x="519.3" y="1180.8" font-size="43.0" font-family="Liberation Serif, serif" font-weight="bold" font-style="italic">P</text><rect x="486.8" y="1141.2" width="60.2" height="3.2" fill="#000"/>
<text x="975.7" y="1171.3" font-size="28" textLength="35.4" lengthAdjust="spacingAndGlyphs" font-family="Liberation Sans, sans-serif" font-weight="bold">(h)</text><text x="1028.3" y="1180.8" font-size="43.0" font-family="Liberation Serif, serif" font-weight="bold" font-style="italic">P</text><text x="1058.5" y="1180.8" font-size="43.0" font-family="Liberation Serif, serif" font-weight="bold" font-style="italic">O</text><text x="1090.2" y="1180.8" font-size="43.0" font-family="Liberation Serif, serif" font-weight="bold" font-style="italic">C</text><rect x="1026.0" y="1141.2" width="88.1" height="3.2" fill="#000"/>
</svg></body></html>
